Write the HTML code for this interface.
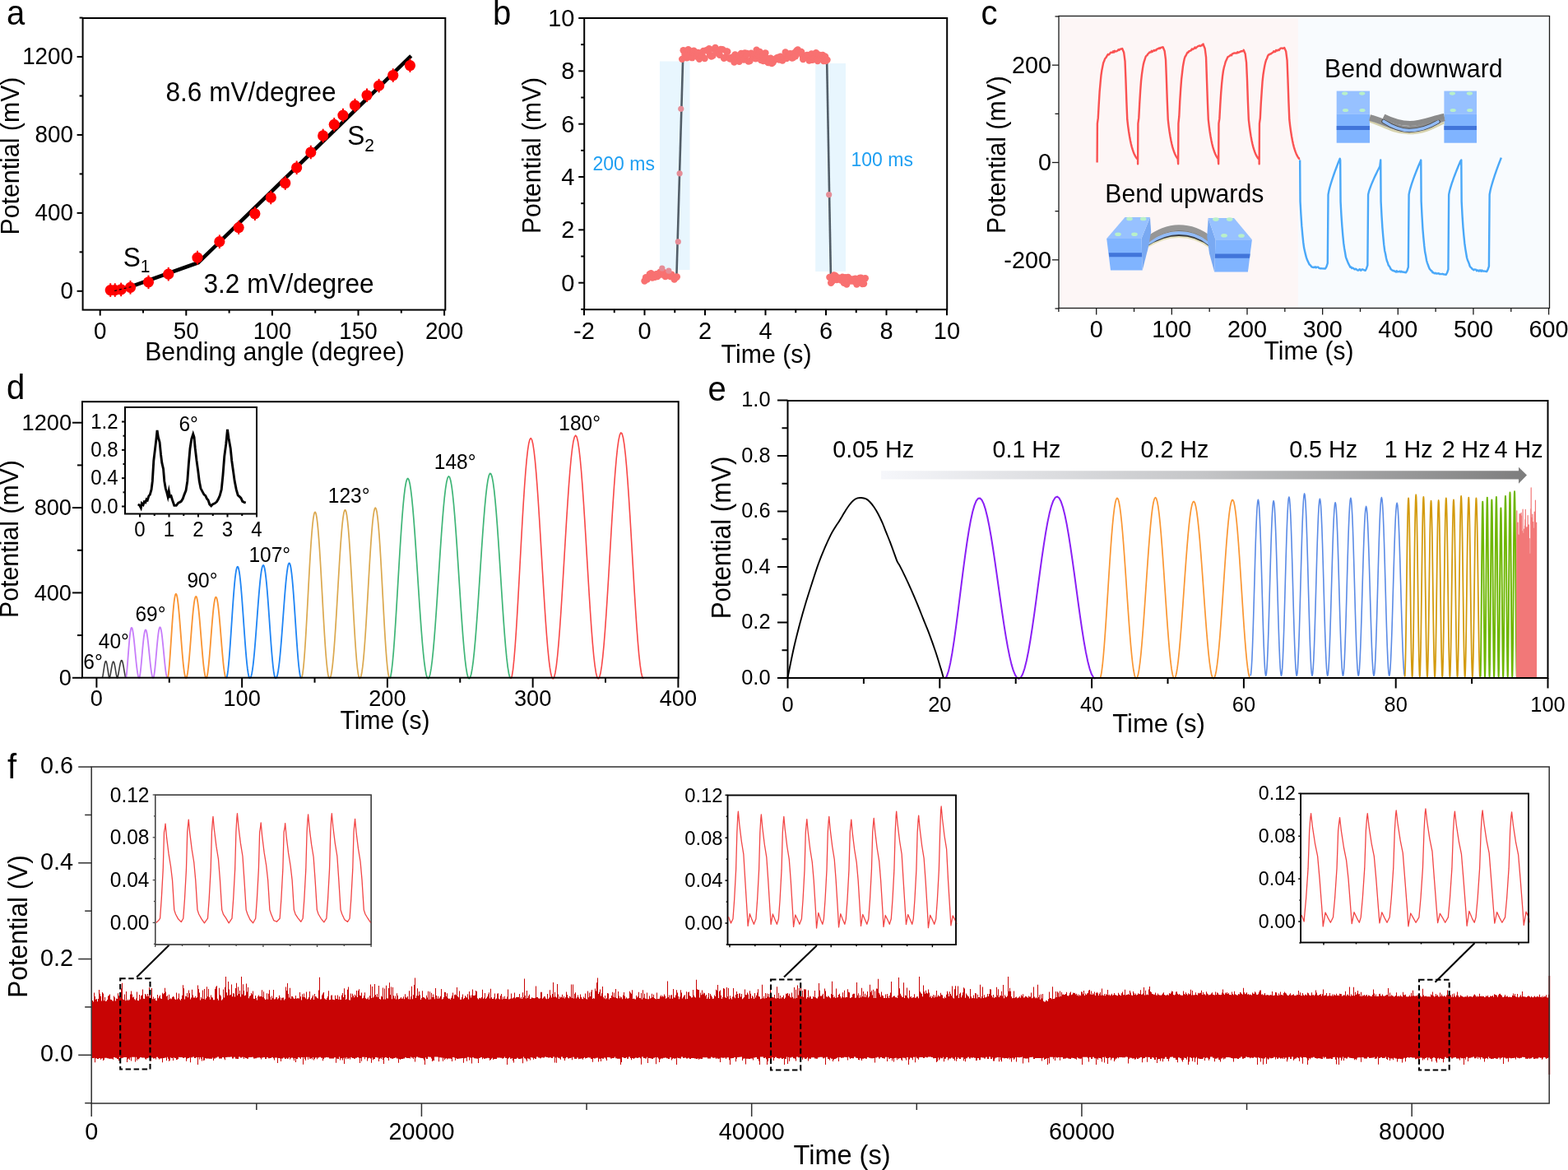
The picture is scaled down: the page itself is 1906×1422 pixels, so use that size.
<!DOCTYPE html>
<html><head><meta charset="utf-8"><title>Figure</title>
<style>html,body{margin:0;padding:0;background:#fff}svg{display:block}text{font-family:"Liberation Sans",sans-serif}</style>
</head><body>
<svg width="1906" height="1422" viewBox="0 0 1906 1422">
<rect width="1906" height="1422" fill="#fff"/>
<rect x="100.6" y="22" width="440.7" height="354.6" fill="none" stroke="#000" stroke-width="2" />
<line x1="121.7" y1="376.6" x2="121.7" y2="383.6" stroke="#000" stroke-width="2" />
<line x1="226.3" y1="376.6" x2="226.3" y2="383.6" stroke="#000" stroke-width="2" />
<line x1="330.9" y1="376.6" x2="330.9" y2="383.6" stroke="#000" stroke-width="2" />
<line x1="435.5" y1="376.6" x2="435.5" y2="383.6" stroke="#000" stroke-width="2" />
<line x1="540.1" y1="376.6" x2="540.1" y2="383.6" stroke="#000" stroke-width="2" />
<line x1="174" y1="376.6" x2="174" y2="380.6" stroke="#000" stroke-width="2" />
<line x1="278.6" y1="376.6" x2="278.6" y2="380.6" stroke="#000" stroke-width="2" />
<line x1="383.2" y1="376.6" x2="383.2" y2="380.6" stroke="#000" stroke-width="2" />
<line x1="487.8" y1="376.6" x2="487.8" y2="380.6" stroke="#000" stroke-width="2" />
<line x1="93.6" y1="353.8" x2="100.6" y2="353.8" stroke="#000" stroke-width="2" />
<line x1="93.6" y1="258.88" x2="100.6" y2="258.88" stroke="#000" stroke-width="2" />
<line x1="93.6" y1="163.96" x2="100.6" y2="163.96" stroke="#000" stroke-width="2" />
<line x1="93.6" y1="69.04" x2="100.6" y2="69.04" stroke="#000" stroke-width="2" />
<line x1="96.6" y1="306.34" x2="100.6" y2="306.34" stroke="#000" stroke-width="2" />
<line x1="96.6" y1="211.42" x2="100.6" y2="211.42" stroke="#000" stroke-width="2" />
<line x1="96.6" y1="116.5" x2="100.6" y2="116.5" stroke="#000" stroke-width="2" />
<line x1="96.6" y1="21.58" x2="100.6" y2="21.58" stroke="#000" stroke-width="2" />
<text transform="translate(121.7 411.5) scale(1 1.04)" font-size="27.8" text-anchor="middle" >0</text>
<text transform="translate(226.3 411.5) scale(1 1.04)" font-size="27.8" text-anchor="middle" >50</text>
<text transform="translate(330.9 411.5) scale(1 1.04)" font-size="27.8" text-anchor="middle" >100</text>
<text transform="translate(435.5 411.5) scale(1 1.04)" font-size="27.8" text-anchor="middle" >150</text>
<text transform="translate(540.1 411.5) scale(1 1.04)" font-size="27.8" text-anchor="middle" >200</text>
<text transform="translate(89 363.25) scale(1 1.04)" font-size="27.8" text-anchor="end" >0</text>
<text transform="translate(89 268.33) scale(1 1.04)" font-size="27.8" text-anchor="end" >400</text>
<text transform="translate(89 173.41) scale(1 1.04)" font-size="27.8" text-anchor="end" >800</text>
<text transform="translate(89 78.49) scale(1 1.04)" font-size="27.8" text-anchor="end" >1200</text>
<text transform="translate(334 437.5) scale(1 1.04)" font-size="30.2" text-anchor="middle" >Bending angle (degree)</text>
<text transform="translate(22.5 189.5) rotate(-90) scale(1 1.04)" font-size="30.3" text-anchor="middle" >Potential (mV)</text>
<text transform="translate(8 30.3) scale(1 1.04)" font-size="40" >a</text>
<path d="M152.02 350.94 L240.97 319.24 L499.73 67.92" fill="none" stroke="#000" stroke-width="4.6" stroke-linejoin="miter" stroke-miterlimit="4"/>
<circle cx="134.23" cy="352.56" r="6.6" fill="#ff0000"/>
<line x1="134.23" y1="344.26" x2="134.23" y2="360.86" stroke="#ff0000" stroke-width="2" />
<circle cx="139.73" cy="352.56" r="6.6" fill="#ff0000"/>
<line x1="139.73" y1="344.26" x2="139.73" y2="360.86" stroke="#ff0000" stroke-width="2" />
<circle cx="147.17" cy="351.91" r="6.6" fill="#ff0000"/>
<line x1="147.17" y1="343.61" x2="147.17" y2="360.21" stroke="#ff0000" stroke-width="2" />
<circle cx="158.49" cy="349.32" r="6.6" fill="#ff0000"/>
<line x1="158.49" y1="341.02" x2="158.49" y2="357.62" stroke="#ff0000" stroke-width="2" />
<circle cx="180.48" cy="342.85" r="6.6" fill="#ff0000"/>
<line x1="180.48" y1="334.55" x2="180.48" y2="351.15" stroke="#ff0000" stroke-width="2" />
<circle cx="204.74" cy="333.15" r="6.6" fill="#ff0000"/>
<line x1="204.74" y1="324.85" x2="204.74" y2="341.45" stroke="#ff0000" stroke-width="2" />
<circle cx="240" cy="313.1" r="6.6" fill="#ff0000"/>
<line x1="240" y1="304.8" x2="240" y2="321.4" stroke="#ff0000" stroke-width="2" />
<circle cx="266.84" cy="293.69" r="6.6" fill="#ff0000"/>
<line x1="266.84" y1="285.39" x2="266.84" y2="301.99" stroke="#ff0000" stroke-width="2" />
<circle cx="290.13" cy="276.55" r="6.6" fill="#ff0000"/>
<line x1="290.13" y1="268.25" x2="290.13" y2="284.85" stroke="#ff0000" stroke-width="2" />
<circle cx="309.86" cy="259.73" r="6.6" fill="#ff0000"/>
<line x1="309.86" y1="251.43" x2="309.86" y2="268.03" stroke="#ff0000" stroke-width="2" />
<circle cx="329.27" cy="240" r="6.6" fill="#ff0000"/>
<line x1="329.27" y1="231.7" x2="329.27" y2="248.3" stroke="#ff0000" stroke-width="2" />
<circle cx="346.73" cy="222.53" r="6.6" fill="#ff0000"/>
<line x1="346.73" y1="214.23" x2="346.73" y2="230.83" stroke="#ff0000" stroke-width="2" />
<circle cx="360.64" cy="203.77" r="6.6" fill="#ff0000"/>
<line x1="360.64" y1="195.47" x2="360.64" y2="212.07" stroke="#ff0000" stroke-width="2" />
<circle cx="377.79" cy="185.01" r="6.6" fill="#ff0000"/>
<line x1="377.79" y1="176.71" x2="377.79" y2="193.31" stroke="#ff0000" stroke-width="2" />
<circle cx="392.66" cy="164.96" r="6.6" fill="#ff0000"/>
<line x1="392.66" y1="156.66" x2="392.66" y2="173.26" stroke="#ff0000" stroke-width="2" />
<circle cx="406.25" cy="151.37" r="6.6" fill="#ff0000"/>
<line x1="406.25" y1="143.07" x2="406.25" y2="159.67" stroke="#ff0000" stroke-width="2" />
<circle cx="416.92" cy="140.05" r="6.6" fill="#ff0000"/>
<line x1="416.92" y1="131.75" x2="416.92" y2="148.35" stroke="#ff0000" stroke-width="2" />
<circle cx="431.48" cy="128.08" r="6.6" fill="#ff0000"/>
<line x1="431.48" y1="119.78" x2="431.48" y2="136.38" stroke="#ff0000" stroke-width="2" />
<circle cx="446.03" cy="115.79" r="6.6" fill="#ff0000"/>
<line x1="446.03" y1="107.49" x2="446.03" y2="124.09" stroke="#ff0000" stroke-width="2" />
<circle cx="460.59" cy="104.15" r="6.6" fill="#ff0000"/>
<line x1="460.59" y1="95.85" x2="460.59" y2="112.45" stroke="#ff0000" stroke-width="2" />
<circle cx="477.73" cy="91.54" r="6.6" fill="#ff0000"/>
<line x1="477.73" y1="83.24" x2="477.73" y2="99.84" stroke="#ff0000" stroke-width="2" />
<circle cx="498.43" cy="79.57" r="6.6" fill="#ff0000"/>
<line x1="498.43" y1="71.27" x2="498.43" y2="87.87" stroke="#ff0000" stroke-width="2" />
<path d="M139.08 353.53 L161.72 348.03" fill="none" stroke="#000" stroke-width="1.2" stroke-linejoin="round" stroke-dasharray="3 3"/>
<text transform="translate(201.5 123) scale(1 1.04)" font-size="31.6" >8.6 mV/degree</text>
<text transform="translate(247.5 356) scale(1 1.04)" font-size="31.6" >3.2 mV/degree</text>
<text transform="translate(149.8 323.5) scale(1 1.04)" font-size="31.6" >S<tspan font-size="21" dy="7.5">1</tspan></text>
<text transform="translate(422.3 176) scale(1 1.04)" font-size="31.6" >S<tspan font-size="21" dy="7.5">2</tspan></text>
<rect x="802" y="74.5" width="36.5" height="253.5" fill="#e8f6fe" stroke="none" stroke-width="1" />
<rect x="991.2" y="77" width="36.8" height="253" fill="#e8f6fe" stroke="none" stroke-width="1" />
<rect x="710.2" y="22" width="441" height="354.2" fill="none" stroke="#000" stroke-width="2" />
<line x1="710" y1="376.2" x2="710" y2="383.2" stroke="#000" stroke-width="2" />
<line x1="783.5" y1="376.2" x2="783.5" y2="383.2" stroke="#000" stroke-width="2" />
<line x1="857" y1="376.2" x2="857" y2="383.2" stroke="#000" stroke-width="2" />
<line x1="930.5" y1="376.2" x2="930.5" y2="383.2" stroke="#000" stroke-width="2" />
<line x1="1004" y1="376.2" x2="1004" y2="383.2" stroke="#000" stroke-width="2" />
<line x1="1077.5" y1="376.2" x2="1077.5" y2="383.2" stroke="#000" stroke-width="2" />
<line x1="1151" y1="376.2" x2="1151" y2="383.2" stroke="#000" stroke-width="2" />
<line x1="746.75" y1="376.2" x2="746.75" y2="380.2" stroke="#000" stroke-width="2" />
<line x1="820.25" y1="376.2" x2="820.25" y2="380.2" stroke="#000" stroke-width="2" />
<line x1="893.75" y1="376.2" x2="893.75" y2="380.2" stroke="#000" stroke-width="2" />
<line x1="967.25" y1="376.2" x2="967.25" y2="380.2" stroke="#000" stroke-width="2" />
<line x1="1040.75" y1="376.2" x2="1040.75" y2="380.2" stroke="#000" stroke-width="2" />
<line x1="1114.25" y1="376.2" x2="1114.25" y2="380.2" stroke="#000" stroke-width="2" />
<line x1="703.2" y1="343.7" x2="710.2" y2="343.7" stroke="#000" stroke-width="2" />
<line x1="703.2" y1="279.36" x2="710.2" y2="279.36" stroke="#000" stroke-width="2" />
<line x1="703.2" y1="215.02" x2="710.2" y2="215.02" stroke="#000" stroke-width="2" />
<line x1="703.2" y1="150.68" x2="710.2" y2="150.68" stroke="#000" stroke-width="2" />
<line x1="703.2" y1="86.34" x2="710.2" y2="86.34" stroke="#000" stroke-width="2" />
<line x1="703.2" y1="22" x2="710.2" y2="22" stroke="#000" stroke-width="2" />
<line x1="706.2" y1="375.87" x2="710.2" y2="375.87" stroke="#000" stroke-width="2" />
<line x1="706.2" y1="311.53" x2="710.2" y2="311.53" stroke="#000" stroke-width="2" />
<line x1="706.2" y1="247.19" x2="710.2" y2="247.19" stroke="#000" stroke-width="2" />
<line x1="706.2" y1="182.85" x2="710.2" y2="182.85" stroke="#000" stroke-width="2" />
<line x1="706.2" y1="118.51" x2="710.2" y2="118.51" stroke="#000" stroke-width="2" />
<line x1="706.2" y1="54.17" x2="710.2" y2="54.17" stroke="#000" stroke-width="2" />
<text transform="translate(710 412) scale(1 1.04)" font-size="29" text-anchor="middle" >-2</text>
<text transform="translate(783.5 412) scale(1 1.04)" font-size="29" text-anchor="middle" >0</text>
<text transform="translate(857 412) scale(1 1.04)" font-size="29" text-anchor="middle" >2</text>
<text transform="translate(930.5 412) scale(1 1.04)" font-size="29" text-anchor="middle" >4</text>
<text transform="translate(1004 412) scale(1 1.04)" font-size="29" text-anchor="middle" >6</text>
<text transform="translate(1077.5 412) scale(1 1.04)" font-size="29" text-anchor="middle" >8</text>
<text transform="translate(1151 412) scale(1 1.04)" font-size="29" text-anchor="middle" >10</text>
<text transform="translate(698.5 353.56) scale(1 1.04)" font-size="29" text-anchor="end" >0</text>
<text transform="translate(698.5 289.22) scale(1 1.04)" font-size="29" text-anchor="end" >2</text>
<text transform="translate(698.5 224.88) scale(1 1.04)" font-size="29" text-anchor="end" >4</text>
<text transform="translate(698.5 160.54) scale(1 1.04)" font-size="29" text-anchor="end" >6</text>
<text transform="translate(698.5 96.2) scale(1 1.04)" font-size="29" text-anchor="end" >8</text>
<text transform="translate(698.5 31.86) scale(1 1.04)" font-size="29" text-anchor="end" >10</text>
<text transform="translate(931.5 441) scale(1 1.04)" font-size="30.3" text-anchor="middle" >Time (s)</text>
<text transform="translate(657 189) rotate(-90) scale(1 1.04)" font-size="30" text-anchor="middle" >Potential (mV)</text>
<text transform="translate(599 30) scale(1 1.04)" font-size="40" >b</text>
<path d="M822.46 334.05 L830.17 70.25" fill="none" stroke="#525e68" stroke-width="2.6" stroke-linejoin="round" />
<path d="M1005.1 71.86 L1009.88 334.05" fill="none" stroke="#525e68" stroke-width="2.6" stroke-linejoin="round" />
<circle cx="783.5" cy="341.45" r="4.2" fill="#f87171"/>
<circle cx="785.07" cy="337.27" r="4.2" fill="#f87171"/>
<circle cx="786.65" cy="339.54" r="4.2" fill="#f87171"/>
<circle cx="788.22" cy="336.92" r="4.2" fill="#f87171"/>
<circle cx="789.79" cy="333.09" r="4.2" fill="#f87171"/>
<circle cx="791.36" cy="332.24" r="4.2" fill="#f87171"/>
<circle cx="792.94" cy="337.43" r="4.2" fill="#f87171"/>
<circle cx="794.51" cy="336.11" r="4.2" fill="#f87171"/>
<circle cx="796.08" cy="336.71" r="4.2" fill="#f87171"/>
<circle cx="797.66" cy="333.2" r="4.2" fill="#f87171"/>
<circle cx="799.23" cy="335.97" r="4.2" fill="#f87171"/>
<circle cx="800.8" cy="332.38" r="4.2" fill="#f87171"/>
<circle cx="802.37" cy="330.71" r="4.2" fill="#f87171"/>
<circle cx="803.95" cy="333.51" r="4.2" fill="#f87171"/>
<circle cx="805.52" cy="330.48" r="4.2" fill="#f87171"/>
<circle cx="807.09" cy="331.31" r="4.2" fill="#f87171"/>
<circle cx="808.67" cy="335.96" r="4.2" fill="#f87171"/>
<circle cx="810.24" cy="332.21" r="4.2" fill="#f87171"/>
<circle cx="811.81" cy="335.01" r="4.2" fill="#f87171"/>
<circle cx="813.39" cy="334.39" r="4.2" fill="#f87171"/>
<circle cx="814.96" cy="336.08" r="4.2" fill="#f87171"/>
<circle cx="816.53" cy="333.67" r="4.2" fill="#f87171"/>
<circle cx="818.1" cy="336.43" r="4.2" fill="#f87171"/>
<circle cx="819.68" cy="339.49" r="4.2" fill="#f87171"/>
<circle cx="821.25" cy="337.41" r="4.2" fill="#f87171"/>
<circle cx="822.82" cy="336.54" r="4.2" fill="#f87171"/>
<circle cx="829.15" cy="71.86" r="4.2" fill="#f87171"/>
<circle cx="830.65" cy="61.25" r="4.2" fill="#f87171"/>
<circle cx="832.51" cy="66.48" r="4.2" fill="#f87171"/>
<circle cx="834.93" cy="70.2" r="4.2" fill="#f87171"/>
<circle cx="836.61" cy="60.15" r="4.2" fill="#f87171"/>
<circle cx="837.78" cy="67.73" r="4.2" fill="#f87171"/>
<circle cx="839.74" cy="62.33" r="4.2" fill="#f87171"/>
<circle cx="841.27" cy="70.16" r="4.2" fill="#f87171"/>
<circle cx="842.2" cy="63.45" r="4.2" fill="#f87171"/>
<circle cx="843.4" cy="61.82" r="4.2" fill="#f87171"/>
<circle cx="845.85" cy="63.73" r="4.2" fill="#f87171"/>
<circle cx="847.32" cy="68.67" r="4.2" fill="#f87171"/>
<circle cx="848.65" cy="64.07" r="4.2" fill="#f87171"/>
<circle cx="850.07" cy="71.7" r="4.2" fill="#f87171"/>
<circle cx="851.96" cy="69.44" r="4.2" fill="#f87171"/>
<circle cx="853.67" cy="67.96" r="4.2" fill="#f87171"/>
<circle cx="854.99" cy="61.92" r="4.2" fill="#f87171"/>
<circle cx="856.64" cy="70.96" r="4.2" fill="#f87171"/>
<circle cx="858.51" cy="61.23" r="4.2" fill="#f87171"/>
<circle cx="860.72" cy="61.75" r="4.2" fill="#f87171"/>
<circle cx="861.93" cy="59.23" r="4.2" fill="#f87171"/>
<circle cx="863.1" cy="66.71" r="4.2" fill="#f87171"/>
<circle cx="864.71" cy="68.43" r="4.2" fill="#f87171"/>
<circle cx="866.59" cy="67.6" r="4.2" fill="#f87171"/>
<circle cx="867.84" cy="59.85" r="4.2" fill="#f87171"/>
<circle cx="869.46" cy="57.9" r="4.2" fill="#f87171"/>
<circle cx="871.54" cy="61.26" r="4.2" fill="#f87171"/>
<circle cx="872.53" cy="64.08" r="4.2" fill="#f87171"/>
<circle cx="874.73" cy="66.83" r="4.2" fill="#f87171"/>
<circle cx="876.17" cy="60.07" r="4.2" fill="#f87171"/>
<circle cx="878.29" cy="60.14" r="4.2" fill="#f87171"/>
<circle cx="879.97" cy="70.74" r="4.2" fill="#f87171"/>
<circle cx="881.51" cy="69.73" r="4.2" fill="#f87171"/>
<circle cx="883.12" cy="62.49" r="4.2" fill="#f87171"/>
<circle cx="884.28" cy="62.77" r="4.2" fill="#f87171"/>
<circle cx="886.33" cy="70.54" r="4.2" fill="#f87171"/>
<circle cx="887.46" cy="71.49" r="4.2" fill="#f87171"/>
<circle cx="889.42" cy="70.32" r="4.2" fill="#f87171"/>
<circle cx="890.68" cy="69.38" r="4.2" fill="#f87171"/>
<circle cx="892.47" cy="75.64" r="4.2" fill="#f87171"/>
<circle cx="893.53" cy="66.37" r="4.2" fill="#f87171"/>
<circle cx="895.41" cy="70.6" r="4.2" fill="#f87171"/>
<circle cx="898.1" cy="67.7" r="4.2" fill="#f87171"/>
<circle cx="898.63" cy="74.7" r="4.2" fill="#f87171"/>
<circle cx="900.93" cy="65.07" r="4.2" fill="#f87171"/>
<circle cx="902.48" cy="67.58" r="4.2" fill="#f87171"/>
<circle cx="904.21" cy="72.45" r="4.2" fill="#f87171"/>
<circle cx="905.46" cy="64.33" r="4.2" fill="#f87171"/>
<circle cx="907.26" cy="66.99" r="4.2" fill="#f87171"/>
<circle cx="908.1" cy="64.93" r="4.2" fill="#f87171"/>
<circle cx="909.73" cy="74.65" r="4.2" fill="#f87171"/>
<circle cx="911.53" cy="73.98" r="4.2" fill="#f87171"/>
<circle cx="913.08" cy="64.71" r="4.2" fill="#f87171"/>
<circle cx="914.62" cy="69.98" r="4.2" fill="#f87171"/>
<circle cx="916.28" cy="66.96" r="4.2" fill="#f87171"/>
<circle cx="918.52" cy="71.37" r="4.2" fill="#f87171"/>
<circle cx="919.61" cy="60.77" r="4.2" fill="#f87171"/>
<circle cx="922.35" cy="67.06" r="4.2" fill="#f87171"/>
<circle cx="923.57" cy="63.05" r="4.2" fill="#f87171"/>
<circle cx="924.98" cy="73.06" r="4.2" fill="#f87171"/>
<circle cx="926.84" cy="68.35" r="4.2" fill="#f87171"/>
<circle cx="927.81" cy="74.01" r="4.2" fill="#f87171"/>
<circle cx="930.4" cy="64.33" r="4.2" fill="#f87171"/>
<circle cx="931.89" cy="70.5" r="4.2" fill="#f87171"/>
<circle cx="933.34" cy="75.85" r="4.2" fill="#f87171"/>
<circle cx="934.6" cy="76.16" r="4.2" fill="#f87171"/>
<circle cx="936.75" cy="70.79" r="4.2" fill="#f87171"/>
<circle cx="938.23" cy="77.05" r="4.2" fill="#f87171"/>
<circle cx="939.72" cy="75.85" r="4.2" fill="#f87171"/>
<circle cx="941.71" cy="72.66" r="4.2" fill="#f87171"/>
<circle cx="942.92" cy="71.79" r="4.2" fill="#f87171"/>
<circle cx="944.14" cy="70.52" r="4.2" fill="#f87171"/>
<circle cx="946.04" cy="69.62" r="4.2" fill="#f87171"/>
<circle cx="947.13" cy="72.47" r="4.2" fill="#f87171"/>
<circle cx="948.74" cy="68.7" r="4.2" fill="#f87171"/>
<circle cx="951.15" cy="73.56" r="4.2" fill="#f87171"/>
<circle cx="952.85" cy="71.2" r="4.2" fill="#f87171"/>
<circle cx="954.74" cy="63.5" r="4.2" fill="#f87171"/>
<circle cx="956.18" cy="71.1" r="4.2" fill="#f87171"/>
<circle cx="957.35" cy="69.64" r="4.2" fill="#f87171"/>
<circle cx="958.3" cy="68.97" r="4.2" fill="#f87171"/>
<circle cx="960.51" cy="65.09" r="4.2" fill="#f87171"/>
<circle cx="962.77" cy="70.64" r="4.2" fill="#f87171"/>
<circle cx="964.18" cy="70.03" r="4.2" fill="#f87171"/>
<circle cx="965.36" cy="64.37" r="4.2" fill="#f87171"/>
<circle cx="966.93" cy="68.21" r="4.2" fill="#f87171"/>
<circle cx="968.2" cy="61.65" r="4.2" fill="#f87171"/>
<circle cx="969.76" cy="60.4" r="4.2" fill="#f87171"/>
<circle cx="971.23" cy="63.53" r="4.2" fill="#f87171"/>
<circle cx="974.05" cy="62.9" r="4.2" fill="#f87171"/>
<circle cx="975.29" cy="67.27" r="4.2" fill="#f87171"/>
<circle cx="976.18" cy="72.04" r="4.2" fill="#f87171"/>
<circle cx="978.2" cy="67.77" r="4.2" fill="#f87171"/>
<circle cx="979.28" cy="69.06" r="4.2" fill="#f87171"/>
<circle cx="981.14" cy="66.84" r="4.2" fill="#f87171"/>
<circle cx="983.52" cy="73.55" r="4.2" fill="#f87171"/>
<circle cx="985.02" cy="72.72" r="4.2" fill="#f87171"/>
<circle cx="986.39" cy="65.43" r="4.2" fill="#f87171"/>
<circle cx="987.7" cy="72.69" r="4.2" fill="#f87171"/>
<circle cx="989.88" cy="70.95" r="4.2" fill="#f87171"/>
<circle cx="991.94" cy="64.13" r="4.2" fill="#f87171"/>
<circle cx="992.8" cy="72.56" r="4.2" fill="#f87171"/>
<circle cx="993.88" cy="74.11" r="4.2" fill="#f87171"/>
<circle cx="995.48" cy="66.69" r="4.2" fill="#f87171"/>
<circle cx="997.13" cy="68.11" r="4.2" fill="#f87171"/>
<circle cx="1000.04" cy="66.9" r="4.2" fill="#f87171"/>
<circle cx="1001.04" cy="74.01" r="4.2" fill="#f87171"/>
<circle cx="1003.1" cy="68.76" r="4.2" fill="#f87171"/>
<circle cx="1003.73" cy="73.96" r="4.2" fill="#f87171"/>
<circle cx="1005.49" cy="72.83" r="4.2" fill="#f87171"/>
<circle cx="1008.41" cy="337.07" r="4.2" fill="#f87171"/>
<circle cx="1010.14" cy="343.84" r="4.2" fill="#f87171"/>
<circle cx="1011.88" cy="341.56" r="4.2" fill="#f87171"/>
<circle cx="1013.61" cy="334.55" r="4.2" fill="#f87171"/>
<circle cx="1015.35" cy="334.85" r="4.2" fill="#f87171"/>
<circle cx="1017.08" cy="340.02" r="4.2" fill="#f87171"/>
<circle cx="1018.82" cy="337.53" r="4.2" fill="#f87171"/>
<circle cx="1020.55" cy="338.72" r="4.2" fill="#f87171"/>
<circle cx="1022.29" cy="340.56" r="4.2" fill="#f87171"/>
<circle cx="1024.02" cy="336.66" r="4.2" fill="#f87171"/>
<circle cx="1025.76" cy="343.83" r="4.2" fill="#f87171"/>
<circle cx="1027.49" cy="337.21" r="4.2" fill="#f87171"/>
<circle cx="1029.23" cy="345.43" r="4.2" fill="#f87171"/>
<circle cx="1030.96" cy="337.06" r="4.2" fill="#f87171"/>
<circle cx="1032.69" cy="339.16" r="4.2" fill="#f87171"/>
<circle cx="1034.43" cy="341.65" r="4.2" fill="#f87171"/>
<circle cx="1036.16" cy="339.45" r="4.2" fill="#f87171"/>
<circle cx="1037.9" cy="341.76" r="4.2" fill="#f87171"/>
<circle cx="1039.63" cy="338.59" r="4.2" fill="#f87171"/>
<circle cx="1041.37" cy="345.58" r="4.2" fill="#f87171"/>
<circle cx="1043.1" cy="341.64" r="4.2" fill="#f87171"/>
<circle cx="1044.84" cy="338.03" r="4.2" fill="#f87171"/>
<circle cx="1046.57" cy="337.58" r="4.2" fill="#f87171"/>
<circle cx="1048.31" cy="344.99" r="4.2" fill="#f87171"/>
<circle cx="1050.04" cy="344.79" r="4.2" fill="#f87171"/>
<circle cx="1051.78" cy="338.2" r="4.2" fill="#f87171"/>
<circle cx="824.29" cy="293.84" r="3.6" fill="#e58d97"/>
<circle cx="826.13" cy="210.84" r="3.6" fill="#e58d97"/>
<circle cx="827.78" cy="132.34" r="3.6" fill="#e58d97"/>
<circle cx="1007.67" cy="236.57" r="3.6" fill="#e58d97"/>
<circle cx="804.82" cy="326.01" r="3.6" fill="#e58d97"/>
<circle cx="812.9" cy="329.22" r="3.6" fill="#e58d97"/>
<text transform="translate(720.5 207) scale(1 1.04)" font-size="23" fill="#1e9ff2" >200 ms</text>
<text transform="translate(1034.5 202) scale(1 1.04)" font-size="23" fill="#1e9ff2" >100 ms</text>
<rect x="1288" y="22.5" width="290" height="352" fill="#fdf6f6" stroke="none" stroke-width="1" />
<rect x="1578" y="22.5" width="305" height="352" fill="#f8fbfe" stroke="none" stroke-width="1" />
<rect x="1287" y="19.5" width="596.5" height="355" fill="none" stroke="#1a1a1a" stroke-width="1.3" />
<line x1="1332.7" y1="374.5" x2="1332.7" y2="382.5" stroke="#1a1a1a" stroke-width="1.3" />
<line x1="1424.35" y1="374.5" x2="1424.35" y2="382.5" stroke="#1a1a1a" stroke-width="1.3" />
<line x1="1516" y1="374.5" x2="1516" y2="382.5" stroke="#1a1a1a" stroke-width="1.3" />
<line x1="1607.65" y1="374.5" x2="1607.65" y2="382.5" stroke="#1a1a1a" stroke-width="1.3" />
<line x1="1699.3" y1="374.5" x2="1699.3" y2="382.5" stroke="#1a1a1a" stroke-width="1.3" />
<line x1="1790.95" y1="374.5" x2="1790.95" y2="382.5" stroke="#1a1a1a" stroke-width="1.3" />
<line x1="1882.6" y1="374.5" x2="1882.6" y2="382.5" stroke="#1a1a1a" stroke-width="1.3" />
<line x1="1286.88" y1="374.5" x2="1286.88" y2="379" stroke="#1a1a1a" stroke-width="1.3" />
<line x1="1378.53" y1="374.5" x2="1378.53" y2="379" stroke="#1a1a1a" stroke-width="1.3" />
<line x1="1470.17" y1="374.5" x2="1470.17" y2="379" stroke="#1a1a1a" stroke-width="1.3" />
<line x1="1561.83" y1="374.5" x2="1561.83" y2="379" stroke="#1a1a1a" stroke-width="1.3" />
<line x1="1653.47" y1="374.5" x2="1653.47" y2="379" stroke="#1a1a1a" stroke-width="1.3" />
<line x1="1745.12" y1="374.5" x2="1745.12" y2="379" stroke="#1a1a1a" stroke-width="1.3" />
<line x1="1836.78" y1="374.5" x2="1836.78" y2="379" stroke="#1a1a1a" stroke-width="1.3" />
<line x1="1279" y1="315.84" x2="1287" y2="315.84" stroke="#1a1a1a" stroke-width="1.3" />
<line x1="1279" y1="197.5" x2="1287" y2="197.5" stroke="#1a1a1a" stroke-width="1.3" />
<line x1="1279" y1="79.16" x2="1287" y2="79.16" stroke="#1a1a1a" stroke-width="1.3" />
<line x1="1282.5" y1="375.01" x2="1287" y2="375.01" stroke="#1a1a1a" stroke-width="1.3" />
<line x1="1282.5" y1="256.67" x2="1287" y2="256.67" stroke="#1a1a1a" stroke-width="1.3" />
<line x1="1282.5" y1="138.33" x2="1287" y2="138.33" stroke="#1a1a1a" stroke-width="1.3" />
<line x1="1282.5" y1="19.99" x2="1287" y2="19.99" stroke="#1a1a1a" stroke-width="1.3" />
<text transform="translate(1332.7 410) scale(1 1.04)" font-size="28.8" text-anchor="middle" >0</text>
<text transform="translate(1424.35 410) scale(1 1.04)" font-size="28.8" text-anchor="middle" >100</text>
<text transform="translate(1516 410) scale(1 1.04)" font-size="28.8" text-anchor="middle" >200</text>
<text transform="translate(1607.65 410) scale(1 1.04)" font-size="28.8" text-anchor="middle" >300</text>
<text transform="translate(1699.3 410) scale(1 1.04)" font-size="28.8" text-anchor="middle" >400</text>
<text transform="translate(1790.95 410) scale(1 1.04)" font-size="28.8" text-anchor="middle" >500</text>
<text transform="translate(1882.6 410) scale(1 1.04)" font-size="28.8" text-anchor="middle" >600</text>
<text transform="translate(1278 325.63) scale(1 1.04)" font-size="28.8" text-anchor="end" >-200</text>
<text transform="translate(1278 207.29) scale(1 1.04)" font-size="28.8" text-anchor="end" >0</text>
<text transform="translate(1278 88.95) scale(1 1.04)" font-size="28.8" text-anchor="end" >200</text>
<text transform="translate(1591 437.3) scale(1 1.04)" font-size="30" text-anchor="middle" >Time (s)</text>
<text transform="translate(1221.5 188) rotate(-90) scale(1 1.04)" font-size="30.3" text-anchor="middle" >Potential (mV)</text>
<text transform="translate(1192.5 30) scale(1 1.04)" font-size="40" >c</text>
<path d="M1333.62 197.5 L1333.89 150.16 L1334.81 143.38 L1335.72 126.45 L1336.64 111.27 L1337.56 101 L1338.47 91.49 L1339.39 85.2 L1340.31 80.8 L1341.22 76.29 L1342.14 74.32 L1343.06 71.5 L1343.97 70.52 L1344.89 69.21 L1345.81 67.61 L1346.72 66.08 L1347.64 66.64 L1348.56 65.88 L1349.47 64.65 L1350.39 63.61 L1351.3 63.84 L1352.22 63.76 L1353.14 62.35 L1354.05 63.63 L1354.97 61.83 L1355.89 62.48 L1356.8 62.39 L1357.72 62.09 L1358.64 61.41 L1359.55 60.17 L1360.47 60.96 L1361.39 59.91 L1362.3 59.47 L1363.22 59.61 L1364.14 58.96 L1364.14 59.04 L1366.15 63.78 L1367.53 74.43 L1368.44 96.91 L1369.36 123.54 L1370.28 145.43 L1371.19 153.28 L1372.11 160.01 L1373.03 165.77 L1373.94 170.72 L1374.86 174.96 L1375.78 178.6 L1376.69 181.71 L1377.61 184.39 L1378.53 186.68 L1379.44 188.64 L1380.36 190.33 L1381.27 191.77 L1382.19 193.01 L1383.11 194.07 L1383.11 199.28 L1383.38 150.16 L1384.3 143.38 L1385.22 125.82 L1386.13 111.02 L1387.05 98.71 L1387.96 90.34 L1388.88 83.86 L1389.8 78.36 L1390.71 74.83 L1391.63 72.27 L1392.55 69.24 L1393.46 67.76 L1394.38 67.29 L1395.3 65.68 L1396.21 64.94 L1397.13 63.62 L1398.05 63.29 L1398.96 63.55 L1399.88 61.85 L1400.8 62.94 L1401.71 62 L1402.63 61.01 L1403.55 61.71 L1404.46 60.75 L1405.38 61.19 L1406.29 59.72 L1407.21 59.2 L1408.13 59.19 L1409.04 58.31 L1409.96 58.97 L1410.88 57.95 L1411.79 57.78 L1412.71 57.47 L1413.63 57.35 L1413.63 57.27 L1415.64 62 L1417.02 72.65 L1417.93 96.91 L1418.85 123.54 L1419.77 145.43 L1420.68 153.28 L1421.6 160.01 L1422.52 165.77 L1423.43 170.72 L1424.35 174.96 L1425.27 178.6 L1426.18 181.71 L1427.1 184.39 L1428.02 186.68 L1428.93 188.64 L1429.85 190.33 L1430.77 191.77 L1431.68 193.01 L1432.14 199.28 L1432.42 150.16 L1433.33 141.23 L1434.25 122.91 L1435.16 108.81 L1436.08 96.71 L1437 88.75 L1437.91 80.78 L1438.83 75.75 L1439.75 71.29 L1440.66 68.69 L1441.58 67.45 L1442.5 65.59 L1443.41 63.78 L1444.33 63.88 L1445.25 62.25 L1446.16 62.07 L1447.08 61.55 L1448 61.12 L1448.91 59.38 L1449.83 60.07 L1450.75 59.45 L1451.66 58.79 L1452.58 57.56 L1453.49 58.59 L1454.41 57.57 L1455.33 57.03 L1456.24 56.08 L1457.16 55.84 L1458.08 55.41 L1458.99 56.1 L1459.91 55.51 L1460.83 55.26 L1461.74 53.98 L1462.66 53.5 L1462.66 54.31 L1464.68 59.04 L1466.05 69.69 L1466.97 96.91 L1467.88 123.54 L1468.8 145.43 L1469.72 153.28 L1470.63 160.01 L1471.55 165.77 L1472.47 170.72 L1473.38 174.96 L1474.3 178.6 L1475.22 181.71 L1476.13 184.39 L1477.05 186.68 L1477.97 188.64 L1478.88 190.33 L1479.8 191.77 L1480.71 193.01 L1481.17 199.28 L1481.45 150.16 L1482.36 144.15 L1483.28 127.21 L1484.2 113.05 L1485.11 101.93 L1486.03 92.92 L1486.95 86.24 L1487.86 81.94 L1488.78 78.73 L1489.7 75.23 L1490.61 73.23 L1491.53 71.27 L1492.45 69.34 L1493.36 68.81 L1494.28 68.31 L1495.2 67.45 L1496.11 66.77 L1497.03 67.36 L1497.94 65.4 L1498.86 65.19 L1499.78 64.63 L1500.69 64.39 L1501.61 64.74 L1502.53 64.37 L1503.44 64.55 L1504.36 63.26 L1505.28 63.94 L1506.19 63.59 L1507.11 63 L1508.03 62.75 L1508.94 62.1 L1509.86 62.28 L1510.78 62.04 L1511.69 61.44 L1511.69 60.82 L1513.71 65.55 L1515.08 76.2 L1516 96.91 L1516.92 123.54 L1517.83 145.43 L1518.75 153.28 L1519.67 160.01 L1520.58 165.77 L1521.5 170.72 L1522.42 174.96 L1523.33 178.6 L1524.25 181.71 L1525.16 184.39 L1526.08 186.68 L1527 188.64 L1527.91 190.33 L1528.83 191.77 L1529.75 193.01 L1530.66 194.07 L1530.66 199.28 L1530.94 150.16 L1531.86 143.47 L1532.77 125.54 L1533.69 111.69 L1534.6 98.77 L1535.52 90.45 L1536.44 84.63 L1537.35 79.45 L1538.27 75.54 L1539.19 72.68 L1540.1 70.97 L1541.02 68.04 L1541.94 66.51 L1542.85 66.43 L1543.77 65.57 L1544.69 65.59 L1545.6 64.97 L1546.52 64.02 L1547.44 63.69 L1548.35 62.25 L1549.27 63.03 L1550.19 62.89 L1551.1 60.87 L1552.02 61.26 L1552.93 61.58 L1553.85 60.52 L1554.77 61.09 L1555.68 59.86 L1556.6 58.71 L1557.52 58.58 L1558.43 58.53 L1559.35 58.96 L1560.27 58.44 L1561.18 58.45 L1561.18 57.86 L1563.2 62.59 L1564.57 73.24 L1565.49 96.91 L1566.41 123.54 L1567.32 145.43 L1568.24 153.28 L1569.16 160.01 L1570.07 165.77 L1570.99 170.72 L1571.91 174.96 L1572.82 178.6 L1573.74 181.71 L1574.66 184.39 L1575.57 186.68 L1576.49 188.64 L1577.41 190.33 L1578.32 191.77 L1579.24 193.01 L1580.15 192.77" fill="none" stroke="#fa5252" stroke-width="2.4" stroke-linejoin="round" />
<path d="M1580.15 194.54 L1580.52 244.84 L1581.44 261.17 L1582.35 274.93 L1583.27 285.06 L1584.19 294.23 L1585.1 301.05 L1586.02 305.26 L1586.94 309.12 L1587.85 312.66 L1588.77 315.36 L1589.69 317.41 L1590.6 319.19 L1591.52 321.41 L1592.44 321.92 L1593.35 323.03 L1594.27 324.26 L1595.19 324.77 L1596.1 324.74 L1597.02 325.09 L1597.94 324.58 L1598.85 324.31 L1599.77 325.38 L1600.68 324.64 L1601.6 324.65 L1602.52 324.79 L1603.43 325.9 L1604.35 326.2 L1605.27 326.23 L1606.18 326.32 L1607.1 326.33 L1611.04 326.49 L1612.42 324.12 L1613.79 319.98 L1614.52 236.55 L1615.44 231.66 L1616.36 228.04 L1617.27 224.78 L1618.19 221.74 L1619.11 218.84 L1620.02 216.06 L1620.94 213.37 L1621.86 210.76 L1622.77 208.21 L1623.69 205.72 L1624.61 203.27 L1625.52 200.87 L1626.44 198.51 L1627.35 196.19 L1628.27 193.9 L1628.73 192.77 L1629.19 194.54 L1629.55 244.84 L1630.47 261.93 L1631.39 275.16 L1632.3 286.13 L1633.22 295.39 L1634.14 301.91 L1635.05 307.06 L1635.97 312.62 L1636.89 315 L1637.8 317.25 L1638.72 319.61 L1639.64 321.36 L1640.55 323.18 L1641.47 324.78 L1642.39 324.54 L1643.3 326.01 L1644.22 325.71 L1645.13 325.83 L1646.05 327.18 L1646.97 327.44 L1647.88 326.68 L1648.8 327.24 L1649.72 328.35 L1650.63 328.53 L1651.55 328.57 L1652.47 327.3 L1653.38 327.52 L1654.3 328.74 L1655.22 327.56 L1656.13 327.31 L1659.62 328.86 L1660.99 326.49 L1662.37 322.35 L1663.1 236.55 L1664.01 232.72 L1664.93 229.88 L1665.85 227.33 L1666.76 224.94 L1667.68 222.67 L1668.6 220.49 L1669.51 218.38 L1670.43 216.33 L1671.35 214.34 L1672.26 212.38 L1673.18 210.47 L1674.1 208.59 L1675.01 206.74 L1675.93 204.92 L1676.85 203.12 L1677.3 202.23 L1678.22 194.54 L1678.59 244.84 L1679.5 262.36 L1680.42 277.01 L1681.34 287.84 L1682.25 297.44 L1683.17 304.67 L1684.09 308.54 L1685 313.52 L1685.92 317.24 L1686.84 319.28 L1687.75 322.37 L1688.67 323.33 L1689.59 324.79 L1690.5 326.97 L1691.42 327.77 L1692.33 328.38 L1693.25 329.02 L1694.17 328.83 L1695.08 329.76 L1696 329.74 L1696.92 330.47 L1697.83 329.26 L1698.75 330.38 L1699.67 330.3 L1700.58 330.16 L1701.5 329.66 L1702.42 330.57 L1703.33 329.73 L1704.25 330.5 L1705.17 330.47 L1709.11 331.22 L1710.48 328.86 L1711.86 324.72 L1712.59 236.55 L1713.51 232 L1714.42 228.62 L1715.34 225.58 L1716.26 222.74 L1717.17 220.04 L1718.09 217.44 L1719 214.94 L1719.92 212.5 L1720.84 210.12 L1721.75 207.8 L1722.67 205.52 L1723.59 203.28 L1724.5 201.08 L1725.42 198.92 L1726.34 196.78 L1726.8 195.72 L1727.25 194.54 L1727.62 244.84 L1728.54 263.15 L1729.45 278.59 L1730.37 289.37 L1731.29 298.96 L1732.2 306.52 L1733.12 310.85 L1734.04 316.51 L1734.95 319.58 L1735.87 321.99 L1736.78 324.55 L1737.7 326.75 L1738.62 327.83 L1739.53 328.89 L1740.45 329.38 L1741.37 331.29 L1742.28 331.05 L1743.2 332.04 L1744.12 332.35 L1745.03 331.75 L1745.95 332.44 L1746.87 332.52 L1747.78 332.3 L1748.7 332.14 L1749.62 333.06 L1750.53 332.83 L1751.45 333.08 L1752.37 333.11 L1753.28 332.82 L1754.2 333.28 L1757.68 333.89 L1759.06 331.52 L1760.43 327.38 L1761.16 236.55 L1762.08 232 L1763 228.62 L1763.91 225.58 L1764.83 222.74 L1765.75 220.04 L1766.66 217.44 L1767.58 214.94 L1768.5 212.5 L1769.41 210.12 L1770.33 207.8 L1771.25 205.52 L1772.16 203.28 L1773.08 201.08 L1773.99 198.92 L1774.91 196.78 L1775.37 195.72 L1776.29 194.54 L1776.65 244.84 L1777.57 262.33 L1778.49 276.35 L1779.4 286.55 L1780.32 295.72 L1781.24 302.33 L1782.15 307.7 L1783.07 313.26 L1783.98 316.18 L1784.9 318.23 L1785.82 320.58 L1786.73 323.54 L1787.65 324.93 L1788.57 325.44 L1789.48 326.95 L1790.4 327.32 L1791.32 328.16 L1792.23 327.52 L1793.15 327.66 L1794.07 327.72 L1794.98 329.25 L1795.9 328.43 L1796.82 328.66 L1797.73 329.68 L1798.65 328.45 L1799.57 328.37 L1800.48 329.75 L1801.4 328.49 L1802.31 329.5 L1803.23 329.37 L1807.17 330.04 L1808.55 327.67 L1809.92 323.53 L1810.65 236.55 L1811.57 231.53 L1812.49 227.81 L1813.4 224.46 L1814.32 221.34 L1815.24 218.36 L1816.15 215.51 L1817.07 212.74 L1817.99 210.06 L1818.9 207.44 L1819.82 204.88 L1820.74 202.37 L1821.65 199.91 L1822.57 197.49 L1823.49 195.1 L1824.4 192.75 L1824.86 191.58" fill="none" stroke="#4aa8f8" stroke-width="2.4" stroke-linejoin="round" />
<text transform="translate(1610 93.7) scale(1 1.04)" font-size="30.2" >Bend downward</text>
<text transform="translate(1343.3 245.7) scale(1 1.04)" font-size="30.2" >Bend upwards</text>
<path d="M124.2 823.88 L124.42 823.54 L124.64 822.84 L124.86 821.91 L125.08 820.79 L125.3 819.53 L125.52 818.16 L125.74 816.72 L125.96 815.23 L126.18 813.74 L126.4 812.26 L126.62 810.83 L126.84 809.46 L127.06 808.2 L127.28 807.06 L127.5 806.05 L127.72 805.21 L127.94 804.53 L128.16 804.04 L128.38 803.74 L128.6 803.64 L128.82 803.74 L129.04 804.04 L129.26 804.53 L129.48 805.21 L129.7 806.05 L129.92 807.06 L130.14 808.2 L130.36 809.46 L130.58 810.83 L130.8 812.26 L131.02 813.74 L131.24 815.23 L131.46 816.72 L131.68 818.16 L131.9 819.53 L132.12 820.79 L132.34 821.91 L132.56 822.84 L132.78 823.54 L133 823.88 L133 823.88 L133.24 823.57 L133.47 822.94 L133.71 822.07 L133.95 821.03 L134.19 819.84 L134.43 818.54 L134.66 817.16 L134.9 815.74 L135.14 814.29 L135.38 812.85 L135.61 811.45 L135.85 810.12 L136.09 808.86 L136.32 807.72 L136.56 806.71 L136.8 805.85 L137.04 805.16 L137.28 804.64 L137.51 804.31 L137.75 804.17 L137.99 804.22 L138.22 804.48 L138.46 804.92 L138.7 805.55 L138.94 806.35 L139.18 807.31 L139.41 808.41 L139.65 809.64 L139.89 810.96 L140.12 812.37 L140.36 813.82 L140.6 815.29 L140.84 816.76 L141.07 818.19 L141.31 819.55 L141.55 820.8 L141.79 821.91 L142.03 822.84 L142.26 823.53 L142.5 823.88 L142.5 823.88 L142.76 823.55 L143.03 822.86 L143.29 821.92 L143.55 820.79 L143.81 819.51 L144.07 818.1 L144.34 816.61 L144.6 815.07 L144.86 813.51 L145.12 811.96 L145.39 810.45 L145.65 809.01 L145.91 807.66 L146.18 806.43 L146.44 805.34 L146.7 804.42 L146.96 803.67 L147.22 803.11 L147.49 802.76 L147.75 802.62 L148.01 802.68 L148.28 802.96 L148.54 803.44 L148.8 804.12 L149.06 804.99 L149.32 806.02 L149.59 807.22 L149.85 808.54 L150.11 809.97 L150.38 811.48 L150.64 813.05 L150.9 814.64 L151.16 816.22 L151.43 817.76 L151.69 819.22 L151.95 820.57 L152.21 821.77 L152.47 822.77 L152.74 823.51 L153 823.88" fill="none" stroke="#3a3a3a" stroke-width="1.6" stroke-linejoin="round" />
<path d="M153 824.04 L153.41 822.69 L153.81 819.86 L154.22 816.05 L154.62 811.54 L155.03 806.56 L155.43 801.3 L155.84 795.93 L156.24 790.62 L156.65 785.51 L157.05 780.72 L157.45 776.35 L157.86 772.49 L158.26 769.22 L158.67 766.59 L159.07 764.64 L159.48 763.39 L159.88 762.85 L160.29 762.99 L160.69 763.81 L161.1 765.26 L161.5 767.31 L161.91 769.88 L162.31 772.91 L162.72 776.34 L163.12 780.09 L163.53 784.08 L163.94 788.22 L164.34 792.43 L164.75 796.64 L165.15 800.76 L165.55 804.72 L165.96 808.46 L166.36 811.9 L166.77 814.99 L167.17 817.69 L167.58 819.94 L167.98 821.72 L168.39 823.01 L168.79 823.79 L169.2 824.04 L169.2 824.03 L169.62 823.22 L170.05 821.28 L170.47 818.46 L170.9 814.93 L171.32 810.85 L171.75 806.37 L172.17 801.63 L172.6 796.77 L173.02 791.91 L173.45 787.19 L173.88 782.72 L174.3 778.61 L174.72 774.93 L175.15 771.78 L175.57 769.22 L176 767.29 L176.42 766.03 L176.85 765.44 L177.27 765.54 L177.7 766.31 L178.12 767.72 L178.55 769.72 L178.97 772.27 L179.4 775.3 L179.82 778.74 L180.25 782.51 L180.67 786.52 L181.1 790.69 L181.52 794.94 L181.95 799.15 L182.38 803.27 L182.8 807.19 L183.22 810.84 L183.65 814.16 L184.07 817.07 L184.5 819.52 L184.92 821.47 L185.35 822.89 L185.77 823.75 L186.2 824.03 L186.2 824.05 L186.64 823.41 L187.07 821.75 L187.51 819.23 L187.95 815.98 L188.39 812.12 L188.82 807.78 L189.26 803.09 L189.7 798.17 L190.14 793.16 L190.57 788.2 L191.01 783.39 L191.45 778.87 L191.89 774.73 L192.32 771.07 L192.76 767.98 L193.2 765.51 L193.64 763.72 L194.07 762.65 L194.51 762.3 L194.95 762.69 L195.39 763.78 L195.82 765.56 L196.26 767.97 L196.7 770.95 L197.14 774.43 L197.57 778.32 L198.01 782.54 L198.45 786.99 L198.89 791.56 L199.32 796.16 L199.76 800.68 L200.2 805.03 L200.64 809.11 L201.07 812.83 L201.51 816.11 L201.95 818.9 L202.39 821.12 L202.82 822.74 L203.26 823.72 L203.7 824.05" fill="none" stroke="#c77dfa" stroke-width="1.8" stroke-linejoin="round" />
<path d="M203.7 824.21 L204.26 822.64 L204.82 818.99 L205.39 813.78 L205.95 807.34 L206.51 799.96 L207.07 791.91 L207.64 783.47 L208.2 774.86 L208.76 766.34 L209.32 758.11 L209.89 750.38 L210.45 743.31 L211.01 737.07 L211.57 731.78 L212.14 727.55 L212.7 724.44 L213.26 722.49 L213.82 721.74 L214.39 722.17 L214.95 723.75 L215.51 726.42 L216.07 730.1 L216.64 734.7 L217.2 740.11 L217.76 746.19 L218.32 752.8 L218.89 759.81 L219.45 767.06 L220.01 774.41 L220.57 781.69 L221.14 788.76 L221.7 795.49 L222.26 801.74 L222.82 807.4 L223.39 812.37 L223.95 816.54 L224.51 819.86 L225.07 822.27 L225.64 823.72 L226.2 824.21 L226.2 824.2 L226.81 823.44 L227.42 821.31 L228.04 817.93 L228.65 813.41 L229.26 807.9 L229.88 801.54 L230.49 794.52 L231.1 787.02 L231.71 779.22 L232.32 771.33 L232.94 763.54 L233.55 756.05 L234.16 749.03 L234.77 742.66 L235.39 737.09 L236 732.45 L236.61 728.84 L237.22 726.35 L237.84 725.04 L238.45 724.93 L239.06 726.02 L239.67 728.27 L240.29 731.64 L240.9 736.02 L241.51 741.32 L242.12 747.41 L242.74 754.13 L243.35 761.33 L243.96 768.84 L244.57 776.47 L245.19 784.05 L245.8 791.39 L246.41 798.34 L247.02 804.72 L247.64 810.38 L248.25 815.2 L248.86 819.07 L249.47 821.9 L250.09 823.62 L250.7 824.2 L250.7 824.19 L251.31 823.38 L251.91 821.13 L252.52 817.6 L253.13 812.93 L253.74 807.27 L254.34 800.8 L254.95 793.68 L255.56 786.12 L256.17 778.3 L256.77 770.44 L257.38 762.72 L257.99 755.33 L258.6 748.46 L259.2 742.26 L259.81 736.88 L260.42 732.46 L261.03 729.07 L261.63 726.81 L262.24 725.71 L262.85 725.8 L263.46 727.07 L264.06 729.48 L264.67 732.96 L265.28 737.42 L265.89 742.77 L266.5 748.86 L267.1 755.56 L267.71 762.69 L268.32 770.11 L268.93 777.62 L269.53 785.06 L270.14 792.25 L270.75 799.04 L271.36 805.26 L271.96 810.78 L272.57 815.47 L273.18 819.22 L273.78 821.97 L274.39 823.63 L275 824.19" fill="none" stroke="#fa9432" stroke-width="1.8" stroke-linejoin="round" />
<path d="M275 824.34 L275.72 823.1 L276.44 819.78 L277.15 814.65 L277.87 807.93 L278.59 799.85 L279.31 790.67 L280.02 780.65 L280.74 770.07 L281.46 759.21 L282.18 748.33 L282.89 737.73 L283.61 727.65 L284.33 718.33 L285.05 710 L285.76 702.85 L286.48 697.04 L287.2 692.69 L287.92 689.89 L288.63 688.7 L289.35 689.13 L290.07 691.16 L290.78 694.73 L291.5 699.73 L292.22 706.06 L292.94 713.54 L293.65 722.01 L294.37 731.25 L295.09 741.06 L295.81 751.2 L296.52 761.44 L297.24 771.55 L297.96 781.31 L298.68 790.49 L299.39 798.88 L300.11 806.32 L300.83 812.63 L301.55 817.67 L302.26 821.35 L302.98 823.59 L303.7 824.34 L303.7 824.35 L304.48 823.81 L305.26 822.03 L306.05 818.9 L306.83 814.41 L307.61 808.63 L308.39 801.62 L309.18 793.53 L309.96 784.52 L310.74 774.77 L311.52 764.52 L312.31 753.99 L313.09 743.44 L313.87 733.13 L314.65 723.31 L315.44 714.23 L316.22 706.14 L317 699.25 L317.78 693.74 L318.57 689.77 L319.35 687.45 L320.13 686.87 L320.92 688.06 L321.7 690.98 L322.48 695.6 L323.26 701.79 L324.05 709.41 L324.83 718.27 L325.61 728.14 L326.39 738.75 L327.18 749.84 L327.96 761.11 L328.74 772.25 L329.52 782.97 L330.31 792.96 L331.09 801.94 L331.87 809.68 L332.65 815.95 L333.44 820.57 L334.22 823.39 L335 824.35 L335 824.36 L335.78 823.94 L336.56 822.45 L337.34 819.74 L338.12 815.75 L338.9 810.5 L339.68 804.02 L340.46 796.4 L341.24 787.79 L342.02 778.34 L342.8 768.26 L343.58 757.75 L344.36 747.08 L345.14 736.49 L345.92 726.24 L346.7 716.6 L347.48 707.83 L348.26 700.15 L349.04 693.8 L349.82 688.95 L350.6 685.76 L351.38 684.34 L352.16 684.74 L352.94 686.99 L353.72 691.04 L354.5 696.81 L355.28 704.16 L356.06 712.92 L356.84 722.84 L357.62 733.67 L358.4 745.12 L359.18 756.86 L359.96 768.57 L360.74 779.9 L361.52 790.54 L362.3 800.16 L363.08 808.48 L363.86 815.25 L364.64 820.25 L365.42 823.32 L366.2 824.36" fill="none" stroke="#1f85f5" stroke-width="1.8" stroke-linejoin="round" />
<path d="M366.2 824.61 L367.06 823.07 L367.91 818.73 L368.77 811.84 L369.63 802.64 L370.49 791.41 L371.34 778.47 L372.2 764.17 L373.06 748.89 L373.92 733.01 L374.77 716.94 L375.63 701.08 L376.49 685.82 L377.35 671.53 L378.2 658.55 L379.06 647.21 L379.92 637.75 L380.78 630.41 L381.63 625.35 L382.49 622.68 L383.35 622.45 L384.21 624.67 L385.06 629.26 L385.92 636.1 L386.78 645.03 L387.64 655.82 L388.5 668.22 L389.35 681.91 L390.21 696.58 L391.07 711.86 L391.93 727.41 L392.78 742.84 L393.64 757.8 L394.5 771.95 L395.36 784.94 L396.21 796.48 L397.07 806.3 L397.93 814.17 L398.78 819.93 L399.64 823.43 L400.5 824.61 L400.5 824.62 L401.42 823.76 L402.33 820.95 L403.25 816.09 L404.17 809.16 L405.09 800.28 L406 789.58 L406.92 777.27 L407.84 763.61 L408.76 748.91 L409.68 733.49 L410.59 717.73 L411.51 701.99 L412.43 686.67 L413.34 672.15 L414.26 658.8 L415.18 646.96 L416.1 636.95 L417.01 629.04 L417.93 623.44 L418.85 620.32 L419.77 619.78 L420.69 621.84 L421.6 626.49 L422.52 633.61 L423.44 643.04 L424.36 654.55 L425.27 667.84 L426.19 682.58 L427.11 698.39 L428.02 714.86 L428.94 731.54 L429.86 748.01 L430.78 763.81 L431.69 778.52 L432.61 791.75 L433.53 803.11 L434.45 812.31 L435.37 819.08 L436.28 823.22 L437.2 824.62 L437.2 824.63 L438.11 823.87 L439.02 821.28 L439.94 816.72 L440.85 810.16 L441.76 801.64 L442.68 791.28 L443.59 779.28 L444.5 765.86 L445.41 751.3 L446.32 735.93 L447.24 720.11 L448.15 704.2 L449.06 688.59 L449.97 673.68 L450.89 659.85 L451.8 647.45 L452.71 636.83 L453.62 628.26 L454.54 622 L455.45 618.24 L456.36 617.09 L457.27 618.61 L458.19 622.79 L459.1 629.55 L460.01 638.73 L460.93 650.11 L461.84 663.39 L462.75 678.25 L463.66 694.29 L464.57 711.08 L465.49 728.17 L466.4 745.11 L467.31 761.42 L468.22 776.65 L469.14 790.37 L470.05 802.19 L470.96 811.77 L471.88 818.84 L472.79 823.17 L473.7 824.63" fill="none" stroke="#dba84e" stroke-width="1.7" stroke-linejoin="round" />
<path d="M473.7 824.77 L474.87 822.09 L476.03 815.25 L477.2 804.98 L478.37 791.8 L479.54 776.24 L480.7 758.82 L481.87 740.06 L483.04 720.5 L484.21 700.66 L485.38 681.06 L486.54 662.19 L487.71 644.49 L488.88 628.38 L490.04 614.23 L491.21 602.35 L492.38 592.98 L493.55 586.3 L494.71 582.44 L495.88 581.46 L497.05 583.32 L498.22 587.97 L499.38 595.26 L500.55 604.99 L501.72 616.92 L502.89 630.76 L504.06 646.18 L505.22 662.83 L506.39 680.32 L507.56 698.27 L508.72 716.27 L509.89 733.94 L511.06 750.89 L512.23 766.77 L513.39 781.24 L514.56 794.01 L515.73 804.81 L516.9 813.42 L518.06 819.69 L519.23 823.5 L520.4 824.77 L520.4 824.78 L521.64 823.39 L522.89 819.16 L524.13 812.15 L525.38 802.49 L526.62 790.39 L527.87 776.13 L529.12 760.05 L530.36 742.53 L531.61 724 L532.85 704.91 L534.1 685.72 L535.34 666.9 L536.59 648.92 L537.83 632.22 L539.08 617.22 L540.32 604.29 L541.57 593.76 L542.81 585.89 L544.06 580.89 L545.3 578.88 L546.55 579.91 L547.79 583.98 L549.03 590.97 L550.28 600.73 L551.52 613.01 L552.77 627.5 L554.01 643.86 L555.26 661.68 L556.5 680.5 L557.75 699.87 L559 719.29 L560.24 738.28 L561.49 756.36 L562.73 773.08 L563.98 788.01 L565.22 800.79 L566.47 811.08 L567.71 818.62 L568.96 823.23 L570.2 824.78 L570.2 824.79 L571.47 823.5 L572.74 819.47 L574.01 812.7 L575.28 803.29 L576.55 791.43 L577.82 777.37 L579.09 761.42 L580.36 743.96 L581.63 725.4 L582.9 706.17 L584.17 686.76 L585.44 667.62 L586.71 649.24 L587.98 632.07 L589.25 616.54 L590.52 603.04 L591.79 591.93 L593.06 583.47 L594.33 577.91 L595.6 575.37 L596.87 575.95 L598.14 579.64 L599.41 586.34 L600.68 595.91 L601.95 608.11 L603.22 622.64 L604.49 639.14 L605.76 657.2 L607.03 676.35 L608.3 696.12 L609.57 716 L610.84 735.49 L612.11 754.09 L613.38 771.32 L614.65 786.74 L615.92 799.95 L617.19 810.6 L618.46 818.41 L619.73 823.19 L621 824.79" fill="none" stroke="#3fb577" stroke-width="1.7" stroke-linejoin="round" />
<path d="M621 824.96 L622.28 821.84 L623.56 813.8 L624.84 801.67 L626.12 786.05 L627.4 767.57 L628.68 746.81 L629.96 724.42 L631.24 701.03 L632.52 677.26 L633.8 653.72 L635.08 631.01 L636.36 609.66 L637.64 590.19 L638.92 573.03 L640.2 558.57 L641.48 547.1 L642.76 538.86 L644.04 534 L645.32 532.6 L646.6 534.64 L647.88 540.03 L649.16 548.62 L650.44 560.17 L651.72 574.4 L653 590.95 L654.28 609.44 L655.56 629.43 L656.84 650.47 L658.12 672.08 L659.4 693.78 L660.68 715.1 L661.96 735.57 L663.24 754.76 L664.52 772.26 L665.8 787.71 L667.08 800.78 L668.36 811.22 L669.64 818.81 L670.92 823.42 L672.2 824.96 L672.2 824.98 L673.58 823.16 L674.95 817.74 L676.33 808.86 L677.7 796.74 L679.08 781.67 L680.45 764.02 L681.83 744.24 L683.2 722.8 L684.58 700.23 L685.95 677.1 L687.33 653.97 L688.7 631.4 L690.08 609.97 L691.45 590.18 L692.83 572.54 L694.2 557.47 L695.58 545.34 L696.95 536.46 L698.33 531.04 L699.7 529.22 L701.08 531.04 L702.45 536.46 L703.83 545.34 L705.2 557.47 L706.58 572.54 L707.95 590.18 L709.33 609.97 L710.7 631.4 L712.08 653.97 L713.45 677.1 L714.83 700.23 L716.2 722.8 L717.58 744.24 L718.95 764.02 L720.33 781.67 L721.7 796.74 L723.08 808.86 L724.45 817.74 L725.83 823.16 L727.2 824.98 L727.2 824.99 L728.58 823.35 L729.95 818.33 L731.33 809.96 L732.7 798.38 L734.08 783.85 L735.45 766.69 L736.83 747.3 L738.2 726.14 L739.58 703.71 L740.95 680.55 L742.33 657.23 L743.7 634.32 L745.08 612.39 L746.45 591.98 L747.83 573.6 L749.2 557.7 L750.58 544.7 L751.95 534.92 L753.33 528.62 L754.7 525.95 L756.08 527 L757.45 531.75 L758.83 540.08 L760.2 551.8 L761.58 566.62 L762.95 584.18 L764.33 604.03 L765.7 625.69 L767.08 648.61 L768.45 672.21 L769.83 695.91 L771.2 719.11 L772.58 741.21 L773.95 761.66 L775.33 779.95 L776.7 795.59 L778.08 808.2 L779.45 817.44 L780.83 823.09 L782.2 824.99" fill="none" stroke="#f84848" stroke-width="1.6" stroke-linejoin="round" />
<rect x="100" y="488.2" width="724.7" height="335.5" fill="none" stroke="#000" stroke-width="2" />
<line x1="117.4" y1="823.7" x2="117.4" y2="835.7" stroke="#000" stroke-width="2" />
<line x1="294.15" y1="823.7" x2="294.15" y2="835.7" stroke="#000" stroke-width="2" />
<line x1="470.9" y1="823.7" x2="470.9" y2="835.7" stroke="#000" stroke-width="2" />
<line x1="647.65" y1="823.7" x2="647.65" y2="835.7" stroke="#000" stroke-width="2" />
<line x1="824.4" y1="823.7" x2="824.4" y2="835.7" stroke="#000" stroke-width="2" />
<line x1="205.78" y1="823.7" x2="205.78" y2="829.7" stroke="#000" stroke-width="2" />
<line x1="382.52" y1="823.7" x2="382.52" y2="829.7" stroke="#000" stroke-width="2" />
<line x1="559.27" y1="823.7" x2="559.27" y2="829.7" stroke="#000" stroke-width="2" />
<line x1="736.02" y1="823.7" x2="736.02" y2="829.7" stroke="#000" stroke-width="2" />
<line x1="88" y1="823.8" x2="100" y2="823.8" stroke="#000" stroke-width="2" />
<line x1="88" y1="720.44" x2="100" y2="720.44" stroke="#000" stroke-width="2" />
<line x1="88" y1="617.08" x2="100" y2="617.08" stroke="#000" stroke-width="2" />
<line x1="88" y1="513.72" x2="100" y2="513.72" stroke="#000" stroke-width="2" />
<line x1="94" y1="772.12" x2="100" y2="772.12" stroke="#000" stroke-width="2" />
<line x1="94" y1="668.76" x2="100" y2="668.76" stroke="#000" stroke-width="2" />
<line x1="94" y1="565.4" x2="100" y2="565.4" stroke="#000" stroke-width="2" />
<text transform="translate(117.4 858) scale(1 1.04)" font-size="27.2" text-anchor="middle" >0</text>
<text transform="translate(294.15 858) scale(1 1.04)" font-size="27.2" text-anchor="middle" >100</text>
<text transform="translate(470.9 858) scale(1 1.04)" font-size="27.2" text-anchor="middle" >200</text>
<text transform="translate(647.65 858) scale(1 1.04)" font-size="27.2" text-anchor="middle" >300</text>
<text transform="translate(824.4 858) scale(1 1.04)" font-size="27.2" text-anchor="middle" >400</text>
<text transform="translate(87 833.05) scale(1 1.04)" font-size="27.2" text-anchor="end" >0</text>
<text transform="translate(87 729.69) scale(1 1.04)" font-size="27.2" text-anchor="end" >400</text>
<text transform="translate(87 626.33) scale(1 1.04)" font-size="27.2" text-anchor="end" >800</text>
<text transform="translate(87 522.97) scale(1 1.04)" font-size="27.2" text-anchor="end" >1200</text>
<text transform="translate(468 886) scale(1 1.04)" font-size="30" text-anchor="middle" >Time (s)</text>
<text transform="translate(21.8 655) rotate(-90) scale(1 1.04)" font-size="30.3" text-anchor="middle" >Potential (mV)</text>
<text transform="translate(8 485) scale(1 1.04)" font-size="40" >d</text>
<text transform="translate(101.3 812.5) scale(1 1.04)" font-size="24.5" >6°</text>
<text transform="translate(119.8 787.5) scale(1 1.04)" font-size="24.5" >40°</text>
<text transform="translate(164.5 755) scale(1 1.04)" font-size="24.5" >69°</text>
<text transform="translate(227.5 713.7) scale(1 1.04)" font-size="24.5" >90°</text>
<text transform="translate(302.5 682.5) scale(1 1.04)" font-size="24.5" >107°</text>
<text transform="translate(398.8 611) scale(1 1.04)" font-size="24.5" >123°</text>
<text transform="translate(527.8 569.5) scale(1 1.04)" font-size="24.5" >148°</text>
<text transform="translate(679.3 522.5) scale(1 1.04)" font-size="24.5" >180°</text>
<text transform="translate(217.5 523.7) scale(1 1.04)" font-size="24.5" >6°</text>
<rect x="152" y="495" width="160" height="129.5" fill="none" stroke="#000" stroke-width="2" />
<line x1="170" y1="624.5" x2="170" y2="628.5" stroke="#000" stroke-width="2" />
<line x1="205.5" y1="624.5" x2="205.5" y2="628.5" stroke="#000" stroke-width="2" />
<line x1="241" y1="624.5" x2="241" y2="628.5" stroke="#000" stroke-width="2" />
<line x1="276.5" y1="624.5" x2="276.5" y2="628.5" stroke="#000" stroke-width="2" />
<line x1="312" y1="624.5" x2="312" y2="628.5" stroke="#000" stroke-width="2" />
<line x1="187.75" y1="624.5" x2="187.75" y2="627" stroke="#000" stroke-width="2" />
<line x1="223.25" y1="624.5" x2="223.25" y2="627" stroke="#000" stroke-width="2" />
<line x1="258.75" y1="624.5" x2="258.75" y2="627" stroke="#000" stroke-width="2" />
<line x1="294.25" y1="624.5" x2="294.25" y2="627" stroke="#000" stroke-width="2" />
<line x1="148" y1="615.5" x2="152" y2="615.5" stroke="#000" stroke-width="2" />
<line x1="148" y1="581.18" x2="152" y2="581.18" stroke="#000" stroke-width="2" />
<line x1="148" y1="546.86" x2="152" y2="546.86" stroke="#000" stroke-width="2" />
<line x1="148" y1="512.54" x2="152" y2="512.54" stroke="#000" stroke-width="2" />
<line x1="149.5" y1="598.34" x2="152" y2="598.34" stroke="#000" stroke-width="2" />
<line x1="149.5" y1="564.02" x2="152" y2="564.02" stroke="#000" stroke-width="2" />
<line x1="149.5" y1="529.7" x2="152" y2="529.7" stroke="#000" stroke-width="2" />
<text transform="translate(170 651.5) scale(1 1.04)" font-size="24" text-anchor="middle" >0</text>
<text transform="translate(205.5 651.5) scale(1 1.04)" font-size="24" text-anchor="middle" >1</text>
<text transform="translate(241 651.5) scale(1 1.04)" font-size="24" text-anchor="middle" >2</text>
<text transform="translate(276.5 651.5) scale(1 1.04)" font-size="24" text-anchor="middle" >3</text>
<text transform="translate(312 651.5) scale(1 1.04)" font-size="24" text-anchor="middle" >4</text>
<text transform="translate(143.5 623.66) scale(1 1.04)" font-size="24" text-anchor="end" >0.0</text>
<text transform="translate(143.5 589.34) scale(1 1.04)" font-size="24" text-anchor="end" >0.4</text>
<text transform="translate(143.5 555.02) scale(1 1.04)" font-size="24" text-anchor="end" >0.8</text>
<text transform="translate(143.5 520.7) scale(1 1.04)" font-size="24" text-anchor="end" >1.2</text>
<path d="M167.83 612.85 L169.83 614.35 L171.33 617.34 L172.33 611.85 L174.08 613.6 L175.32 609.85 L176.82 610.6 L178.07 606.85 L179.32 607.85 L180.82 602.86 L182.32 601.11 L184.07 594.87 L185.31 584.88 L186.81 559.9 L188.31 547.41 L189.81 534.93 L191.06 522.94 L192.31 531.18 L194.06 537.42 L195.55 552.41 L196.8 562.4 L198.55 569.89 L199.8 584.88 L201.3 593.62 L202.8 598.61 L204.05 603.61 L205.29 596.86 L206.54 603.61 L208.04 602.86 L209.79 608.6 L211.79 614.35 L214.29 614.35 L216.78 611.1 L218.53 610.35 L220.28 609.35 L222.28 606.1 L224.03 601.11 L226.02 596.11 L227.77 584.88 L229.27 564.9 L231.02 544.92 L232.77 533.68 L234.77 527.43 L236.01 531.18 L237.26 544.92 L239.01 559.9 L240.76 572.39 L242.26 584.88 L244.01 593.62 L246 597.36 L248 601.11 L249.75 602.36 L251.5 606.1 L253 607.85 L254.75 612.85 L256.74 614.85 L258.49 612.85 L260.99 611.85 L263.49 609.85 L265.23 606.85 L267.23 602.36 L269.23 594.87 L270.98 577.38 L272.73 554.91 L274.73 539.92 L276.47 521.94 L277.97 532.43 L280.22 544.92 L281.72 559.9 L283.47 572.39 L285.21 584.88 L287.21 594.87 L289.21 601.86 L291.21 603.61 L292.96 605.35 L294.71 609.35 L296.7 610.35 L298.7 611.1" fill="none" stroke="#000" stroke-width="2.9" stroke-linejoin="miter" stroke-miterlimit="6"/>
<defs><linearGradient id="ag" x1="0" x2="1" y1="0" y2="0"><stop offset="0" stop-color="#f6f7fb"/><stop offset="0.5" stop-color="#c4c5c7"/><stop offset="1" stop-color="#7d7d7d"/></linearGradient><clipPath id="ce"><rect x="950" y="480" width="940" height="346.5"/></clipPath></defs>
<path d="M1071 572.3 H1846 V567.7 L1856 577.5 L1846 587.7 V582.6 H1071 Z" fill="url(#ag)"/>
<g clip-path="url(#ce)">
<path d="M957.48 823.51C958.73 817.47 962.48 798.32 964.98 787.29C967.47 776.26 969.97 766.69 972.47 757.32C974.97 747.96 977.46 739.42 979.96 731.1C982.46 722.77 984.96 715.07 987.45 707.37C989.95 699.67 992.45 691.76 994.95 684.9C997.44 678.03 999.94 671.99 1002.44 666.16C1004.94 660.34 1007.85 654.09 1009.93 649.93C1012.01 645.77 1013.26 643.89 1014.93 641.19C1016.59 638.48 1018.46 635.99 1019.92 633.7C1021.38 631.41 1022.42 629.53 1023.67 627.45C1024.92 625.37 1025.96 623.5 1027.41 621.21C1028.87 618.92 1030.74 615.88 1032.41 613.72C1034.07 611.55 1035.74 609.6 1037.4 608.22C1039.07 606.85 1040.82 606.02 1042.4 605.47C1043.98 604.93 1045.23 604.85 1046.89 604.98C1048.56 605.1 1050.64 605.39 1052.39 606.22C1054.14 607.06 1055.72 608.31 1057.38 609.97C1059.05 611.64 1060.71 613.8 1062.38 616.21C1064.04 618.63 1065.71 621.33 1067.37 624.46C1069.04 627.58 1070.7 631.12 1072.37 634.95C1074.03 638.77 1075.7 643.27 1077.36 647.43C1079.03 651.6 1080.69 655.55 1082.36 659.92C1084.02 664.29 1085.98 669.91 1087.35 673.66C1088.73 677.4 1089.56 680.11 1090.6 682.4C1091.64 684.69 1092.06 684.48 1093.6 687.39C1095.14 690.31 1097.55 695.09 1099.84 699.88C1102.13 704.67 1104.84 710.49 1107.33 716.11C1109.83 721.73 1112.33 727.56 1114.83 733.6C1117.32 739.63 1119.82 746.08 1122.32 752.33C1124.82 758.57 1127.31 764.4 1129.81 771.06C1132.31 777.72 1135.01 785.42 1137.3 792.29C1139.59 799.16 1141.96 807.06 1143.55 812.27C1145.13 817.47 1146.25 821.63 1146.79 823.51" fill="none" stroke="#000" stroke-width="1.9"/>
<path d="M1148.5 824.87 L1150.75 822.19 L1153 815.53 L1155.25 805.69 L1157.5 793.21 L1159.75 778.62 L1162 762.42 L1164.25 745.1 L1166.5 727.18 L1168.75 709.14 L1171 691.45 L1173.25 674.53 L1175.5 658.79 L1177.75 644.6 L1180 632.26 L1182.25 622.04 L1184.5 614.13 L1186.75 608.69 L1189 605.8 L1191.25 605.48 L1193.5 607.71 L1195.75 612.4 L1198 619.41 L1200.25 628.55 L1202.5 639.59 L1204.75 652.26 L1207 666.28 L1209.25 681.31 L1211.5 697.03 L1213.75 713.08 L1216 729.13 L1218.25 744.83 L1220.5 759.85 L1222.75 773.89 L1225 786.65 L1227.25 797.88 L1229.5 807.37 L1231.75 814.94 L1234 820.43 L1236.25 823.76 L1238.5 824.87 L1238.5 824.88 L1240.83 823.44 L1243.15 819.21 L1245.48 812.34 L1247.81 803.01 L1250.14 791.48 L1252.46 778.03 L1254.79 763 L1257.12 746.78 L1259.45 729.77 L1261.78 712.38 L1264.1 695.05 L1266.43 678.22 L1268.76 662.28 L1271.09 647.63 L1273.41 634.63 L1275.74 623.6 L1278.07 614.8 L1280.39 608.45 L1282.72 604.69 L1285.05 603.63 L1287.38 605.27 L1289.7 609.59 L1292.03 616.46 L1294.36 625.72 L1296.69 637.14 L1299.01 650.44 L1301.34 665.29 L1303.67 681.34 L1306 698.18 L1308.32 715.4 L1310.65 732.6 L1312.98 749.34 L1315.31 765.23 L1317.63 779.87 L1319.96 792.92 L1322.29 804.05 L1324.62 813 L1326.94 819.55 L1329.27 823.54 L1331.6 824.88" fill="none" stroke="#8a1ff5" stroke-width="2.0" stroke-linejoin="round" />
<path d="M1336.8 824.87 L1337.91 822.74 L1339.02 817.1 L1340.13 808.46 L1341.24 797.24 L1342.35 783.84 L1343.46 768.68 L1344.57 752.22 L1345.68 734.91 L1346.79 717.21 L1347.9 699.57 L1349.01 682.44 L1350.12 666.24 L1351.23 651.34 L1352.34 638.1 L1353.45 626.82 L1354.56 617.73 L1355.67 611.04 L1356.78 606.88 L1357.89 605.31 L1359 606.36 L1360.11 609.96 L1361.22 616.01 L1362.33 624.36 L1363.44 634.78 L1364.55 647.03 L1365.66 660.81 L1366.77 675.79 L1367.88 691.64 L1368.99 707.98 L1370.1 724.44 L1371.21 740.66 L1372.32 756.28 L1373.43 770.95 L1374.54 784.35 L1375.65 796.2 L1376.76 806.25 L1377.87 814.28 L1378.98 820.13 L1380.09 823.68 L1381.2 824.87 L1381.2 824.88 L1382.36 823.61 L1383.52 819.78 L1384.67 813.44 L1385.83 804.71 L1386.99 793.8 L1388.14 780.96 L1389.3 766.49 L1390.46 750.75 L1391.62 734.12 L1392.78 716.99 L1393.93 699.8 L1395.09 682.95 L1396.25 666.87 L1397.4 651.96 L1398.56 638.58 L1399.72 627.07 L1400.88 617.72 L1402.04 610.76 L1403.19 606.36 L1404.35 604.65 L1405.51 605.66 L1406.66 609.38 L1407.82 615.71 L1408.98 624.5 L1410.14 635.54 L1411.3 648.56 L1412.45 663.23 L1413.61 679.18 L1414.77 696.03 L1415.92 713.35 L1417.08 730.71 L1418.24 747.68 L1419.4 763.83 L1420.56 778.75 L1421.71 792.08 L1422.87 803.48 L1424.03 812.66 L1425.18 819.39 L1426.34 823.5 L1427.5 824.88 L1427.5 824.86 L1428.69 823.38 L1429.88 819.09 L1431.06 812.18 L1432.25 802.86 L1433.44 791.37 L1434.62 778.04 L1435.81 763.2 L1437 747.23 L1438.19 730.54 L1439.38 713.54 L1440.56 696.65 L1441.75 680.3 L1442.94 664.87 L1444.12 650.76 L1445.31 638.29 L1446.5 627.77 L1447.69 619.46 L1448.88 613.55 L1450.06 610.17 L1451.25 609.41 L1452.44 611.27 L1453.62 615.71 L1454.81 622.61 L1456 631.81 L1457.19 643.06 L1458.38 656.1 L1459.56 670.61 L1460.75 686.24 L1461.94 702.6 L1463.12 719.31 L1464.31 735.95 L1465.5 752.13 L1466.69 767.46 L1467.88 781.57 L1469.06 794.14 L1470.25 804.84 L1471.44 813.45 L1472.62 819.74 L1473.81 823.57 L1475 824.86 L1475 824.87 L1476.12 823.91 L1477.25 820.82 L1478.38 815.5 L1479.5 807.97 L1480.62 798.34 L1481.75 786.79 L1482.88 773.54 L1484 758.88 L1485.12 743.14 L1486.25 726.69 L1487.38 709.91 L1488.5 693.2 L1489.62 676.98 L1490.75 661.66 L1491.88 647.62 L1493 635.23 L1494.12 624.81 L1495.25 616.63 L1496.38 610.93 L1497.5 607.86 L1498.62 607.52 L1499.75 609.94 L1500.88 615.08 L1502 622.82 L1503.12 632.97 L1504.25 645.29 L1505.38 659.46 L1506.5 675.13 L1507.62 691.9 L1508.75 709.33 L1509.88 726.96 L1511 744.33 L1512.12 760.98 L1513.25 776.46 L1514.38 790.36 L1515.5 802.3 L1516.62 811.96 L1517.75 819.06 L1518.88 823.4 L1520 824.87" fill="none" stroke="#fa9632" stroke-width="1.7" stroke-linejoin="round" />
<path d="M1520 821.3 L1520.62 818.96 L1521.25 812.05 L1521.88 800.87 L1522.5 785.9 L1523.12 767.81 L1523.75 747.37 L1524.38 725.5 L1525 703.13 L1525.62 681.25 L1526.25 660.82 L1526.88 642.72 L1527.5 627.76 L1528.12 616.57 L1528.75 609.66 L1529.38 607.33 L1530 609.66 L1530.62 616.57 L1531.25 627.76 L1531.88 642.72 L1532.5 660.82 L1533.12 681.25 L1533.75 703.13 L1534.38 725.5 L1535 747.37 L1535.62 767.81 L1536.25 785.9 L1536.88 800.87 L1537.5 812.05 L1538.12 818.96 L1538.75 821.3 L1538.75 821.3 L1539.38 818.98 L1540 812.11 L1540.62 801 L1541.25 786.12 L1541.88 768.14 L1542.5 747.84 L1543.12 726.1 L1543.75 703.87 L1544.38 682.14 L1545 661.83 L1545.62 643.85 L1546.25 628.98 L1546.88 617.87 L1547.5 611 L1548.12 608.67 L1548.75 611 L1549.38 617.87 L1550 628.98 L1550.62 643.85 L1551.25 661.83 L1551.88 682.14 L1552.5 703.87 L1553.12 726.1 L1553.75 747.84 L1554.38 768.14 L1555 786.12 L1555.62 801 L1556.25 812.11 L1556.88 818.98 L1557.5 821.3 L1557.5 821.3 L1558.12 818.93 L1558.75 811.9 L1559.38 800.54 L1560 785.34 L1560.62 766.96 L1561.25 746.21 L1561.88 723.98 L1562.5 701.27 L1563.12 679.04 L1563.75 658.29 L1564.38 639.91 L1565 624.71 L1565.62 613.35 L1566.25 606.32 L1566.88 603.95 L1567.5 606.32 L1568.12 613.35 L1568.75 624.71 L1569.38 639.91 L1570 658.29 L1570.62 679.04 L1571.25 701.27 L1571.88 723.98 L1572.5 746.21 L1573.12 766.96 L1573.75 785.34 L1574.38 800.54 L1575 811.9 L1575.62 818.93 L1576.25 821.3 L1576.25 821.3 L1576.88 818.88 L1577.5 811.73 L1578.12 800.16 L1578.75 784.67 L1579.38 765.95 L1580 744.81 L1580.62 722.17 L1581.25 699.03 L1581.88 676.39 L1582.5 655.25 L1583.12 636.53 L1583.75 621.04 L1584.38 609.47 L1585 602.32 L1585.62 599.9 L1586.25 602.32 L1586.88 609.47 L1587.5 621.04 L1588.12 636.53 L1588.75 655.25 L1589.38 676.39 L1590 699.03 L1590.62 722.17 L1591.25 744.81 L1591.88 765.95 L1592.5 784.67 L1593.12 800.16 L1593.75 811.73 L1594.38 818.88 L1595 821.3 L1595 821.3 L1595.62 818.95 L1596.25 812.01 L1596.88 800.77 L1597.5 785.73 L1598.12 767.55 L1598.75 747.02 L1599.38 725.04 L1600 702.57 L1600.62 680.59 L1601.25 660.06 L1601.88 641.88 L1602.5 626.84 L1603.12 615.61 L1603.75 608.66 L1604.38 606.31 L1605 608.66 L1605.62 615.61 L1606.25 626.84 L1606.88 641.88 L1607.5 660.06 L1608.12 680.59 L1608.75 702.57 L1609.38 725.04 L1610 747.02 L1610.62 767.55 L1611.25 785.73 L1611.88 800.77 L1612.5 812.01 L1613.12 818.95 L1613.75 821.3 L1613.75 821.3 L1614.38 819 L1615 812.2 L1615.62 801.19 L1616.25 786.46 L1616.88 768.65 L1617.5 748.54 L1618.12 727.01 L1618.75 704.99 L1619.38 683.46 L1620 663.35 L1620.62 645.54 L1621.25 630.81 L1621.88 619.8 L1622.5 613 L1623.12 610.7 L1623.75 613 L1624.38 619.8 L1625 630.81 L1625.62 645.54 L1626.25 663.35 L1626.88 683.46 L1627.5 704.99 L1628.12 727.01 L1628.75 748.54 L1629.38 768.65 L1630 786.46 L1630.62 801.19 L1631.25 812.2 L1631.88 819 L1632.5 821.3 L1632.5 821.3 L1633.12 818.94 L1633.75 811.96 L1634.38 800.67 L1635 785.57 L1635.62 767.3 L1636.25 746.67 L1636.88 724.59 L1637.5 702.01 L1638.12 679.93 L1638.75 659.3 L1639.38 641.03 L1640 625.93 L1640.62 614.64 L1641.25 607.66 L1641.88 605.3 L1642.5 607.66 L1643.12 614.64 L1643.75 625.93 L1644.38 641.03 L1645 659.3 L1645.62 679.93 L1646.25 702.01 L1646.88 724.59 L1647.5 746.67 L1648.12 767.3 L1648.75 785.57 L1649.38 800.67 L1650 811.96 L1650.62 818.94 L1651.25 821.3 L1651.25 821.3 L1651.88 819.05 L1652.5 812.4 L1653.12 801.64 L1653.75 787.24 L1654.38 769.83 L1655 750.17 L1655.62 729.12 L1656.25 707.6 L1656.88 686.55 L1657.5 666.89 L1658.12 649.48 L1658.75 635.08 L1659.38 624.32 L1660 617.67 L1660.62 615.42 L1661.25 617.67 L1661.88 624.32 L1662.5 635.08 L1663.12 649.48 L1663.75 666.89 L1664.38 686.55 L1665 707.6 L1665.62 729.12 L1666.25 750.17 L1666.88 769.83 L1667.5 787.24 L1668.12 801.64 L1668.75 812.4 L1669.38 819.05 L1670 821.3 L1670 821.3 L1670.62 818.93 L1671.25 811.93 L1671.88 800.61 L1672.5 785.45 L1673.12 767.13 L1673.75 746.44 L1674.38 724.29 L1675 701.64 L1675.62 679.48 L1676.25 658.79 L1676.88 640.47 L1677.5 625.32 L1678.12 613.99 L1678.75 606.99 L1679.38 604.62 L1680 606.99 L1680.62 613.99 L1681.25 625.32 L1681.88 640.47 L1682.5 658.79 L1683.12 679.48 L1683.75 701.64 L1684.38 724.29 L1685 746.44 L1685.62 767.13 L1686.25 785.45 L1686.88 800.61 L1687.5 811.93 L1688.12 818.93 L1688.75 821.3 L1688.75 821.3 L1689.38 819.01 L1690 812.23 L1690.62 801.25 L1691.25 786.57 L1691.88 768.82 L1692.5 748.77 L1693.12 727.31 L1693.75 705.37 L1694.38 683.9 L1695 663.86 L1695.62 646.1 L1696.25 631.42 L1696.88 620.45 L1697.5 613.67 L1698.12 611.38 L1698.75 613.67 L1699.38 620.45 L1700 631.42 L1700.62 646.1 L1701.25 663.86 L1701.88 683.9 L1702.5 705.37 L1703.12 727.31 L1703.75 748.77 L1704.38 768.82 L1705 786.57 L1705.62 801.25 L1706.25 812.23 L1706.88 819.01 L1707.5 821.3" fill="none" stroke="#5b8be6" stroke-width="1.6" stroke-linejoin="round" />
<path d="M1707.5 822.65 L1707.81 820.28 L1708.11 813.25 L1708.41 801.89 L1708.72 786.69 L1709.03 768.31 L1709.33 747.56 L1709.63 725.33 L1709.94 702.62 L1710.25 680.39 L1710.55 659.64 L1710.86 641.26 L1711.16 626.06 L1711.47 614.7 L1711.77 607.67 L1712.08 605.3 L1712.38 607.67 L1712.68 614.7 L1712.99 626.06 L1713.3 641.26 L1713.6 659.64 L1713.9 680.39 L1714.21 702.62 L1714.52 725.33 L1714.82 747.56 L1715.12 768.31 L1715.43 786.69 L1715.74 801.89 L1716.04 813.25 L1716.35 820.28 L1716.65 822.65 L1716.65 822.65 L1716.96 820.23 L1717.26 813.08 L1717.57 801.51 L1717.87 786.02 L1718.18 767.3 L1718.48 746.16 L1718.79 723.52 L1719.09 700.38 L1719.39 677.74 L1719.7 656.6 L1720.01 637.88 L1720.31 622.39 L1720.62 610.82 L1720.92 603.67 L1721.22 601.25 L1721.53 603.67 L1721.84 610.82 L1722.14 622.39 L1722.44 637.88 L1722.75 656.6 L1723.06 677.74 L1723.36 700.38 L1723.66 723.52 L1723.97 746.16 L1724.28 767.3 L1724.58 786.02 L1724.88 801.51 L1725.19 813.08 L1725.49 820.23 L1725.8 822.65 L1725.8 822.65 L1726.11 820.26 L1726.41 813.2 L1726.71 801.77 L1727.02 786.47 L1727.33 767.98 L1727.63 747.09 L1727.93 724.73 L1728.24 701.87 L1728.55 679.51 L1728.85 658.62 L1729.15 640.13 L1729.46 624.83 L1729.77 613.4 L1730.07 606.34 L1730.38 603.95 L1730.68 606.34 L1730.98 613.4 L1731.29 624.83 L1731.6 640.13 L1731.9 658.62 L1732.2 679.51 L1732.51 701.87 L1732.82 724.73 L1733.12 747.09 L1733.42 767.98 L1733.73 786.47 L1734.04 801.77 L1734.34 813.2 L1734.64 820.26 L1734.95 822.65 L1734.95 822.65 L1735.26 820.31 L1735.56 813.4 L1735.87 802.22 L1736.17 787.25 L1736.47 769.16 L1736.78 748.72 L1737.09 726.85 L1737.39 704.48 L1737.69 682.6 L1738 662.17 L1738.31 644.07 L1738.61 629.11 L1738.91 617.92 L1739.22 611.01 L1739.53 608.67 L1739.83 611.01 L1740.13 617.92 L1740.44 629.11 L1740.74 644.07 L1741.05 662.17 L1741.36 682.6 L1741.66 704.48 L1741.96 726.85 L1742.27 748.72 L1742.57 769.16 L1742.88 787.25 L1743.18 802.22 L1743.49 813.4 L1743.79 820.31 L1744.1 822.65 L1744.1 822.65 L1744.4 820.3 L1744.71 813.37 L1745.01 802.15 L1745.32 787.14 L1745.62 768.99 L1745.93 748.49 L1746.23 726.54 L1746.54 704.11 L1746.85 682.16 L1747.15 661.66 L1747.45 643.51 L1747.76 628.5 L1748.07 617.28 L1748.37 610.35 L1748.67 608 L1748.98 610.35 L1749.28 617.28 L1749.59 628.5 L1749.89 643.51 L1750.2 661.66 L1750.5 682.16 L1750.81 704.11 L1751.12 726.54 L1751.42 748.49 L1751.72 768.99 L1752.03 787.14 L1752.34 802.15 L1752.64 813.37 L1752.94 820.3 L1753.25 822.65 L1753.25 822.65 L1753.56 820.28 L1753.86 813.25 L1754.16 801.89 L1754.47 786.69 L1754.78 768.31 L1755.08 747.56 L1755.38 725.33 L1755.69 702.62 L1756 680.39 L1756.3 659.64 L1756.61 641.26 L1756.91 626.06 L1757.22 614.7 L1757.52 607.67 L1757.83 605.3 L1758.13 607.67 L1758.43 614.7 L1758.74 626.06 L1759.05 641.26 L1759.35 659.64 L1759.65 680.39 L1759.96 702.62 L1760.27 725.33 L1760.57 747.56 L1760.88 768.31 L1761.18 786.69 L1761.49 801.89 L1761.79 813.25 L1762.1 820.28 L1762.4 822.65 L1762.4 822.65 L1762.71 820.3 L1763.01 813.34 L1763.32 802.09 L1763.62 787.03 L1763.93 768.82 L1764.23 748.26 L1764.54 726.24 L1764.84 703.73 L1765.14 681.72 L1765.45 661.16 L1765.76 642.95 L1766.06 627.89 L1766.37 616.63 L1766.67 609.68 L1766.97 607.33 L1767.28 609.68 L1767.59 616.63 L1767.89 627.89 L1768.19 642.95 L1768.5 661.16 L1768.81 681.72 L1769.11 703.73 L1769.41 726.24 L1769.72 748.26 L1770.03 768.82 L1770.33 787.03 L1770.63 802.09 L1770.94 813.34 L1771.24 820.3 L1771.55 822.65 L1771.55 822.65 L1771.86 820.25 L1772.16 813.15 L1772.46 801.67 L1772.77 786.3 L1773.08 767.72 L1773.38 746.74 L1773.68 724.28 L1773.99 701.31 L1774.3 678.85 L1774.6 657.87 L1774.9 639.29 L1775.21 623.92 L1775.52 612.44 L1775.82 605.34 L1776.12 602.94 L1776.43 605.34 L1776.73 612.44 L1777.04 623.92 L1777.35 639.29 L1777.65 657.87 L1777.95 678.85 L1778.26 701.31 L1778.57 724.28 L1778.87 746.74 L1779.17 767.72 L1779.48 786.3 L1779.79 801.67 L1780.09 813.15 L1780.39 820.25 L1780.7 822.65 L1780.7 822.65 L1781.01 820.27 L1781.31 813.23 L1781.62 801.83 L1781.92 786.58 L1782.22 768.14 L1782.53 747.32 L1782.84 725.03 L1783.14 702.24 L1783.44 679.95 L1783.75 659.13 L1784.06 640.69 L1784.36 625.44 L1784.66 614.05 L1784.97 607.01 L1785.28 604.62 L1785.58 607.01 L1785.88 614.05 L1786.19 625.44 L1786.49 640.69 L1786.8 659.13 L1787.11 679.95 L1787.41 702.24 L1787.71 725.03 L1788.02 747.32 L1788.32 768.14 L1788.63 786.58 L1788.93 801.83 L1789.24 813.23 L1789.54 820.27 L1789.85 822.65 L1789.85 822.65 L1790.15 820.28 L1790.46 813.25 L1790.76 801.89 L1791.07 786.69 L1791.38 768.31 L1791.68 747.56 L1791.98 725.33 L1792.29 702.62 L1792.6 680.39 L1792.9 659.64 L1793.2 641.26 L1793.51 626.06 L1793.82 614.7 L1794.12 607.67 L1794.42 605.3 L1794.73 607.67 L1795.03 614.7 L1795.34 626.06 L1795.64 641.26 L1795.95 659.64 L1796.25 680.39 L1796.56 702.62 L1796.87 725.33 L1797.17 747.56 L1797.47 768.31 L1797.78 786.69 L1798.09 801.89 L1798.39 813.25 L1798.69 820.28 L1799 822.65" fill="none" stroke="#d39a0c" stroke-width="1.75" stroke-linejoin="round" />
<path d="M1799.5 822.65 L1799.68 820.32 L1799.87 813.44 L1800.05 802.31 L1800.24 787.42 L1800.42 769.41 L1800.61 749.07 L1800.79 727.3 L1800.98 705.04 L1801.16 683.26 L1801.35 662.93 L1801.53 644.92 L1801.71 630.02 L1801.9 618.89 L1802.08 612.01 L1802.27 609.69 L1802.45 612.01 L1802.64 618.89 L1802.82 630.02 L1803.01 644.92 L1803.19 662.93 L1803.38 683.26 L1803.56 705.04 L1803.75 727.3 L1803.93 749.07 L1804.11 769.41 L1804.3 787.42 L1804.48 802.31 L1804.67 813.44 L1804.85 820.32 L1805.04 822.65 L1805.04 822.65 L1805.22 820.27 L1805.41 813.23 L1805.59 801.83 L1805.78 786.58 L1805.96 768.14 L1806.14 747.32 L1806.33 725.03 L1806.51 702.24 L1806.7 679.95 L1806.88 659.13 L1807.07 640.69 L1807.25 625.44 L1807.44 614.05 L1807.62 607.01 L1807.81 604.62 L1807.99 607.01 L1808.18 614.05 L1808.36 625.44 L1808.54 640.69 L1808.73 659.13 L1808.91 679.95 L1809.1 702.24 L1809.28 725.03 L1809.47 747.32 L1809.65 768.14 L1809.84 786.58 L1810.02 801.83 L1810.21 813.23 L1810.39 820.27 L1810.58 822.65 L1810.58 822.65 L1810.76 820.3 L1810.94 813.34 L1811.13 802.09 L1811.31 787.03 L1811.5 768.82 L1811.68 748.26 L1811.87 726.24 L1812.05 703.73 L1812.24 681.72 L1812.42 661.16 L1812.61 642.95 L1812.79 627.89 L1812.97 616.63 L1813.16 609.68 L1813.34 607.33 L1813.53 609.68 L1813.71 616.63 L1813.9 627.89 L1814.08 642.95 L1814.27 661.16 L1814.45 681.72 L1814.64 703.73 L1814.82 726.24 L1815 748.26 L1815.19 768.82 L1815.37 787.03 L1815.56 802.09 L1815.74 813.34 L1815.93 820.3 L1816.11 822.65 L1816.11 822.65 L1816.3 820.26 L1816.48 813.2 L1816.67 801.77 L1816.85 786.47 L1817.04 767.97 L1817.22 747.09 L1817.4 724.73 L1817.59 701.87 L1817.77 679.51 L1817.96 658.62 L1818.14 640.13 L1818.33 624.83 L1818.51 613.4 L1818.7 606.34 L1818.88 603.95 L1819.07 606.34 L1819.25 613.4 L1819.43 624.83 L1819.62 640.13 L1819.8 658.63 L1819.99 679.51 L1820.17 701.87 L1820.36 724.73 L1820.54 747.09 L1820.73 767.98 L1820.91 786.47 L1821.1 801.77 L1821.28 813.2 L1821.47 820.26 L1821.65 822.65 L1821.65 822.65 L1821.83 820.41 L1822.02 813.78 L1822.2 803.06 L1822.39 788.7 L1822.57 771.35 L1822.76 751.76 L1822.94 730.77 L1823.13 709.33 L1823.31 688.34 L1823.5 668.75 L1823.68 651.4 L1823.87 637.04 L1824.05 626.32 L1824.23 619.69 L1824.42 617.45 L1824.6 619.69 L1824.79 626.32 L1824.97 637.04 L1825.16 651.4 L1825.34 668.75 L1825.53 688.34 L1825.71 709.33 L1825.9 730.77 L1826.08 751.76 L1826.26 771.35 L1826.45 788.7 L1826.63 803.06 L1826.82 813.78 L1827 820.41 L1827.19 822.65 L1827.19 822.65 L1827.37 820.25 L1827.56 813.15 L1827.74 801.67 L1827.93 786.3 L1828.11 767.72 L1828.3 746.74 L1828.48 724.28 L1828.66 701.31 L1828.85 678.85 L1829.03 657.87 L1829.22 639.29 L1829.4 623.92 L1829.59 612.44 L1829.77 605.34 L1829.96 602.94 L1830.14 605.34 L1830.33 612.44 L1830.51 623.92 L1830.69 639.29 L1830.88 657.87 L1831.06 678.85 L1831.25 701.31 L1831.43 724.28 L1831.62 746.74 L1831.8 767.72 L1831.99 786.3 L1832.17 801.67 L1832.36 813.15 L1832.54 820.25 L1832.72 822.65 L1832.72 822.65 L1832.91 820.2 L1833.09 812.96 L1833.28 801.25 L1833.46 785.58 L1833.65 766.63 L1833.83 745.23 L1834.02 722.31 L1834.2 698.89 L1834.39 675.97 L1834.57 654.58 L1834.76 635.62 L1834.94 619.95 L1835.12 608.24 L1835.31 601 L1835.49 598.55 L1835.68 601 L1835.86 608.24 L1836.05 619.95 L1836.23 635.62 L1836.42 654.57 L1836.6 675.97 L1836.79 698.89 L1836.97 722.31 L1837.15 745.23 L1837.34 766.62 L1837.52 785.58 L1837.71 801.25 L1837.89 812.96 L1838.08 820.2 L1838.26 822.65 L1838.26 822.65 L1838.45 820.19 L1838.63 812.9 L1838.82 801.12 L1839 785.35 L1839.19 766.29 L1839.37 744.76 L1839.55 721.71 L1839.74 698.14 L1839.92 675.09 L1840.11 653.56 L1840.29 634.5 L1840.48 618.73 L1840.66 606.95 L1840.85 599.66 L1841.03 597.2 L1841.22 599.66 L1841.4 606.95 L1841.59 618.73 L1841.77 634.5 L1841.95 653.56 L1842.14 675.09 L1842.32 698.14 L1842.51 721.71 L1842.69 744.76 L1842.88 766.29 L1843.06 785.35 L1843.25 801.12 L1843.43 812.9 L1843.62 820.19 L1843.8 822.65" fill="none" stroke="#6db600" stroke-width="1.9" stroke-linejoin="round" />
<path d="M1843.62 824 L1843.82 620.73 L1844.02 824 L1844.22 636.41 L1844.42 824 L1844.63 655.68 L1844.83 824 L1845.03 635.1 L1845.23 824 L1845.43 651.66 L1845.63 824 L1845.84 650.15 L1846.04 824 L1846.24 655.47 L1846.44 824 L1846.64 663.62 L1846.85 824 L1847.05 624.49 L1847.25 824 L1847.45 639.36 L1847.65 824 L1847.86 631.67 L1848.06 824 L1848.26 624.81 L1848.46 824 L1848.66 666.21 L1848.86 824 L1849.07 623.27 L1849.27 824 L1849.47 626.94 L1849.67 824 L1849.87 649.8 L1850.08 824 L1850.28 645.83 L1850.48 824 L1850.68 674.88 L1850.88 824 L1851.09 619.16 L1851.29 824 L1851.49 648.02 L1851.69 824 L1851.89 674.14 L1852.1 824 L1852.3 677.57 L1852.5 824 L1852.7 643.2 L1852.9 824 L1853.1 650.75 L1853.31 824 L1853.51 638.98 L1853.71 824 L1853.91 631.54 L1854.11 824 L1854.32 619.24 L1854.52 824 L1854.72 676.86 L1854.92 824 L1855.12 641.77 L1855.33 824 L1855.53 645.25 L1855.73 824 L1855.93 640.53 L1856.13 824 L1856.33 647.42 L1856.54 824 L1856.74 646.51 L1856.94 824 L1857.14 626.55 L1857.34 824 L1857.55 653.26 L1857.75 824 L1857.95 647.94 L1858.15 824 L1858.35 637.94 L1858.56 824 L1858.76 676.51 L1858.96 824 L1859.16 654.55 L1859.36 824 L1859.56 675.7 L1859.77 824 L1859.97 673.41 L1860.17 824 L1860.37 682.11 L1860.57 824 L1860.78 618.58 L1860.98 824 L1861.18 592.81 L1861.38 824 L1861.58 645.69 L1861.79 824 L1861.99 629.41 L1862.19 824 L1862.39 651.04 L1862.59 824 L1862.79 625.09 L1863 824 L1863.2 656.92 L1863.4 824 L1863.6 634.5 L1863.8 824 L1864.01 646.8 L1864.21 824 L1864.41 642.25 L1864.61 824 L1864.81 664.91 L1865.02 824 L1865.22 622.13 L1865.42 824 L1865.62 632.9 L1865.82 824 L1866.02 672.91 L1866.23 824 L1866.43 608.06 L1866.63 824 L1866.83 679.1 L1867.03 824 L1867.24 662.83 L1867.44 824 L1867.64 634.75" fill="none" stroke="#f27878" stroke-width="1.2" stroke-linejoin="round" />
</g>
<rect x="957.5" y="487" width="924" height="337" fill="none" stroke="#000" stroke-width="2" />
<line x1="957.5" y1="824" x2="957.5" y2="836.5" stroke="#000" stroke-width="2" />
<line x1="1142.3" y1="824" x2="1142.3" y2="836.5" stroke="#000" stroke-width="2" />
<line x1="1327.1" y1="824" x2="1327.1" y2="836.5" stroke="#000" stroke-width="2" />
<line x1="1511.9" y1="824" x2="1511.9" y2="836.5" stroke="#000" stroke-width="2" />
<line x1="1696.7" y1="824" x2="1696.7" y2="836.5" stroke="#000" stroke-width="2" />
<line x1="1881.5" y1="824" x2="1881.5" y2="836.5" stroke="#000" stroke-width="2" />
<line x1="1049.9" y1="824" x2="1049.9" y2="831" stroke="#000" stroke-width="2" />
<line x1="1234.7" y1="824" x2="1234.7" y2="831" stroke="#000" stroke-width="2" />
<line x1="1419.5" y1="824" x2="1419.5" y2="831" stroke="#000" stroke-width="2" />
<line x1="1604.3" y1="824" x2="1604.3" y2="831" stroke="#000" stroke-width="2" />
<line x1="1789.1" y1="824" x2="1789.1" y2="831" stroke="#000" stroke-width="2" />
<line x1="945" y1="824" x2="957.5" y2="824" stroke="#000" stroke-width="2" />
<line x1="945" y1="756.5" x2="957.5" y2="756.5" stroke="#000" stroke-width="2" />
<line x1="945" y1="689" x2="957.5" y2="689" stroke="#000" stroke-width="2" />
<line x1="945" y1="621.5" x2="957.5" y2="621.5" stroke="#000" stroke-width="2" />
<line x1="945" y1="554" x2="957.5" y2="554" stroke="#000" stroke-width="2" />
<line x1="945" y1="486.5" x2="957.5" y2="486.5" stroke="#000" stroke-width="2" />
<line x1="950.5" y1="790.25" x2="957.5" y2="790.25" stroke="#000" stroke-width="2" />
<line x1="950.5" y1="722.75" x2="957.5" y2="722.75" stroke="#000" stroke-width="2" />
<line x1="950.5" y1="655.25" x2="957.5" y2="655.25" stroke="#000" stroke-width="2" />
<line x1="950.5" y1="587.75" x2="957.5" y2="587.75" stroke="#000" stroke-width="2" />
<line x1="950.5" y1="520.25" x2="957.5" y2="520.25" stroke="#000" stroke-width="2" />
<text transform="translate(957.5 865) scale(1 1.04)" font-size="25.4" text-anchor="middle" >0</text>
<text transform="translate(1142.3 865) scale(1 1.04)" font-size="25.4" text-anchor="middle" >20</text>
<text transform="translate(1327.1 865) scale(1 1.04)" font-size="25.4" text-anchor="middle" >40</text>
<text transform="translate(1511.9 865) scale(1 1.04)" font-size="25.4" text-anchor="middle" >60</text>
<text transform="translate(1696.7 865) scale(1 1.04)" font-size="25.4" text-anchor="middle" >80</text>
<text transform="translate(1881.5 865) scale(1 1.04)" font-size="25.4" text-anchor="middle" >100</text>
<text transform="translate(936.5 831.8) scale(1 1.04)" font-size="25.4" text-anchor="end" >0.0</text>
<text transform="translate(936.5 764.3) scale(1 1.04)" font-size="25.4" text-anchor="end" >0.2</text>
<text transform="translate(936.5 696.8) scale(1 1.04)" font-size="25.4" text-anchor="end" >0.4</text>
<text transform="translate(936.5 629.3) scale(1 1.04)" font-size="25.4" text-anchor="end" >0.6</text>
<text transform="translate(936.5 561.8) scale(1 1.04)" font-size="25.4" text-anchor="end" >0.8</text>
<text transform="translate(936.5 494.3) scale(1 1.04)" font-size="25.4" text-anchor="end" >1.0</text>
<text transform="translate(1408.5 890) scale(1 1.04)" font-size="31" text-anchor="middle" >Time (s)</text>
<text transform="translate(888 653.5) rotate(-90) scale(1 1.04)" font-size="31.2" text-anchor="middle" >Potential (mV)</text>
<text transform="translate(860.5 487) scale(1 1.04)" font-size="40" >e</text>
<text transform="translate(1012.2 555.7) scale(1 1.04)" font-size="28.7" >0.05 Hz</text>
<text transform="translate(1206.5 555.7) scale(1 1.04)" font-size="28.7" >0.1 Hz</text>
<text transform="translate(1386.5 555.7) scale(1 1.04)" font-size="28.7" >0.2 Hz</text>
<text transform="translate(1567.2 555.7) scale(1 1.04)" font-size="28.7" >0.5 Hz</text>
<text transform="translate(1682.7 555.7) scale(1 1.04)" font-size="28.7" >1 Hz</text>
<text transform="translate(1752.7 555.7) scale(1 1.04)" font-size="28.7" >2 Hz</text>
<text transform="translate(1816.5 555.7) scale(1 1.04)" font-size="28.7" >4 Hz</text>
<path d="M112 1283 L112 1216.0H113 L113 1217.4H114 L114 1206.6H115 L115 1211.0H116 L116 1214.7H117 L117 1214.0H118 L118 1217.3H119 L119 1214.0H120 L120 1203.0H121 L121 1207.7H122 L122 1210.7H123 L123 1216.6H124 L124 1205.9H125 L125 1207.4H126 L126 1216.2H127 L127 1212.1H128 L128 1217.0H129 L129 1216.4H130 L130 1215.1H131 L131 1210.5H132 L132 1209.8H133 L133 1208.4H134 L134 1214.8H135 L135 1215.0H136 L136 1216.3H137 L137 1216.4H138 L138 1210.5H139 L139 1212.2H140 L140 1216.5H141 L141 1213.4H142 L142 1214.1H143 L143 1207.2H144 L144 1210.3H145 L145 1212.0H146 L146 1212.5H147 L147 1201.5H148 L148 1194.7H149 L149 1214.4H150 L150 1215.1H151 L151 1208.4H152 L152 1216.2H153 L153 1205.0H154 L154 1216.1H155 L155 1214.5H156 L156 1216.1H157 L157 1214.7H158 L158 1208.5H159 L159 1204.5H160 L160 1208.5H161 L161 1212.3H162 L162 1211.6H163 L163 1214.2H164 L164 1215.5H165 L165 1213.5H166 L166 1205.6H167 L167 1216.1H168 L168 1216.3H169 L169 1208.9H170 L170 1214.6H171 L171 1210.3H172 L172 1209.6H173 L173 1202.6H174 L174 1213.8H175 L175 1214.1H176 L176 1208.0H177 L177 1209.0H178 L178 1211.0H179 L179 1207.9H180 L180 1211.1H181 L181 1200.2H182 L182 1214.3H183 L183 1209.5H184 L184 1201.0H185 L185 1214.3H186 L186 1211.5H187 L187 1214.0H188 L188 1213.2H189 L189 1215.9H190 L190 1216.2H191 L191 1209.0H192 L192 1213.2H193 L193 1211.3H194 L194 1209.4H195 L195 1213.5H196 L196 1214.0H197 L197 1206.8H198 L198 1208.2H199 L199 1207.1H200 L200 1200.7H201 L201 1205.6H202 L202 1210.9H203 L203 1210.1H204 L204 1215.2H205 L205 1208.7H206 L206 1214.2H207 L207 1213.3H208 L208 1214.3H209 L209 1211.9H210 L210 1210.7H211 L211 1211.8H212 L212 1214.3H213 L213 1215.0H214 L214 1206.6H215 L215 1214.4H216 L216 1213.2H217 L217 1207.6H218 L218 1214.4H219 L219 1215.8H220 L220 1214.0H221 L221 1209.8H222 L222 1197.3H223 L223 1201.2H224 L224 1214.6H225 L225 1210.6H226 L226 1211.1H227 L227 1207.1H228 L228 1212.2H229 L229 1203.6H230 L230 1207.3H231 L231 1214.4H232 L232 1212.4H233 L233 1202.8H234 L234 1209.5H235 L235 1212.6H236 L236 1212.6H237 L237 1210.7H238 L238 1213.0H239 L239 1212.0H240 L240 1197.6H241 L241 1202.1H242 L242 1206.5H243 L243 1215.4H244 L244 1211.9H245 L245 1213.7H246 L246 1203.4H247 L247 1214.1H248 L248 1202.1H249 L249 1214.7H250 L250 1213.2H251 L251 1199.2H252 L252 1211.3H253 L253 1202.0H254 L254 1212.0H255 L255 1214.7H256 L256 1209.5H257 L257 1212.2H258 L258 1212.4H259 L259 1215.3H260 L260 1215.2H261 L261 1202.1H262 L262 1199.6H263 L263 1198.3H264 L264 1213.7H265 L265 1215.8H266 L266 1200.7H267 L267 1209.0H268 L268 1210.5H269 L269 1215.7H270 L270 1214.6H271 L271 1202.6H272 L272 1212.5H273 L273 1199.8H274 L274 1187.0H275 L275 1206.2H276 L276 1209.8H277 L277 1192.9H278 L278 1202.6H279 L279 1209.4H280 L280 1208.7H281 L281 1196.4H282 L282 1211.3H283 L283 1207.3H284 L284 1207.6H285 L285 1211.6H286 L286 1201.0H287 L287 1194.7H288 L288 1209.8H289 L289 1199.5H290 L290 1208.0H291 L291 1203.9H292 L292 1211.6H293 L293 1187.0H294 L294 1208.4H295 L295 1196.3H296 L296 1204.0H297 L297 1210.3H298 L298 1209.5H299 L299 1195.6H300 L300 1205.4H301 L301 1200.1H302 L302 1213.2H303 L303 1211.0H304 L304 1209.9H305 L305 1207.0H306 L306 1208.4H307 L307 1204.6H308 L308 1213.8H309 L309 1214.0H310 L310 1210.1H311 L311 1212.9H312 L312 1215.5H313 L313 1211.3H314 L314 1209.6H315 L315 1211.3H316 L316 1210.9H317 L317 1210.9H318 L318 1203.3H319 L319 1211.8H320 L320 1205.2H321 L321 1213.5H322 L322 1215.0H323 L323 1214.5H324 L324 1207.3H325 L325 1214.4H326 L326 1207.8H327 L327 1203.3H328 L328 1211.6H329 L329 1215.0H330 L330 1210.5H331 L331 1213.2H332 L332 1202.9H333 L333 1214.4H334 L334 1214.3H335 L335 1212.2H336 L336 1212.1H337 L337 1214.6H338 L338 1213.2H339 L339 1209.8H340 L340 1212.3H341 L341 1215.4H342 L342 1212.8H343 L343 1212.8H344 L344 1212.5H345 L345 1215.6H346 L346 1214.0H347 L347 1199.5H348 L348 1204.1H349 L349 1194.9H350 L350 1208.0H351 L351 1212.6H352 L352 1200.7H353 L353 1213.8H354 L354 1210.8H355 L355 1210.9H356 L356 1212.5H357 L357 1214.1H358 L358 1213.5H359 L359 1210.1H360 L360 1213.8H361 L361 1213.3H362 L362 1213.3H363 L363 1213.5H364 L364 1206.1H365 L365 1211.3H366 L366 1215.5H367 L367 1208.3H368 L368 1211.8H369 L369 1207.4H370 L370 1211.9H371 L371 1213.6H372 L372 1205.6H373 L373 1214.6H374 L374 1213.8H375 L375 1212.0H376 L376 1204.9H377 L377 1214.9H378 L378 1213.3H379 L379 1211.4H380 L380 1209.4H381 L381 1215.0H382 L382 1207.9H383 L383 1211.1H384 L384 1211.6H385 L385 1212.9H386 L386 1213.5H387 L387 1203.4H388 L388 1187.7H389 L389 1214.5H390 L390 1214.2H391 L391 1209.5H392 L392 1207.6H393 L393 1206.0H394 L394 1213.5H395 L395 1214.2H396 L396 1215.1H397 L397 1212.9H398 L398 1211.0H399 L399 1204.2H400 L400 1215.3H401 L401 1215.0H402 L402 1209.7H403 L403 1209.4H404 L404 1214.8H405 L405 1214.9H406 L406 1215.3H407 L407 1209.8H408 L408 1213.7H409 L409 1214.0H410 L410 1209.5H411 L411 1214.8H412 L412 1211.3H413 L413 1214.9H414 L414 1215.1H415 L415 1209.5H416 L416 1207.0H417 L417 1212.1H418 L418 1201.2H419 L419 1208.9H420 L420 1215.0H421 L421 1213.7H422 L422 1202.8H423 L423 1199.5H424 L424 1215.2H425 L425 1215.4H426 L426 1207.6H427 L427 1212.2H428 L428 1207.7H429 L429 1209.9H430 L430 1212.2H431 L431 1208.8H432 L432 1210.4H433 L433 1204.1H434 L434 1212.0H435 L435 1204.1H436 L436 1202.2H437 L437 1209.7H438 L438 1210.2H439 L439 1206.4H440 L440 1213.5H441 L441 1212.7H442 L442 1210.1H443 L443 1206.3H444 L444 1213.3H445 L445 1214.3H446 L446 1213.7H447 L447 1212.3H448 L448 1214.8H449 L449 1210.2H450 L450 1196.5H451 L451 1213.1H452 L452 1199.1H453 L453 1212.5H454 L454 1211.3H455 L455 1195.9H456 L456 1208.9H457 L457 1211.6H458 L458 1208.0H459 L459 1212.0H460 L460 1198.1H461 L461 1214.0H462 L462 1214.8H463 L463 1210.6H464 L464 1211.5H465 L465 1200.6H466 L466 1214.6H467 L467 1201.4H468 L468 1214.6H469 L469 1197.8H470 L470 1213.3H471 L471 1213.5H472 L472 1201.0H473 L473 1194.2H474 L474 1209.1H475 L475 1199.6H476 L476 1214.2H477 L477 1199.9H478 L478 1210.3H479 L479 1213.4H480 L480 1210.6H481 L481 1214.6H482 L482 1207.3H483 L483 1210.0H484 L484 1214.6H485 L485 1213.9H486 L486 1213.4H487 L487 1212.0H488 L488 1213.8H489 L489 1213.4H490 L490 1211.2H491 L491 1214.3H492 L492 1208.2H493 L493 1212.2H494 L494 1212.5H495 L495 1210.9H496 L496 1214.3H497 L497 1204.2H498 L498 1214.5H499 L499 1211.2H500 L500 1198.7H501 L501 1214.3H502 L502 1209.2H503 L503 1197.1H504 L504 1188.5H505 L505 1213.0H506 L506 1210.3H507 L507 1201.3H508 L508 1210.3H509 L509 1205.1H510 L510 1209.3H511 L511 1214.9H512 L512 1213.0H513 L513 1204.3H514 L514 1212.0H515 L515 1212.3H516 L516 1213.3H517 L517 1214.2H518 L518 1209.7H519 L519 1212.6H520 L520 1204.8H521 L521 1214.8H522 L522 1205.2H523 L523 1214.5H524 L524 1206.8H525 L525 1212.1H526 L526 1208.6H527 L527 1212.1H528 L528 1214.2H529 L529 1201.1H530 L530 1210.1H531 L531 1213.8H532 L532 1210.7H533 L533 1213.8H534 L534 1212.5H535 L535 1210.7H536 L536 1202.1H537 L537 1214.4H538 L538 1213.9H539 L539 1212.1H540 L540 1205.8H541 L541 1205.9H542 L542 1210.9H543 L543 1207.2H544 L544 1212.8H545 L545 1213.9H546 L546 1213.4H547 L547 1214.8H548 L548 1212.8H549 L549 1210.3H550 L550 1206.5H551 L551 1213.7H552 L552 1209.3H553 L553 1208.5H554 L554 1209.5H555 L555 1199.9H556 L556 1210.9H557 L557 1212.2H558 L558 1204.4H559 L559 1214.8H560 L560 1214.8H561 L561 1211.8H562 L562 1208.4H563 L563 1214.2H564 L564 1212.9H565 L565 1210.2H566 L566 1211.5H567 L567 1212.6H568 L568 1208.3H569 L569 1214.6H570 L570 1205.1H571 L571 1209.8H572 L572 1212.4H573 L573 1209.6H574 L574 1202.4H575 L575 1210.1H576 L576 1209.9H577 L577 1209.4H578 L578 1203.9H579 L579 1205.1H580 L580 1213.3H581 L581 1214.6H582 L582 1213.3H583 L583 1212.8H584 L584 1213.5H585 L585 1212.1H586 L586 1202.7H587 L587 1213.8H588 L588 1212.6H589 L589 1207.0H590 L590 1214.1H591 L591 1212.8H592 L592 1211.3H593 L593 1208.4H594 L594 1206.2H595 L595 1213.4H596 L596 1201.7H597 L597 1212.2H598 L598 1214.1H599 L599 1213.9H600 L600 1212.2H601 L601 1207.6H602 L602 1214.4H603 L603 1213.6H604 L604 1207.8H605 L605 1207.3H606 L606 1213.7H607 L607 1214.4H608 L608 1210.2H609 L609 1208.0H610 L610 1214.4H611 L611 1211.5H612 L612 1214.0H613 L613 1210.8H614 L614 1214.1H615 L615 1214.0H616 L616 1211.4H617 L617 1202.4H618 L618 1214.5H619 L619 1214.2H620 L620 1213.7H621 L621 1207.6H622 L622 1213.4H623 L623 1213.3H624 L624 1212.3H625 L625 1206.6H626 L626 1213.2H627 L627 1211.9H628 L628 1211.9H629 L629 1211.7H630 L630 1212.1H631 L631 1207.9H632 L632 1213.6H633 L633 1211.7H634 L634 1214.0H635 L635 1206.3H636 L636 1212.3H637 L637 1189.5H638 L638 1210.1H639 L639 1213.6H640 L640 1204.1H641 L641 1213.1H642 L642 1210.4H643 L643 1208.7H644 L644 1214.1H645 L645 1213.7H646 L646 1212.3H647 L647 1212.7H648 L648 1213.0H649 L649 1213.2H650 L650 1212.7H651 L651 1198.4H652 L652 1212.0H653 L653 1212.0H654 L654 1213.3H655 L655 1213.7H656 L656 1213.3H657 L657 1205.7H658 L658 1205.7H659 L659 1213.7H660 L660 1212.5H661 L661 1211.0H662 L662 1211.2H663 L663 1213.6H664 L664 1214.2H665 L665 1208.0H666 L666 1213.9H667 L667 1212.4H668 L668 1203.3H669 L669 1209.8H670 L670 1212.4H671 L671 1208.0H672 L672 1194.1H673 L673 1211.8H674 L674 1205.7H675 L675 1211.5H676 L676 1212.5H677 L677 1195.9H678 L678 1208.5H679 L679 1213.9H680 L680 1211.3H681 L681 1212.5H682 L682 1211.7H683 L683 1208.7H684 L684 1212.8H685 L685 1210.7H686 L686 1213.4H687 L687 1212.1H688 L688 1205.5H689 L689 1209.0H690 L690 1212.6H691 L691 1213.2H692 L692 1210.7H693 L693 1211.8H694 L694 1196.4H695 L695 1213.1H696 L696 1196.6H697 L697 1213.4H698 L698 1207.8H699 L699 1206.2H700 L700 1213.6H701 L701 1212.1H702 L702 1209.4H703 L703 1212.3H704 L704 1214.0H705 L705 1208.4H706 L706 1211.7H707 L707 1213.7H708 L708 1214.3H709 L709 1211.4H710 L710 1213.1H711 L711 1207.5H712 L712 1213.8H713 L713 1214.4H714 L714 1204.6H715 L715 1212.2H716 L716 1206.5H717 L717 1211.0H718 L718 1205.6H719 L719 1202.9H720 L720 1214.1H721 L721 1213.1H722 L722 1213.7H723 L723 1201.4H724 L724 1204.4H725 L725 1194.3H726 L726 1188.4H727 L727 1207.9H728 L728 1205.8H729 L729 1202.6H730 L730 1210.5H731 L731 1207.3H732 L732 1199.1H733 L733 1211.8H734 L734 1213.5H735 L735 1209.9H736 L736 1214.3H737 L737 1212.9H738 L738 1206.9H739 L739 1207.6H740 L740 1214.4H741 L741 1212.9H742 L742 1213.0H743 L743 1209.9H744 L744 1205.7H745 L745 1211.7H746 L746 1206.6H747 L747 1212.2H748 L748 1202.1H749 L749 1212.9H750 L750 1213.6H751 L751 1205.1H752 L752 1210.6H753 L753 1213.2H754 L754 1211.2H755 L755 1212.3H756 L756 1214.3H757 L757 1209.4H758 L758 1205.9H759 L759 1210.5H760 L760 1213.8H761 L761 1212.2H762 L762 1213.5H763 L763 1213.7H764 L764 1213.0H765 L765 1204.8H766 L766 1206.6H767 L767 1207.7H768 L768 1203.2H769 L769 1214.0H770 L770 1213.4H771 L771 1214.3H772 L772 1214.5H773 L773 1210.1H774 L774 1212.2H775 L775 1210.9H776 L776 1205.7H777 L777 1213.0H778 L778 1213.3H779 L779 1207.1H780 L780 1214.4H781 L781 1203.3H782 L782 1212.7H783 L783 1207.8H784 L784 1213.4H785 L785 1214.1H786 L786 1206.4H787 L787 1214.3H788 L788 1214.3H789 L789 1210.4H790 L790 1213.5H791 L791 1212.7H792 L792 1207.8H793 L793 1212.1H794 L794 1208.8H795 L795 1213.1H796 L796 1213.9H797 L797 1214.2H798 L798 1206.6H799 L799 1213.9H800 L800 1214.1H801 L801 1213.8H802 L802 1211.3H803 L803 1209.4H804 L804 1211.5H805 L805 1210.3H806 L806 1211.5H807 L807 1208.5H808 L808 1210.4H809 L809 1213.7H810 L810 1212.7H811 L811 1192.5H812 L812 1211.9H813 L813 1209.5H814 L814 1213.7H815 L815 1209.5H816 L816 1209.2H817 L817 1213.7H818 L818 1202.0H819 L819 1212.3H820 L820 1212.6H821 L821 1209.5H822 L822 1203.3H823 L823 1206.5H824 L824 1210.9H825 L825 1214.3H826 L826 1211.6H827 L827 1203.2H828 L828 1206.5H829 L829 1213.5H830 L830 1211.7H831 L831 1210.0H832 L832 1209.3H833 L833 1214.3H834 L834 1205.2H835 L835 1214.0H836 L836 1205.9H837 L837 1205.6H838 L838 1210.3H839 L839 1211.0H840 L840 1212.6H841 L841 1212.3H842 L842 1203.1H843 L843 1209.7H844 L844 1211.7H845 L845 1212.5H846 L846 1190.7H847 L847 1202.2H848 L848 1203.0H849 L849 1202.9H850 L850 1212.5H851 L851 1206.5H852 L852 1209.3H853 L853 1203.6H854 L854 1208.5H855 L855 1206.5H856 L856 1207.3H857 L857 1210.6H858 L858 1209.1H859 L859 1214.1H860 L860 1212.3H861 L861 1207.1H862 L862 1214.1H863 L863 1207.9H864 L864 1210.1H865 L865 1211.8H866 L866 1214.1H867 L867 1213.6H868 L868 1209.5H869 L869 1210.9H870 L870 1202.7H871 L871 1203.8H872 L872 1197.1H873 L873 1212.9H874 L874 1204.7H875 L875 1203.6H876 L876 1209.8H877 L877 1213.9H878 L878 1212.1H879 L879 1201.1H880 L880 1201.8H881 L881 1212.0H882 L882 1213.1H883 L883 1199.9H884 L884 1211.3H885 L885 1201.1H886 L886 1214.2H887 L887 1210.3H888 L888 1212.9H889 L889 1214.4H890 L890 1211.4H891 L891 1201.0H892 L892 1211.6H893 L893 1213.3H894 L894 1209.0H895 L895 1205.0H896 L896 1207.9H897 L897 1213.1H898 L898 1207.6H899 L899 1207.6H900 L900 1211.6H901 L901 1208.0H902 L902 1214.2H903 L903 1213.3H904 L904 1212.1H905 L905 1202.5H906 L906 1209.0H907 L907 1209.3H908 L908 1206.5H909 L909 1208.5H910 L910 1214.0H911 L911 1204.3H912 L912 1207.8H913 L913 1213.2H914 L914 1210.2H915 L915 1211.6H916 L916 1214.1H917 L917 1207.0H918 L918 1212.4H919 L919 1209.8H920 L920 1206.5H921 L921 1202.2H922 L922 1210.9H923 L923 1211.6H924 L924 1214.2H925 L925 1213.7H926 L926 1196.8H927 L927 1213.3H928 L928 1210.8H929 L929 1213.4H930 L930 1207.1H931 L931 1213.1H932 L932 1207.6H933 L933 1211.6H934 L934 1208.0H935 L935 1212.2H936 L936 1199.1H937 L937 1211.0H938 L938 1211.8H939 L939 1211.8H940 L940 1212.5H941 L941 1209.1H942 L942 1213.3H943 L943 1213.4H944 L944 1199.2H945 L945 1213.1H946 L946 1206.7H947 L947 1213.7H948 L948 1210.1H949 L949 1213.6H950 L950 1212.1H951 L951 1212.3H952 L952 1209.8H953 L953 1214.1H954 L954 1212.6H955 L955 1207.7H956 L956 1207.7H957 L957 1207.1H958 L958 1210.2H959 L959 1207.8H960 L960 1211.5H961 L961 1212.4H962 L962 1206.6H963 L963 1211.8H964 L964 1213.4H965 L965 1200.1H966 L966 1213.4H967 L967 1202.8H968 L968 1213.0H969 L969 1197.6H970 L970 1209.6H971 L971 1201.1H972 L972 1209.9H973 L973 1195.7H974 L974 1210.9H975 L975 1204.1H976 L976 1211.7H977 L977 1202.2H978 L978 1202.4H979 L979 1202.6H980 L980 1213.8H981 L981 1212.0H982 L982 1203.6H983 L983 1212.6H984 L984 1210.5H985 L985 1211.5H986 L986 1213.9H987 L987 1213.8H988 L988 1210.9H989 L989 1211.8H990 L990 1204.1H991 L991 1212.2H992 L992 1213.2H993 L993 1213.4H994 L994 1211.6H995 L995 1195.1H996 L996 1203.7H997 L997 1210.5H998 L998 1210.6H999 L999 1209.6H1000 L1000 1207.8H1001 L1001 1213.7H1002 L1002 1201.4H1003 L1003 1204.5H1004 L1004 1211.1H1005 L1005 1212.0H1006 L1006 1210.5H1007 L1007 1210.7H1008 L1008 1212.2H1009 L1009 1213.3H1010 L1010 1208.1H1011 L1011 1192.7H1012 L1012 1209.1H1013 L1013 1212.3H1014 L1014 1211.3H1015 L1015 1212.9H1016 L1016 1201.4H1017 L1017 1212.5H1018 L1018 1211.9H1019 L1019 1209.1H1020 L1020 1207.8H1021 L1021 1211.1H1022 L1022 1213.2H1023 L1023 1211.4H1024 L1024 1206.2H1025 L1025 1212.3H1026 L1026 1203.8H1027 L1027 1212.4H1028 L1028 1211.7H1029 L1029 1212.0H1030 L1030 1202.3H1031 L1031 1205.8H1032 L1032 1206.2H1033 L1033 1212.9H1034 L1034 1212.6H1035 L1035 1211.9H1036 L1036 1208.6H1037 L1037 1207.8H1038 L1038 1207.8H1039 L1039 1212.7H1040 L1040 1212.6H1041 L1041 1194.0H1042 L1042 1209.8H1043 L1043 1207.3H1044 L1044 1212.7H1045 L1045 1209.4H1046 L1046 1212.2H1047 L1047 1200.8H1048 L1048 1211.1H1049 L1049 1204.9H1050 L1050 1211.7H1051 L1051 1207.7H1052 L1052 1212.0H1053 L1053 1209.5H1054 L1054 1205.0H1055 L1055 1212.5H1056 L1056 1211.2H1057 L1057 1196.7H1058 L1058 1205.8H1059 L1059 1204.0H1060 L1060 1209.5H1061 L1061 1202.8H1062 L1062 1213.0H1063 L1063 1204.6H1064 L1064 1213.1H1065 L1065 1201.5H1066 L1066 1201.7H1067 L1067 1189.7H1068 L1068 1206.8H1069 L1069 1208.8H1070 L1070 1211.4H1071 L1071 1205.6H1072 L1072 1209.7H1073 L1073 1210.4H1074 L1074 1213.0H1075 L1075 1213.0H1076 L1076 1208.5H1077 L1077 1212.9H1078 L1078 1208.1H1079 L1079 1211.0H1080 L1080 1213.0H1081 L1081 1209.9H1082 L1082 1206.5H1083 L1083 1192.9H1084 L1084 1212.3H1085 L1085 1211.3H1086 L1086 1210.6H1087 L1087 1210.6H1088 L1088 1212.3H1089 L1089 1211.7H1090 L1090 1213.1H1091 L1091 1209.7H1092 L1092 1188.1H1093 L1093 1201.2H1094 L1094 1207.8H1095 L1095 1210.1H1096 L1096 1211.7H1097 L1097 1211.7H1098 L1098 1194.2H1099 L1099 1213.0H1100 L1100 1209.5H1101 L1101 1210.0H1102 L1102 1200.6H1103 L1103 1212.5H1104 L1104 1213.4H1105 L1105 1203.7H1106 L1106 1211.7H1107 L1107 1211.1H1108 L1108 1212.9H1109 L1109 1212.3H1110 L1110 1212.3H1111 L1111 1208.3H1112 L1112 1212.8H1113 L1113 1212.5H1114 L1114 1211.2H1115 L1115 1211.2H1116 L1116 1213.3H1117 L1117 1187.0H1118 L1118 1205.2H1119 L1119 1206.7H1120 L1120 1208.1H1121 L1121 1211.2H1122 L1122 1197.5H1123 L1123 1205.3H1124 L1124 1207.8H1125 L1125 1203.8H1126 L1126 1206.7H1127 L1127 1207.6H1128 L1128 1202.6H1129 L1129 1206.4H1130 L1130 1211.7H1131 L1131 1210.3H1132 L1132 1213.1H1133 L1133 1211.1H1134 L1134 1208.9H1135 L1135 1212.4H1136 L1136 1209.6H1137 L1137 1211.7H1138 L1138 1204.1H1139 L1139 1211.5H1140 L1140 1209.4H1141 L1141 1210.7H1142 L1142 1210.8H1143 L1143 1206.8H1144 L1144 1208.9H1145 L1145 1209.5H1146 L1146 1213.0H1147 L1147 1213.4H1148 L1148 1211.4H1149 L1149 1212.9H1150 L1150 1208.7H1151 L1151 1204.8H1152 L1152 1207.5H1153 L1153 1210.9H1154 L1154 1205.3H1155 L1155 1207.9H1156 L1156 1210.2H1157 L1157 1198.6H1158 L1158 1212.6H1159 L1159 1213.4H1160 L1160 1202.2H1161 L1161 1198.2H1162 L1162 1210.3H1163 L1163 1209.6H1164 L1164 1198.4H1165 L1165 1213.0H1166 L1166 1207.8H1167 L1167 1206.4H1168 L1168 1212.3H1169 L1169 1209.8H1170 L1170 1206.2H1171 L1171 1200.2H1172 L1172 1201.5H1173 L1173 1212.8H1174 L1174 1207.6H1175 L1175 1209.2H1176 L1176 1210.4H1177 L1177 1211.3H1178 L1178 1213.4H1179 L1179 1202.1H1180 L1180 1211.3H1181 L1181 1213.3H1182 L1182 1213.0H1183 L1183 1209.5H1184 L1184 1213.3H1185 L1185 1207.0H1186 L1186 1207.4H1187 L1187 1213.5H1188 L1188 1208.8H1189 L1189 1211.9H1190 L1190 1212.0H1191 L1191 1196.7H1192 L1192 1213.2H1193 L1193 1211.1H1194 L1194 1199.6H1195 L1195 1213.1H1196 L1196 1209.3H1197 L1197 1212.2H1198 L1198 1212.3H1199 L1199 1211.6H1200 L1200 1207.9H1201 L1201 1211.1H1202 L1202 1207.9H1203 L1203 1202.2H1204 L1204 1202.5H1205 L1205 1210.0H1206 L1206 1212.2H1207 L1207 1209.0H1208 L1208 1213.1H1209 L1209 1211.6H1210 L1210 1211.9H1211 L1211 1199.7H1212 L1212 1209.8H1213 L1213 1202.2H1214 L1214 1212.0H1215 L1215 1210.1H1216 L1216 1210.1H1217 L1217 1204.7H1218 L1218 1210.4H1219 L1219 1196.9H1220 L1220 1213.3H1221 L1221 1209.3H1222 L1222 1211.0H1223 L1223 1211.9H1224 L1224 1210.5H1225 L1225 1187.0H1226 L1226 1204.8H1227 L1227 1200.8H1228 L1228 1204.7H1229 L1229 1211.3H1230 L1230 1213.2H1231 L1231 1213.1H1232 L1232 1204.5H1233 L1233 1212.9H1234 L1234 1212.0H1235 L1235 1211.4H1236 L1236 1213.2H1237 L1237 1212.5H1238 L1238 1212.4H1239 L1239 1211.0H1240 L1240 1212.8H1241 L1241 1209.3H1242 L1242 1210.7H1243 L1243 1208.2H1244 L1244 1212.5H1245 L1245 1212.3H1246 L1246 1210.7H1247 L1247 1211.2H1248 L1248 1211.7H1249 L1249 1212.8H1250 L1250 1210.4H1251 L1251 1211.4H1252 L1252 1211.4H1253 L1253 1206.4H1254 L1254 1213.3H1255 L1255 1212.5H1256 L1256 1199.4H1257 L1257 1211.6H1258 L1258 1213.2H1259 L1259 1212.3H1260 L1260 1213.2H1261 L1261 1196.7H1262 L1262 1211.9H1263 L1263 1209.3H1264 L1264 1214.8H1265 L1265 1208.6H1266 L1266 1213.5H1267 L1267 1208.1H1268 L1268 1216.7H1269 L1269 1217.4H1270 L1270 1217.5H1271 L1271 1215.8H1272 L1272 1216.1H1273 L1273 1217.1H1274 L1274 1214.3H1275 L1275 1205.6H1276 L1276 1212.9H1277 L1277 1213.1H1278 L1278 1214.2H1279 L1279 1199.2H1280 L1280 1214.1H1281 L1281 1213.9H1282 L1282 1212.4H1283 L1283 1204.9H1284 L1284 1212.0H1285 L1285 1205.2H1286 L1286 1206.5H1287 L1287 1211.5H1288 L1288 1204.4H1289 L1289 1211.0H1290 L1290 1206.1H1291 L1291 1208.7H1292 L1292 1208.6H1293 L1293 1209.1H1294 L1294 1208.8H1295 L1295 1208.1H1296 L1296 1205.7H1297 L1297 1210.1H1298 L1298 1210.4H1299 L1299 1209.6H1300 L1300 1206.7H1301 L1301 1205.6H1302 L1302 1209.2H1303 L1303 1208.5H1304 L1304 1206.5H1305 L1305 1206.9H1306 L1306 1206.8H1307 L1307 1208.6H1308 L1308 1207.8H1309 L1309 1210.1H1310 L1310 1208.6H1311 L1311 1210.4H1312 L1312 1208.9H1313 L1313 1210.2H1314 L1314 1205.2H1315 L1315 1205.9H1316 L1316 1208.2H1317 L1317 1204.0H1318 L1318 1210.1H1319 L1319 1207.5H1320 L1320 1209.1H1321 L1321 1207.4H1322 L1322 1206.8H1323 L1323 1203.8H1324 L1324 1203.1H1325 L1325 1208.5H1326 L1326 1204.4H1327 L1327 1209.0H1328 L1328 1207.2H1329 L1329 1208.5H1330 L1330 1205.5H1331 L1331 1209.9H1332 L1332 1206.9H1333 L1333 1205.8H1334 L1334 1207.2H1335 L1335 1209.9H1336 L1336 1207.8H1337 L1337 1206.1H1338 L1338 1209.8H1339 L1339 1201.4H1340 L1340 1209.4H1341 L1341 1209.9H1342 L1342 1207.9H1343 L1343 1210.2H1344 L1344 1208.1H1345 L1345 1208.9H1346 L1346 1203.1H1347 L1347 1209.4H1348 L1348 1208.7H1349 L1349 1210.2H1350 L1350 1208.9H1351 L1351 1207.8H1352 L1352 1209.8H1353 L1353 1209.2H1354 L1354 1207.1H1355 L1355 1208.9H1356 L1356 1209.5H1357 L1357 1209.8H1358 L1358 1210.2H1359 L1359 1206.7H1360 L1360 1208.8H1361 L1361 1209.4H1362 L1362 1210.0H1363 L1363 1207.2H1364 L1364 1205.4H1365 L1365 1209.2H1366 L1366 1208.9H1367 L1367 1202.8H1368 L1368 1209.4H1369 L1369 1209.0H1370 L1370 1208.9H1371 L1371 1208.0H1372 L1372 1209.0H1373 L1373 1204.0H1374 L1374 1206.6H1375 L1375 1209.4H1376 L1376 1209.9H1377 L1377 1204.9H1378 L1378 1206.9H1379 L1379 1209.1H1380 L1380 1207.6H1381 L1381 1209.6H1382 L1382 1209.1H1383 L1383 1207.2H1384 L1384 1208.2H1385 L1385 1207.9H1386 L1386 1203.3H1387 L1387 1208.8H1388 L1388 1208.6H1389 L1389 1207.4H1390 L1390 1200.1H1391 L1391 1209.5H1392 L1392 1203.7H1393 L1393 1209.2H1394 L1394 1208.4H1395 L1395 1209.2H1396 L1396 1202.5H1397 L1397 1198.9H1398 L1398 1205.1H1399 L1399 1206.1H1400 L1400 1208.0H1401 L1401 1208.2H1402 L1402 1208.7H1403 L1403 1208.7H1404 L1404 1206.6H1405 L1405 1209.4H1406 L1406 1209.6H1407 L1407 1207.6H1408 L1408 1209.1H1409 L1409 1209.4H1410 L1410 1209.4H1411 L1411 1209.7H1412 L1412 1208.8H1413 L1413 1207.5H1414 L1414 1206.2H1415 L1415 1209.1H1416 L1416 1209.8H1417 L1417 1209.4H1418 L1418 1209.6H1419 L1419 1208.8H1420 L1420 1209.8H1421 L1421 1206.9H1422 L1422 1208.0H1423 L1423 1206.6H1424 L1424 1204.5H1425 L1425 1205.1H1426 L1426 1209.1H1427 L1427 1209.6H1428 L1428 1208.8H1429 L1429 1205.5H1430 L1430 1205.3H1431 L1431 1207.8H1432 L1432 1208.9H1433 L1433 1207.9H1434 L1434 1209.2H1435 L1435 1209.6H1436 L1436 1209.8H1437 L1437 1209.7H1438 L1438 1204.5H1439 L1439 1208.0H1440 L1440 1208.7H1441 L1441 1206.2H1442 L1442 1207.9H1443 L1443 1209.5H1444 L1444 1207.2H1445 L1445 1208.5H1446 L1446 1207.7H1447 L1447 1202.8H1448 L1448 1209.6H1449 L1449 1203.9H1450 L1450 1209.3H1451 L1451 1209.5H1452 L1452 1208.9H1453 L1453 1206.3H1454 L1454 1208.9H1455 L1455 1209.6H1456 L1456 1206.8H1457 L1457 1207.6H1458 L1458 1206.8H1459 L1459 1206.8H1460 L1460 1203.7H1461 L1461 1208.9H1462 L1462 1205.9H1463 L1463 1208.4H1464 L1464 1208.3H1465 L1465 1209.6H1466 L1466 1205.2H1467 L1467 1207.6H1468 L1468 1208.6H1469 L1469 1209.5H1470 L1470 1209.0H1471 L1471 1208.7H1472 L1472 1207.5H1473 L1473 1206.2H1474 L1474 1208.7H1475 L1475 1208.9H1476 L1476 1209.5H1477 L1477 1205.5H1478 L1478 1209.1H1479 L1479 1206.2H1480 L1480 1207.1H1481 L1481 1208.7H1482 L1482 1209.1H1483 L1483 1209.3H1484 L1484 1209.1H1485 L1485 1206.5H1486 L1486 1202.5H1487 L1487 1207.4H1488 L1488 1209.0H1489 L1489 1206.5H1490 L1490 1207.6H1491 L1491 1205.9H1492 L1492 1208.0H1493 L1493 1207.0H1494 L1494 1209.1H1495 L1495 1209.1H1496 L1496 1209.3H1497 L1497 1205.4H1498 L1498 1208.1H1499 L1499 1209.2H1500 L1500 1204.8H1501 L1501 1208.2H1502 L1502 1209.1H1503 L1503 1209.4H1504 L1504 1209.4H1505 L1505 1207.9H1506 L1506 1208.6H1507 L1507 1205.9H1508 L1508 1206.6H1509 L1509 1208.0H1510 L1510 1208.7H1511 L1511 1200.7H1512 L1512 1206.3H1513 L1513 1208.3H1514 L1514 1207.4H1515 L1515 1206.3H1516 L1516 1208.7H1517 L1517 1208.1H1518 L1518 1209.2H1519 L1519 1208.5H1520 L1520 1209.1H1521 L1521 1209.4H1522 L1522 1206.5H1523 L1523 1207.8H1524 L1524 1207.8H1525 L1525 1205.3H1526 L1526 1206.5H1527 L1527 1208.7H1528 L1528 1209.1H1529 L1529 1208.3H1530 L1530 1205.7H1531 L1531 1203.7H1532 L1532 1203.4H1533 L1533 1208.8H1534 L1534 1208.2H1535 L1535 1209.6H1536 L1536 1208.7H1537 L1537 1207.0H1538 L1538 1209.5H1539 L1539 1209.6H1540 L1540 1209.1H1541 L1541 1209.5H1542 L1542 1209.6H1543 L1543 1209.7H1544 L1544 1209.0H1545 L1545 1209.6H1546 L1546 1205.1H1547 L1547 1209.9H1548 L1548 1209.9H1549 L1549 1209.4H1550 L1550 1206.1H1551 L1551 1206.3H1552 L1552 1209.4H1553 L1553 1209.9H1554 L1554 1207.5H1555 L1555 1209.5H1556 L1556 1205.4H1557 L1557 1209.1H1558 L1558 1208.9H1559 L1559 1209.7H1560 L1560 1207.0H1561 L1561 1205.5H1562 L1562 1206.8H1563 L1563 1207.4H1564 L1564 1209.2H1565 L1565 1210.0H1566 L1566 1210.1H1567 L1567 1208.7H1568 L1568 1207.2H1569 L1569 1209.8H1570 L1570 1209.3H1571 L1571 1209.2H1572 L1572 1208.2H1573 L1573 1210.1H1574 L1574 1210.1H1575 L1575 1209.9H1576 L1576 1208.8H1577 L1577 1209.2H1578 L1578 1204.0H1579 L1579 1208.9H1580 L1580 1206.2H1581 L1581 1209.9H1582 L1582 1210.3H1583 L1583 1206.9H1584 L1584 1209.2H1585 L1585 1210.2H1586 L1586 1208.8H1587 L1587 1208.8H1588 L1588 1209.8H1589 L1589 1206.5H1590 L1590 1207.2H1591 L1591 1209.3H1592 L1592 1209.9H1593 L1593 1209.8H1594 L1594 1206.2H1595 L1595 1209.5H1596 L1596 1208.9H1597 L1597 1210.2H1598 L1598 1208.8H1599 L1599 1203.6H1600 L1600 1206.4H1601 L1601 1209.6H1602 L1602 1210.0H1603 L1603 1209.0H1604 L1604 1209.1H1605 L1605 1208.0H1606 L1606 1210.4H1607 L1607 1208.3H1608 L1608 1202.6H1609 L1609 1210.3H1610 L1610 1209.6H1611 L1611 1209.4H1612 L1612 1207.0H1613 L1613 1210.4H1614 L1614 1210.6H1615 L1615 1209.9H1616 L1616 1207.0H1617 L1617 1210.2H1618 L1618 1210.4H1619 L1619 1208.5H1620 L1620 1210.6H1621 L1621 1208.6H1622 L1622 1209.6H1623 L1623 1209.7H1624 L1624 1207.8H1625 L1625 1209.9H1626 L1626 1209.6H1627 L1627 1210.2H1628 L1628 1207.8H1629 L1629 1208.0H1630 L1630 1208.3H1631 L1631 1210.7H1632 L1632 1209.8H1633 L1633 1209.6H1634 L1634 1209.6H1635 L1635 1204.8H1636 L1636 1210.5H1637 L1637 1209.1H1638 L1638 1208.4H1639 L1639 1210.0H1640 L1640 1199.6H1641 L1641 1210.8H1642 L1642 1208.6H1643 L1643 1210.2H1644 L1644 1210.0H1645 L1645 1199.7H1646 L1646 1210.3H1647 L1647 1205.7H1648 L1648 1209.1H1649 L1649 1207.4H1650 L1650 1203.9H1651 L1651 1208.3H1652 L1652 1207.7H1653 L1653 1210.7H1654 L1654 1205.8H1655 L1655 1210.9H1656 L1656 1209.6H1657 L1657 1210.2H1658 L1658 1209.0H1659 L1659 1210.5H1660 L1660 1209.4H1661 L1661 1209.1H1662 L1662 1211.0H1663 L1663 1209.6H1664 L1664 1209.9H1665 L1665 1210.4H1666 L1666 1210.9H1667 L1667 1211.0H1668 L1668 1209.0H1669 L1669 1202.5H1670 L1670 1207.6H1671 L1671 1210.7H1672 L1672 1208.5H1673 L1673 1210.9H1674 L1674 1210.7H1675 L1675 1211.1H1676 L1676 1208.2H1677 L1677 1207.8H1678 L1678 1210.3H1679 L1679 1210.6H1680 L1680 1208.4H1681 L1681 1210.3H1682 L1682 1211.0H1683 L1683 1210.0H1684 L1684 1210.0H1685 L1685 1209.1H1686 L1686 1209.2H1687 L1687 1201.0H1688 L1688 1211.0H1689 L1689 1206.5H1690 L1690 1210.8H1691 L1691 1209.3H1692 L1692 1210.3H1693 L1693 1210.4H1694 L1694 1211.4H1695 L1695 1210.9H1696 L1696 1210.1H1697 L1697 1206.3H1698 L1698 1210.7H1699 L1699 1210.9H1700 L1700 1210.3H1701 L1701 1211.2H1702 L1702 1209.6H1703 L1703 1210.8H1704 L1704 1211.4H1705 L1705 1205.7H1706 L1706 1209.2H1707 L1707 1209.4H1708 L1708 1208.7H1709 L1709 1211.3H1710 L1710 1211.3H1711 L1711 1211.5H1712 L1712 1211.1H1713 L1713 1209.4H1714 L1714 1211.3H1715 L1715 1206.7H1716 L1716 1210.6H1717 L1717 1203.8H1718 L1718 1210.2H1719 L1719 1210.4H1720 L1720 1210.8H1721 L1721 1209.9H1722 L1722 1210.8H1723 L1723 1208.9H1724 L1724 1211.1H1725 L1725 1211.5H1726 L1726 1210.3H1727 L1727 1211.4H1728 L1728 1211.3H1729 L1729 1201.8H1730 L1730 1209.4H1731 L1731 1211.1H1732 L1732 1210.8H1733 L1733 1210.6H1734 L1734 1211.2H1735 L1735 1211.2H1736 L1736 1211.3H1737 L1737 1211.3H1738 L1738 1211.4H1739 L1739 1208.6H1740 L1740 1209.5H1741 L1741 1205.5H1742 L1742 1210.2H1743 L1743 1211.4H1744 L1744 1210.7H1745 L1745 1208.1H1746 L1746 1210.3H1747 L1747 1209.2H1748 L1748 1211.3H1749 L1749 1211.5H1750 L1750 1206.6H1751 L1751 1210.8H1752 L1752 1208.5H1753 L1753 1210.5H1754 L1754 1211.2H1755 L1755 1210.0H1756 L1756 1210.9H1757 L1757 1211.6H1758 L1758 1209.5H1759 L1759 1203.4H1760 L1760 1209.0H1761 L1761 1210.2H1762 L1762 1209.5H1763 L1763 1209.5H1764 L1764 1211.8H1765 L1765 1208.3H1766 L1766 1211.8H1767 L1767 1207.5H1768 L1768 1210.4H1769 L1769 1211.7H1770 L1770 1209.8H1771 L1771 1205.5H1772 L1772 1210.0H1773 L1773 1211.7H1774 L1774 1211.4H1775 L1775 1209.6H1776 L1776 1210.5H1777 L1777 1210.9H1778 L1778 1211.5H1779 L1779 1211.7H1780 L1780 1211.4H1781 L1781 1211.3H1782 L1782 1211.4H1783 L1783 1209.7H1784 L1784 1211.6H1785 L1785 1211.5H1786 L1786 1210.9H1787 L1787 1211.1H1788 L1788 1211.1H1789 L1789 1211.9H1790 L1790 1211.1H1791 L1791 1209.6H1792 L1792 1208.6H1793 L1793 1209.8H1794 L1794 1211.4H1795 L1795 1210.5H1796 L1796 1211.4H1797 L1797 1211.1H1798 L1798 1207.7H1799 L1799 1211.0H1800 L1800 1210.5H1801 L1801 1211.2H1802 L1802 1210.6H1803 L1803 1210.9H1804 L1804 1212.0H1805 L1805 1211.7H1806 L1806 1210.3H1807 L1807 1211.0H1808 L1808 1209.8H1809 L1809 1211.8H1810 L1810 1212.0H1811 L1811 1210.5H1812 L1812 1210.8H1813 L1813 1210.8H1814 L1814 1209.9H1815 L1815 1211.7H1816 L1816 1208.3H1817 L1817 1209.1H1818 L1818 1208.9H1819 L1819 1210.0H1820 L1820 1211.7H1821 L1821 1209.5H1822 L1822 1208.0H1823 L1823 1207.8H1824 L1824 1209.1H1825 L1825 1210.1H1826 L1826 1211.8H1827 L1827 1212.0H1828 L1828 1211.1H1829 L1829 1209.0H1830 L1830 1211.2H1831 L1831 1211.2H1832 L1832 1210.5H1833 L1833 1212.0H1834 L1834 1211.4H1835 L1835 1211.7H1836 L1836 1211.8H1837 L1837 1211.9H1838 L1838 1210.0H1839 L1839 1207.4H1840 L1840 1210.3H1841 L1841 1208.1H1842 L1842 1211.3H1843 L1843 1211.7H1844 L1844 1208.1H1845 L1845 1211.9H1846 L1846 1212.2H1847 L1847 1211.1H1848 L1848 1209.2H1849 L1849 1211.5H1850 L1850 1204.9H1851 L1851 1211.0H1852 L1852 1211.6H1853 L1853 1211.2H1854 L1854 1211.8H1855 L1855 1212.1H1856 L1856 1211.2H1857 L1857 1210.6H1858 L1858 1210.6H1859 L1859 1211.2H1860 L1860 1212.3H1861 L1861 1210.8H1862 L1862 1212.0H1863 L1863 1212.3H1864 L1864 1211.6H1865 L1865 1210.4H1866 L1866 1211.8H1867 L1867 1211.7H1868 L1868 1210.8H1869 L1869 1211.5H1870 L1870 1211.4H1871 L1871 1208.8H1872 L1872 1211.9H1873 L1873 1211.2H1874 L1874 1212.2H1875 L1875 1210.5H1876 L1876 1211.9H1877 L1877 1210.8H1878 L1878 1211.3H1879 L1879 1209.3H1880 L1880 1212.3H1881 L1881 1212.4H1882 L1882 1208.8H1883 L1883 1211.6H1884 L1884 1285.1H1883 L1883 1285.1H1882 L1882 1286.1H1881 L1881 1286.1H1880 L1880 1287.1H1879 L1879 1285.4H1878 L1878 1285.0H1877 L1877 1285.0H1876 L1876 1286.6H1875 L1875 1287.7H1874 L1874 1285.8H1873 L1873 1285.8H1872 L1872 1285.3H1871 L1871 1285.3H1870 L1870 1286.5H1869 L1869 1286.5H1868 L1868 1286.5H1867 L1867 1286.5H1866 L1866 1287.0H1865 L1865 1287.0H1864 L1864 1285.3H1863 L1863 1285.3H1862 L1862 1286.3H1861 L1861 1286.3H1860 L1860 1287.1H1859 L1859 1285.7H1858 L1858 1286.7H1857 L1857 1286.7H1856 L1856 1286.7H1855 L1855 1286.7H1854 L1854 1285.0H1853 L1853 1285.0H1852 L1852 1284.7H1851 L1851 1284.7H1850 L1850 1285.7H1849 L1849 1285.7H1848 L1848 1286.2H1847 L1847 1286.2H1846 L1846 1285.7H1845 L1845 1285.7H1844 L1844 1284.7H1843 L1843 1287.6H1842 L1842 1285.7H1841 L1841 1285.7H1840 L1840 1286.0H1839 L1839 1286.0H1838 L1838 1286.2H1837 L1837 1286.2H1836 L1836 1285.8H1835 L1835 1285.8H1834 L1834 1290.5H1833 L1833 1286.3H1832 L1832 1286.4H1831 L1831 1286.4H1830 L1830 1285.4H1829 L1829 1285.4H1828 L1828 1293.1H1827 L1827 1284.9H1826 L1826 1285.8H1825 L1825 1285.8H1824 L1824 1287.6H1823 L1823 1285.6H1822 L1822 1285.5H1821 L1821 1286.7H1820 L1820 1286.8H1819 L1819 1286.8H1818 L1818 1285.9H1817 L1817 1285.9H1816 L1816 1286.7H1815 L1815 1286.7H1814 L1814 1286.9H1813 L1813 1286.9H1812 L1812 1286.2H1811 L1811 1286.2H1810 L1810 1284.6H1809 L1809 1287.2H1808 L1808 1286.1H1807 L1807 1286.1H1806 L1806 1286.8H1805 L1805 1290.6H1804 L1804 1286.6H1803 L1803 1286.6H1802 L1802 1285.1H1801 L1801 1285.1H1800 L1800 1287.4H1799 L1799 1285.5H1798 L1798 1284.7H1797 L1797 1286.8H1796 L1796 1284.6H1795 L1795 1285.8H1794 L1794 1286.2H1793 L1793 1286.2H1792 L1792 1284.5H1791 L1791 1284.5H1790 L1790 1285.2H1789 L1789 1285.2H1788 L1788 1285.7H1787 L1787 1285.7H1786 L1786 1286.0H1785 L1785 1290.1H1784 L1784 1284.8H1783 L1783 1284.8H1782 L1782 1287.7H1781 L1781 1286.1H1780 L1780 1294.0H1779 L1779 1286.3H1778 L1778 1286.3H1777 L1777 1286.3H1776 L1776 1285.5H1775 L1775 1288.4H1774 L1774 1286.6H1773 L1773 1286.6H1772 L1772 1286.6H1771 L1771 1286.6H1770 L1770 1285.1H1769 L1769 1285.1H1768 L1768 1285.6H1767 L1767 1285.6H1766 L1766 1286.6H1765 L1765 1286.6H1764 L1764 1285.1H1763 L1763 1285.1H1762 L1762 1289.8H1761 L1761 1286.3H1760 L1760 1286.0H1759 L1759 1286.0H1758 L1758 1284.8H1757 L1757 1284.8H1756 L1756 1286.9H1755 L1755 1291.2H1754 L1754 1287.0H1753 L1753 1287.0H1752 L1752 1286.2H1751 L1751 1286.2H1750 L1750 1287.6H1749 L1749 1285.8H1748 L1748 1286.6H1747 L1747 1291.6H1746 L1746 1289.6H1745 L1745 1286.0H1744 L1744 1285.2H1743 L1743 1285.2H1742 L1742 1286.1H1741 L1741 1290.2H1740 L1740 1286.7H1739 L1739 1286.7H1738 L1738 1285.5H1737 L1737 1285.5H1736 L1736 1288.5H1735 L1735 1285.1H1734 L1734 1286.1H1733 L1733 1286.1H1732 L1732 1287.6H1731 L1731 1286.6H1730 L1730 1288.5H1729 L1729 1285.7H1728 L1728 1285.4H1727 L1727 1285.4H1726 L1726 1286.3H1725 L1725 1288.0H1724 L1724 1286.4H1723 L1723 1286.4H1722 L1722 1287.2H1721 L1721 1287.2H1720 L1720 1285.4H1719 L1719 1285.4H1718 L1718 1285.5H1717 L1717 1285.5H1716 L1716 1284.9H1715 L1715 1284.9H1714 L1714 1285.6H1713 L1713 1285.6H1712 L1712 1285.1H1711 L1711 1285.1H1710 L1710 1286.1H1709 L1709 1290.3H1708 L1708 1285.7H1707 L1707 1285.7H1706 L1706 1286.9H1705 L1705 1291.5H1704 L1704 1286.9H1703 L1703 1286.9H1702 L1702 1286.8H1701 L1701 1286.8H1700 L1700 1287.0H1699 L1699 1290.5H1698 L1698 1286.5H1697 L1697 1286.5H1696 L1696 1285.8H1695 L1695 1285.8H1694 L1694 1288.3H1693 L1693 1286.6H1692 L1692 1286.4H1691 L1691 1286.4H1690 L1690 1289.1H1689 L1689 1286.1H1688 L1688 1285.0H1687 L1687 1288.0H1686 L1686 1286.9H1685 L1685 1284.6H1684 L1684 1285.8H1683 L1683 1285.8H1682 L1682 1285.9H1681 L1681 1285.9H1680 L1680 1285.0H1679 L1679 1285.0H1678 L1678 1285.9H1677 L1677 1285.9H1676 L1676 1293.7H1675 L1675 1284.6H1674 L1674 1286.4H1673 L1673 1286.4H1672 L1672 1287.1H1671 L1671 1284.8H1670 L1670 1285.4H1669 L1669 1285.4H1668 L1668 1285.7H1667 L1667 1285.7H1666 L1666 1285.9H1665 L1665 1285.9H1664 L1664 1284.7H1663 L1663 1284.7H1662 L1662 1286.6H1661 L1661 1286.6H1660 L1660 1286.5H1659 L1659 1286.5H1658 L1658 1285.2H1657 L1657 1285.2H1656 L1656 1285.1H1655 L1655 1290.8H1654 L1654 1285.3H1653 L1653 1285.3H1652 L1652 1285.3H1651 L1651 1285.3H1650 L1650 1286.4H1649 L1649 1288.3H1648 L1648 1286.9H1647 L1647 1288.3H1646 L1646 1286.2H1645 L1645 1286.2H1644 L1644 1285.9H1643 L1643 1285.9H1642 L1642 1285.8H1641 L1641 1285.8H1640 L1640 1284.7H1639 L1639 1284.7H1638 L1638 1286.5H1637 L1637 1286.5H1636 L1636 1285.8H1635 L1635 1285.8H1634 L1634 1289.0H1633 L1633 1284.6H1632 L1632 1286.8H1631 L1631 1289.0H1630 L1630 1285.5H1629 L1629 1285.5H1628 L1628 1294.0H1627 L1627 1286.4H1626 L1626 1285.1H1625 L1625 1293.4H1624 L1624 1287.7H1623 L1623 1284.7H1622 L1622 1285.1H1621 L1621 1285.1H1620 L1620 1286.9H1619 L1619 1286.9H1618 L1618 1286.6H1617 L1617 1286.6H1616 L1616 1286.7H1615 L1615 1286.7H1614 L1614 1286.8H1613 L1613 1286.8H1612 L1612 1284.7H1611 L1611 1284.7H1610 L1610 1286.3H1609 L1609 1284.6H1608 L1608 1287.0H1607 L1607 1287.0H1606 L1606 1286.4H1605 L1605 1286.4H1604 L1604 1286.0H1603 L1603 1286.2H1602 L1602 1286.4H1601 L1601 1286.4H1600 L1600 1286.0H1599 L1599 1286.0H1598 L1598 1284.8H1597 L1597 1284.8H1596 L1596 1285.4H1595 L1595 1285.4H1594 L1594 1285.7H1593 L1593 1287.3H1592 L1592 1286.0H1591 L1591 1288.5H1590 L1590 1294.0H1589 L1589 1286.2H1588 L1588 1285.1H1587 L1587 1285.1H1586 L1586 1284.9H1585 L1585 1284.9H1584 L1584 1292.7H1583 L1583 1285.9H1582 L1582 1284.8H1581 L1581 1284.8H1580 L1580 1289.8H1579 L1579 1286.0H1578 L1578 1285.3H1577 L1577 1285.3H1576 L1576 1286.4H1575 L1575 1286.4H1574 L1574 1287.3H1573 L1573 1288.7H1572 L1572 1284.6H1571 L1571 1284.6H1570 L1570 1287.0H1569 L1569 1287.0H1568 L1568 1284.7H1567 L1567 1284.7H1566 L1566 1287.4H1565 L1565 1290.2H1564 L1564 1285.6H1563 L1563 1285.6H1562 L1562 1287.0H1561 L1561 1285.2H1560 L1560 1287.0H1559 L1559 1285.8H1558 L1558 1286.4H1557 L1557 1286.4H1556 L1556 1285.6H1555 L1555 1285.6H1554 L1554 1286.8H1553 L1553 1286.8H1552 L1552 1285.0H1551 L1551 1287.4H1550 L1550 1284.7H1549 L1549 1284.7H1548 L1548 1285.9H1547 L1547 1285.9H1546 L1546 1286.3H1545 L1545 1286.3H1544 L1544 1285.5H1543 L1543 1286.8H1542 L1542 1287.7H1541 L1541 1286.6H1540 L1540 1293.0H1539 L1539 1285.0H1538 L1538 1286.4H1537 L1537 1286.4H1536 L1536 1293.8H1535 L1535 1286.5H1534 L1534 1286.1H1533 L1533 1290.5H1532 L1532 1285.7H1531 L1531 1285.7H1530 L1530 1284.9H1529 L1529 1294.0H1528 L1528 1285.6H1527 L1527 1285.6H1526 L1526 1284.8H1525 L1525 1284.8H1524 L1524 1285.8H1523 L1523 1285.8H1522 L1522 1285.4H1521 L1521 1285.4H1520 L1520 1286.2H1519 L1519 1285.0H1518 L1518 1285.0H1517 L1517 1285.0H1516 L1516 1284.5H1515 L1515 1284.5H1514 L1514 1286.0H1513 L1513 1286.0H1512 L1512 1286.7H1511 L1511 1286.7H1510 L1510 1284.6H1509 L1509 1284.6H1508 L1508 1285.8H1507 L1507 1285.8H1506 L1506 1286.9H1505 L1505 1286.9H1504 L1504 1286.3H1503 L1503 1286.3H1502 L1502 1286.3H1501 L1501 1286.3H1500 L1500 1290.6H1499 L1499 1286.4H1498 L1498 1285.9H1497 L1497 1285.9H1496 L1496 1285.3H1495 L1495 1285.3H1494 L1494 1285.1H1493 L1493 1285.1H1492 L1492 1285.0H1491 L1491 1285.0H1490 L1490 1286.5H1489 L1489 1286.5H1488 L1488 1287.5H1487 L1487 1285.5H1486 L1486 1286.5H1485 L1485 1286.5H1484 L1484 1290.6H1483 L1483 1288.3H1482 L1482 1287.8H1481 L1481 1285.6H1480 L1480 1286.6H1479 L1479 1286.6H1478 L1478 1286.7H1477 L1477 1290.3H1476 L1476 1285.7H1475 L1475 1285.7H1474 L1474 1284.6H1473 L1473 1284.6H1472 L1472 1284.6H1471 L1471 1287.0H1470 L1470 1288.8H1469 L1469 1286.5H1468 L1468 1285.4H1467 L1467 1285.4H1466 L1466 1285.9H1465 L1465 1289.1H1464 L1464 1285.1H1463 L1463 1286.6H1462 L1462 1286.9H1461 L1461 1286.9H1460 L1460 1287.0H1459 L1459 1287.0H1458 L1458 1286.6H1457 L1457 1286.6H1456 L1456 1294.0H1455 L1455 1284.7H1454 L1454 1286.2H1453 L1453 1290.8H1452 L1452 1285.6H1451 L1451 1285.6H1450 L1450 1289.8H1449 L1449 1286.0H1448 L1448 1285.3H1447 L1447 1285.3H1446 L1446 1290.5H1445 L1445 1294.0H1444 L1444 1284.6H1443 L1443 1287.8H1442 L1442 1286.0H1441 L1441 1286.0H1440 L1440 1285.5H1439 L1439 1287.9H1438 L1438 1290.5H1437 L1437 1288.4H1436 L1436 1286.2H1435 L1435 1286.2H1434 L1434 1285.2H1433 L1433 1285.2H1432 L1432 1291.2H1431 L1431 1287.9H1430 L1430 1287.9H1429 L1429 1285.7H1428 L1428 1285.8H1427 L1427 1285.8H1426 L1426 1284.5H1425 L1425 1284.5H1424 L1424 1284.7H1423 L1423 1284.7H1422 L1422 1286.4H1421 L1421 1289.8H1420 L1420 1287.0H1419 L1419 1287.0H1418 L1418 1284.8H1417 L1417 1284.8H1416 L1416 1286.8H1415 L1415 1286.8H1414 L1414 1290.2H1413 L1413 1286.3H1412 L1412 1286.6H1411 L1411 1289.5H1410 L1410 1286.9H1409 L1409 1286.9H1408 L1408 1287.6H1407 L1407 1291.9H1406 L1406 1285.1H1405 L1405 1287.9H1404 L1404 1288.1H1403 L1403 1285.8H1402 L1402 1285.3H1401 L1401 1285.3H1400 L1400 1286.9H1399 L1399 1286.9H1398 L1398 1285.0H1397 L1397 1285.0H1396 L1396 1284.8H1395 L1395 1290.7H1394 L1394 1284.8H1393 L1393 1284.8H1392 L1392 1286.1H1391 L1391 1286.1H1390 L1390 1286.4H1389 L1389 1291.3H1388 L1388 1284.9H1387 L1387 1284.9H1386 L1386 1285.7H1385 L1385 1285.7H1384 L1384 1286.9H1383 L1383 1286.9H1382 L1382 1285.6H1381 L1381 1287.2H1380 L1380 1287.7H1379 L1379 1286.3H1378 L1378 1286.5H1377 L1377 1286.5H1376 L1376 1285.8H1375 L1375 1285.8H1374 L1374 1285.5H1373 L1373 1286.9H1372 L1372 1292.6H1371 L1371 1284.7H1370 L1370 1284.6H1369 L1369 1284.6H1368 L1368 1285.2H1367 L1367 1285.2H1366 L1366 1285.3H1365 L1365 1285.3H1364 L1364 1284.9H1363 L1363 1284.9H1362 L1362 1285.0H1361 L1361 1285.0H1360 L1360 1286.3H1359 L1359 1285.0H1358 L1358 1286.4H1357 L1357 1286.4H1356 L1356 1288.1H1355 L1355 1290.1H1354 L1354 1285.8H1353 L1353 1285.8H1352 L1352 1286.6H1351 L1351 1288.5H1350 L1350 1285.2H1349 L1349 1285.2H1348 L1348 1285.9H1347 L1347 1292.9H1346 L1346 1286.0H1345 L1345 1286.0H1344 L1344 1284.6H1343 L1343 1291.6H1342 L1342 1285.0H1341 L1341 1285.0H1340 L1340 1290.5H1339 L1339 1286.8H1338 L1338 1286.0H1337 L1337 1286.0H1336 L1336 1285.8H1335 L1335 1288.0H1334 L1334 1286.4H1333 L1333 1294.0H1332 L1332 1286.3H1331 L1331 1286.3H1330 L1330 1284.8H1329 L1329 1284.8H1328 L1328 1287.0H1327 L1327 1287.0H1326 L1326 1285.1H1325 L1325 1285.1H1324 L1324 1290.6H1323 L1323 1286.2H1322 L1322 1284.7H1321 L1321 1284.7H1320 L1320 1284.7H1319 L1319 1284.7H1318 L1318 1284.7H1317 L1317 1284.7H1316 L1316 1294.0H1315 L1315 1286.6H1314 L1314 1286.7H1313 L1313 1286.7H1312 L1312 1286.2H1311 L1311 1286.2H1310 L1310 1285.0H1309 L1309 1287.8H1308 L1308 1286.7H1307 L1307 1286.7H1306 L1306 1286.0H1305 L1305 1286.0H1304 L1304 1285.8H1303 L1303 1285.8H1302 L1302 1286.9H1301 L1301 1286.9H1300 L1300 1286.4H1299 L1299 1286.4H1298 L1298 1285.7H1297 L1297 1285.7H1296 L1296 1286.4H1295 L1295 1286.4H1294 L1294 1286.8H1293 L1293 1286.8H1292 L1292 1285.0H1291 L1291 1285.0H1290 L1290 1285.0H1289 L1289 1288.7H1288 L1288 1285.1H1287 L1287 1285.1H1286 L1286 1285.4H1285 L1285 1285.4H1284 L1284 1284.7H1283 L1283 1289.0H1282 L1282 1285.1H1281 L1281 1287.3H1280 L1280 1284.7H1279 L1279 1284.7H1278 L1278 1284.7H1277 L1277 1284.7H1276 L1276 1292.5H1275 L1275 1285.9H1274 L1274 1294.0H1273 L1273 1285.9H1272 L1272 1286.9H1271 L1271 1286.9H1270 L1270 1288.1H1269 L1269 1285.6H1268 L1268 1286.0H1267 L1267 1289.6H1266 L1266 1286.1H1265 L1265 1286.1H1264 L1264 1286.1H1263 L1263 1286.1H1262 L1262 1285.9H1261 L1261 1285.9H1260 L1260 1285.9H1259 L1259 1285.9H1258 L1258 1287.0H1257 L1257 1287.0H1256 L1256 1284.7H1255 L1255 1284.7H1254 L1254 1284.9H1253 L1253 1284.9H1252 L1252 1285.3H1251 L1251 1291.2H1250 L1250 1286.4H1249 L1249 1286.4H1248 L1248 1286.5H1247 L1247 1286.5H1246 L1246 1286.3H1245 L1245 1286.3H1244 L1244 1292.5H1243 L1243 1284.6H1242 L1242 1284.9H1241 L1241 1284.9H1240 L1240 1285.3H1239 L1239 1285.3H1238 L1238 1285.1H1237 L1237 1285.1H1236 L1236 1290.6H1235 L1235 1284.9H1234 L1234 1286.5H1233 L1233 1287.7H1232 L1232 1285.8H1231 L1231 1285.8H1230 L1230 1290.5H1229 L1229 1286.0H1228 L1228 1287.5H1227 L1227 1285.4H1226 L1226 1286.6H1225 L1225 1286.6H1224 L1224 1285.9H1223 L1223 1285.9H1222 L1222 1286.2H1221 L1221 1286.2H1220 L1220 1285.8H1219 L1219 1285.8H1218 L1218 1290.3H1217 L1217 1288.3H1216 L1216 1285.0H1215 L1215 1290.3H1214 L1214 1285.0H1213 L1213 1285.0H1212 L1212 1285.5H1211 L1211 1285.5H1210 L1210 1286.6H1209 L1209 1289.6H1208 L1208 1289.6H1207 L1207 1285.3H1206 L1206 1286.9H1205 L1205 1286.9H1204 L1204 1284.5H1203 L1203 1284.5H1202 L1202 1286.9H1201 L1201 1286.9H1200 L1200 1284.8H1199 L1199 1284.8H1198 L1198 1286.5H1197 L1197 1286.5H1196 L1196 1285.4H1195 L1195 1285.4H1194 L1194 1285.2H1193 L1193 1285.2H1192 L1192 1288.3H1191 L1191 1288.3H1190 L1190 1286.1H1189 L1189 1286.1H1188 L1188 1288.8H1187 L1187 1288.9H1186 L1186 1285.7H1185 L1185 1285.7H1184 L1184 1285.3H1183 L1183 1285.3H1182 L1182 1286.1H1181 L1181 1284.9H1180 L1180 1286.6H1179 L1179 1286.6H1178 L1178 1284.8H1177 L1177 1284.8H1176 L1176 1286.2H1175 L1175 1286.2H1174 L1174 1290.3H1173 L1173 1286.9H1172 L1172 1289.2H1171 L1171 1285.2H1170 L1170 1285.3H1169 L1169 1285.3H1168 L1168 1287.0H1167 L1167 1287.0H1166 L1166 1286.1H1165 L1165 1285.1H1164 L1164 1286.9H1163 L1163 1289.8H1162 L1162 1284.8H1161 L1161 1289.1H1160 L1160 1286.8H1159 L1159 1286.8H1158 L1158 1285.6H1157 L1157 1285.6H1156 L1156 1286.5H1155 L1155 1286.5H1154 L1154 1286.5H1153 L1153 1288.5H1152 L1152 1284.9H1151 L1151 1284.9H1150 L1150 1286.8H1149 L1149 1286.8H1148 L1148 1290.2H1147 L1147 1284.7H1146 L1146 1286.2H1145 L1145 1286.2H1144 L1144 1285.4H1143 L1143 1287.2H1142 L1142 1288.5H1141 L1141 1285.4H1140 L1140 1289.7H1139 L1139 1291.1H1138 L1138 1285.9H1137 L1137 1285.9H1136 L1136 1286.2H1135 L1135 1286.2H1134 L1134 1285.0H1133 L1133 1285.0H1132 L1132 1284.6H1131 L1131 1284.6H1130 L1130 1284.5H1129 L1129 1284.5H1128 L1128 1285.2H1127 L1127 1285.2H1126 L1126 1284.8H1125 L1125 1284.8H1124 L1124 1285.9H1123 L1123 1285.9H1122 L1122 1284.9H1121 L1121 1284.9H1120 L1120 1284.9H1119 L1119 1284.9H1118 L1118 1285.2H1117 L1117 1287.7H1116 L1116 1286.3H1115 L1115 1286.3H1114 L1114 1284.6H1113 L1113 1291.2H1112 L1112 1284.8H1111 L1111 1284.8H1110 L1110 1288.2H1109 L1109 1286.0H1108 L1108 1285.5H1107 L1107 1285.5H1106 L1106 1287.6H1105 L1105 1294.0H1104 L1104 1285.1H1103 L1103 1285.1H1102 L1102 1288.6H1101 L1101 1286.3H1100 L1100 1285.7H1099 L1099 1285.7H1098 L1098 1285.4H1097 L1097 1289.2H1096 L1096 1287.7H1095 L1095 1286.1H1094 L1094 1286.0H1093 L1093 1287.3H1092 L1092 1286.2H1091 L1091 1288.2H1090 L1090 1285.7H1089 L1089 1285.7H1088 L1088 1285.9H1087 L1087 1290.6H1086 L1086 1286.4H1085 L1085 1289.3H1084 L1084 1285.9H1083 L1083 1285.9H1082 L1082 1286.7H1081 L1081 1286.7H1080 L1080 1285.1H1079 L1079 1290.0H1078 L1078 1284.7H1077 L1077 1284.7H1076 L1076 1286.6H1075 L1075 1286.6H1074 L1074 1286.1H1073 L1073 1286.1H1072 L1072 1285.1H1071 L1071 1285.1H1070 L1070 1286.5H1069 L1069 1286.5H1068 L1068 1284.7H1067 L1067 1284.7H1066 L1066 1285.6H1065 L1065 1285.6H1064 L1064 1291.4H1063 L1063 1285.9H1062 L1062 1286.2H1061 L1061 1286.2H1060 L1060 1286.3H1059 L1059 1286.3H1058 L1058 1285.7H1057 L1057 1285.7H1056 L1056 1285.1H1055 L1055 1285.1H1054 L1054 1286.7H1053 L1053 1286.7H1052 L1052 1286.3H1051 L1051 1286.3H1050 L1050 1286.8H1049 L1049 1286.8H1048 L1048 1288.9H1047 L1047 1286.8H1046 L1046 1286.0H1045 L1045 1288.3H1044 L1044 1288.1H1043 L1043 1286.1H1042 L1042 1285.8H1041 L1041 1285.8H1040 L1040 1284.6H1039 L1039 1284.6H1038 L1038 1286.2H1037 L1037 1286.2H1036 L1036 1285.9H1035 L1035 1285.9H1034 L1034 1287.1H1033 L1033 1285.4H1032 L1032 1284.6H1031 L1031 1288.6H1030 L1030 1285.1H1029 L1029 1285.1H1028 L1028 1284.8H1027 L1027 1284.8H1026 L1026 1285.5H1025 L1025 1285.5H1024 L1024 1285.8H1023 L1023 1285.8H1022 L1022 1285.1H1021 L1021 1285.1H1020 L1020 1289.9H1019 L1019 1285.1H1018 L1018 1286.2H1017 L1017 1286.2H1016 L1016 1286.9H1015 L1015 1286.9H1014 L1014 1288.1H1013 L1013 1290.0H1012 L1012 1286.7H1011 L1011 1286.7H1010 L1010 1285.8H1009 L1009 1288.6H1008 L1008 1287.0H1007 L1007 1287.0H1006 L1006 1284.8H1005 L1005 1284.8H1004 L1004 1294.0H1003 L1003 1285.6H1002 L1002 1286.3H1001 L1001 1286.3H1000 L1000 1284.8H999 L999 1284.8H998 L998 1284.7H997 L997 1284.7H996 L996 1285.2H995 L995 1285.2H994 L994 1286.7H993 L993 1286.7H992 L992 1286.5H991 L991 1286.5H990 L990 1285.3H989 L989 1285.3H988 L988 1285.3H987 L987 1285.3H986 L986 1286.8H985 L985 1286.8H984 L984 1286.5H983 L983 1289.5H982 L982 1284.9H981 L981 1286.4H980 L980 1287.0H979 L979 1287.0H978 L978 1285.4H977 L977 1285.4H976 L976 1287.8H975 L975 1285.6H974 L974 1289.5H973 L973 1284.8H972 L972 1285.3H971 L971 1285.3H970 L970 1284.5H969 L969 1284.5H968 L968 1289.4H967 L967 1286.7H966 L966 1286.2H965 L965 1286.2H964 L964 1284.7H963 L963 1284.7H962 L962 1285.6H961 L961 1285.6H960 L960 1289.8H959 L959 1285.1H958 L958 1293.1H957 L957 1284.6H956 L956 1286.9H955 L955 1286.9H954 L954 1294.0H953 L953 1285.9H952 L952 1286.9H951 L951 1286.9H950 L950 1285.8H949 L949 1285.8H948 L948 1286.6H947 L947 1286.6H946 L946 1286.0H945 L945 1286.0H944 L944 1284.8H943 L943 1284.8H942 L942 1286.0H941 L941 1289.0H940 L940 1285.3H939 L939 1285.3H938 L938 1286.9H937 L937 1286.9H936 L936 1286.0H935 L935 1286.0H934 L934 1289.7H933 L933 1294.0H932 L932 1287.3H931 L931 1285.2H930 L930 1285.9H929 L929 1285.9H928 L928 1284.6H927 L927 1284.6H926 L926 1284.6H925 L925 1284.6H924 L924 1294.0H923 L923 1289.4H922 L922 1286.9H921 L921 1286.9H920 L920 1285.0H919 L919 1285.0H918 L918 1285.5H917 L917 1285.5H916 L916 1288.4H915 L915 1286.6H914 L914 1286.4H913 L913 1286.4H912 L912 1286.9H911 L911 1286.9H910 L910 1286.7H909 L909 1286.7H908 L908 1286.8H907 L907 1293.6H906 L906 1286.6H905 L905 1286.6H904 L904 1286.8H903 L903 1289.1H902 L902 1284.6H901 L901 1284.6H900 L900 1284.7H899 L899 1284.7H898 L898 1285.0H897 L897 1285.0H896 L896 1286.8H895 L895 1290.3H894 L894 1285.1H893 L893 1285.1H892 L892 1285.9H891 L891 1285.9H890 L890 1286.2H889 L889 1286.2H888 L888 1294.0H887 L887 1288.3H886 L886 1285.2H885 L885 1285.2H884 L884 1285.4H883 L883 1287.1H882 L882 1285.6H881 L881 1285.6H880 L880 1285.7H879 L879 1285.7H878 L878 1285.5H877 L877 1285.5H876 L876 1290.9H875 L875 1286.5H874 L874 1286.8H873 L873 1286.8H872 L872 1285.7H871 L871 1287.0H870 L870 1285.6H869 L869 1285.6H868 L868 1285.8H867 L867 1285.8H866 L866 1284.8H865 L865 1284.8H864 L864 1286.5H863 L863 1286.5H862 L862 1286.6H861 L861 1286.6H860 L860 1285.2H859 L859 1285.2H858 L858 1285.3H857 L857 1285.3H856 L856 1285.2H855 L855 1285.2H854 L854 1286.9H853 L853 1286.9H852 L852 1286.8H851 L851 1286.8H850 L850 1287.8H849 L849 1286.3H848 L848 1286.9H847 L847 1286.9H846 L846 1286.4H845 L845 1286.4H844 L844 1286.0H843 L843 1286.0H842 L842 1286.1H841 L841 1286.1H840 L840 1286.9H839 L839 1286.9H838 L838 1285.8H837 L837 1285.8H836 L836 1286.4H835 L835 1286.4H834 L834 1285.5H833 L833 1285.5H832 L832 1286.1H831 L831 1286.1H830 L830 1284.6H829 L829 1284.6H828 L828 1286.6H827 L827 1286.6H826 L826 1286.1H825 L825 1286.1H824 L824 1285.4H823 L823 1294.0H822 L822 1286.0H821 L821 1287.0H820 L820 1286.3H819 L819 1286.3H818 L818 1286.7H817 L817 1288.6H816 L816 1285.2H815 L815 1285.2H814 L814 1286.9H813 L813 1286.9H812 L812 1286.3H811 L811 1286.3H810 L810 1285.6H809 L809 1285.6H808 L808 1285.8H807 L807 1285.8H806 L806 1286.4H805 L805 1286.4H804 L804 1286.4H803 L803 1287.4H802 L802 1291.1H801 L801 1286.5H800 L800 1285.3H799 L799 1285.3H798 L798 1293.2H797 L797 1285.0H796 L796 1285.8H795 L795 1285.8H794 L794 1286.9H793 L793 1286.9H792 L792 1286.2H791 L791 1286.2H790 L790 1286.0H789 L789 1286.0H788 L788 1292.1H787 L787 1284.7H786 L786 1286.5H785 L785 1286.5H784 L784 1286.1H783 L783 1286.1H782 L782 1284.5H781 L781 1284.5H780 L780 1293.8H779 L779 1286.2H778 L778 1285.3H777 L777 1285.3H776 L776 1286.0H775 L775 1286.0H774 L774 1285.4H773 L773 1285.4H772 L772 1286.1H771 L771 1287.1H770 L770 1286.1H769 L769 1286.1H768 L768 1288.2H767 L767 1286.1H766 L766 1284.5H765 L765 1284.5H764 L764 1286.8H763 L763 1286.8H762 L762 1284.9H761 L761 1286.0H760 L760 1286.1H759 L759 1286.1H758 L758 1284.9H757 L757 1284.9H756 L756 1291.0H755 L755 1294.0H754 L754 1286.8H753 L753 1286.8H752 L752 1286.7H751 L751 1286.7H750 L750 1286.2H749 L749 1286.2H748 L748 1284.6H747 L747 1285.7H746 L746 1285.9H745 L745 1285.9H744 L744 1286.6H743 L743 1286.6H742 L742 1285.3H741 L741 1285.3H740 L740 1285.1H739 L739 1285.1H738 L738 1288.9H737 L737 1286.7H736 L736 1285.4H735 L735 1285.4H734 L734 1286.8H733 L733 1286.8H732 L732 1286.0H731 L731 1290.1H730 L730 1286.7H729 L729 1286.7H728 L728 1290.6H727 L727 1285.5H726 L726 1285.8H725 L725 1285.8H724 L724 1286.6H723 L723 1286.6H722 L722 1286.0H721 L721 1290.7H720 L720 1286.9H719 L719 1286.9H718 L718 1285.6H717 L717 1285.6H716 L716 1285.2H715 L715 1285.2H714 L714 1286.0H713 L713 1286.0H712 L712 1286.4H711 L711 1285.0H710 L710 1286.0H709 L709 1287.8H708 L708 1286.4H707 L707 1286.4H706 L706 1286.7H705 L705 1286.7H704 L704 1287.2H703 L703 1285.5H702 L702 1285.6H701 L701 1287.1H700 L700 1286.7H699 L699 1286.7H698 L698 1284.7H697 L697 1284.7H696 L696 1288.3H695 L695 1285.6H694 L694 1286.0H693 L693 1286.0H692 L692 1286.5H691 L691 1286.5H690 L690 1285.1H689 L689 1285.1H688 L688 1286.2H687 L687 1288.9H686 L686 1286.3H685 L685 1286.3H684 L684 1284.5H683 L683 1284.5H682 L682 1287.7H681 L681 1286.6H680 L680 1285.7H679 L679 1285.7H678 L678 1284.8H677 L677 1291.7H676 L676 1285.6H675 L675 1291.5H674 L674 1284.6H673 L673 1284.6H672 L672 1286.0H671 L671 1286.0H670 L670 1285.2H669 L669 1285.2H668 L668 1285.5H667 L667 1285.5H666 L666 1285.0H665 L665 1285.0H664 L664 1284.6H663 L663 1284.6H662 L662 1285.6H661 L661 1285.6H660 L660 1285.2H659 L659 1285.2H658 L658 1286.2H657 L657 1286.2H656 L656 1285.5H655 L655 1285.5H654 L654 1284.6H653 L653 1284.6H652 L652 1287.0H651 L651 1287.0H650 L650 1286.0H649 L649 1287.8H648 L648 1285.6H647 L647 1285.6H646 L646 1285.0H645 L645 1288.6H644 L644 1286.7H643 L643 1286.7H642 L642 1286.3H641 L641 1290.0H640 L640 1287.7H639 L639 1286.5H638 L638 1286.2H637 L637 1284.5H636 L636 1292.2H635 L635 1286.3H634 L634 1286.8H633 L633 1286.8H632 L632 1286.9H631 L631 1286.9H630 L630 1285.7H629 L629 1285.7H628 L628 1287.0H627 L627 1287.0H626 L626 1286.9H625 L625 1291.4H624 L624 1288.9H623 L623 1286.0H622 L622 1286.7H621 L621 1286.7H620 L620 1284.9H619 L619 1286.1H618 L618 1287.0H617 L617 1294.0H616 L616 1286.0H615 L615 1286.0H614 L614 1284.6H613 L613 1286.1H612 L612 1286.4H611 L611 1286.4H610 L610 1285.8H609 L609 1285.8H608 L608 1285.4H607 L607 1285.4H606 L606 1285.5H605 L605 1285.5H604 L604 1286.9H603 L603 1286.9H602 L602 1287.0H601 L601 1287.0H600 L600 1288.0H599 L599 1285.8H598 L598 1286.7H597 L597 1287.9H596 L596 1288.7H595 L595 1285.9H594 L594 1285.7H593 L593 1285.7H592 L592 1286.3H591 L591 1286.3H590 L590 1286.7H589 L589 1286.7H588 L588 1285.7H587 L587 1287.3H586 L586 1285.1H585 L585 1285.1H584 L584 1286.1H583 L583 1286.1H582 L582 1292.0H581 L581 1286.7H580 L580 1286.5H579 L579 1286.5H578 L578 1286.3H577 L577 1286.3H576 L576 1285.3H575 L575 1285.3H574 L574 1292.4H573 L573 1285.9H572 L572 1285.2H571 L571 1288.6H570 L570 1284.8H569 L569 1284.8H568 L568 1289.7H567 L567 1285.7H566 L566 1286.2H565 L565 1286.2H564 L564 1291.7H563 L563 1285.9H562 L562 1286.2H561 L561 1286.2H560 L560 1286.6H559 L559 1286.6H558 L558 1286.8H557 L557 1286.8H556 L556 1287.0H555 L555 1286.0H554 L554 1288.8H553 L553 1285.6H552 L552 1285.1H551 L551 1285.1H550 L550 1290.0H549 L549 1286.9H548 L548 1286.5H547 L547 1286.5H546 L546 1286.5H545 L545 1286.5H544 L544 1287.4H543 L543 1285.9H542 L542 1286.7H541 L541 1288.2H540 L540 1285.7H539 L539 1289.8H538 L538 1285.6H537 L537 1285.6H536 L536 1285.3H535 L535 1285.3H534 L534 1290.2H533 L533 1284.7H532 L532 1284.6H531 L531 1284.6H530 L530 1284.5H529 L529 1284.5H528 L528 1289.1H527 L527 1288.8H526 L526 1290.0H525 L525 1286.5H524 L524 1284.7H523 L523 1284.7H522 L522 1284.6H521 L521 1284.6H520 L520 1286.9H519 L519 1286.9H518 L518 1285.3H517 L517 1294.0H516 L516 1288.5H515 L515 1286.5H514 L514 1286.1H513 L513 1286.1H512 L512 1285.8H511 L511 1285.8H510 L510 1285.2H509 L509 1285.2H508 L508 1284.6H507 L507 1284.6H506 L506 1285.8H505 L505 1290.6H504 L504 1285.1H503 L503 1287.1H502 L502 1285.5H501 L501 1285.5H500 L500 1284.6H499 L499 1286.5H498 L498 1286.1H497 L497 1286.1H496 L496 1286.1H495 L495 1286.1H494 L494 1285.3H493 L493 1285.3H492 L492 1286.5H491 L491 1286.5H490 L490 1286.9H489 L489 1286.9H488 L488 1286.9H487 L487 1287.9H486 L486 1286.9H485 L485 1291.8H484 L484 1286.4H483 L483 1286.4H482 L482 1285.6H481 L481 1285.6H480 L480 1286.0H479 L479 1286.2H478 L478 1286.8H477 L477 1286.8H476 L476 1286.2H475 L475 1286.2H474 L474 1284.9H473 L473 1289.1H472 L472 1286.1H471 L471 1286.1H470 L470 1285.0H469 L469 1285.0H468 L468 1285.8H467 L467 1293.0H466 L466 1287.9H465 L465 1285.2H464 L464 1287.0H463 L463 1285.7H462 L462 1286.7H461 L461 1290.1H460 L460 1285.6H459 L459 1285.6H458 L458 1284.9H457 L457 1284.9H456 L456 1286.9H455 L455 1286.9H454 L454 1288.3H453 L453 1285.6H452 L452 1291.7H451 L451 1286.5H450 L450 1285.7H449 L449 1285.7H448 L448 1286.6H447 L447 1289.5H446 L446 1284.9H445 L445 1284.9H444 L444 1287.3H443 L443 1284.8H442 L442 1284.8H441 L441 1284.8H440 L440 1289.7H439 L439 1286.1H438 L438 1291.9H437 L437 1286.0H436 L436 1285.0H435 L435 1285.0H434 L434 1285.7H433 L433 1285.7H432 L432 1286.8H431 L431 1286.8H430 L430 1285.9H429 L429 1285.9H428 L428 1285.2H427 L427 1285.2H426 L426 1287.4H425 L425 1285.7H424 L424 1286.7H423 L423 1286.7H422 L422 1285.0H421 L421 1287.3H420 L420 1285.6H419 L419 1293.1H418 L418 1285.7H417 L417 1288.6H416 L416 1286.3H415 L415 1286.3H414 L414 1288.4H413 L413 1284.5H412 L412 1286.9H411 L411 1286.9H410 L410 1286.5H409 L409 1291.7H408 L408 1285.2H407 L407 1285.2H406 L406 1286.5H405 L405 1286.5H404 L404 1286.5H403 L403 1286.5H402 L402 1286.5H401 L401 1286.5H400 L400 1285.3H399 L399 1285.3H398 L398 1284.9H397 L397 1284.9H396 L396 1285.5H395 L395 1285.5H394 L394 1287.0H393 L393 1289.3H392 L392 1285.7H391 L391 1285.7H390 L390 1284.8H389 L389 1284.8H388 L388 1285.6H387 L387 1285.6H386 L386 1287.2H385 L385 1285.2H384 L384 1285.4H383 L383 1286.9H382 L382 1288.6H381 L381 1284.9H380 L380 1287.4H379 L379 1286.0H378 L378 1286.8H377 L377 1286.8H376 L376 1284.8H375 L375 1287.7H374 L374 1284.8H373 L373 1284.8H372 L372 1288.7H371 L371 1286.9H370 L370 1285.0H369 L369 1293.7H368 L368 1284.9H367 L367 1284.9H366 L366 1286.9H365 L365 1285.7H364 L364 1284.9H363 L363 1284.9H362 L362 1286.9H361 L361 1286.9H360 L360 1290.9H359 L359 1286.1H358 L358 1289.0H357 L357 1286.5H356 L356 1285.6H355 L355 1285.6H354 L354 1286.3H353 L353 1287.6H352 L352 1285.1H351 L351 1286.4H350 L350 1286.9H349 L349 1285.8H348 L348 1286.9H347 L347 1286.9H346 L346 1285.5H345 L345 1285.5H344 L344 1286.5H343 L343 1286.5H342 L342 1290.0H341 L341 1286.5H340 L340 1285.9H339 L339 1285.9H338 L338 1291.9H337 L337 1285.5H336 L336 1285.6H335 L335 1285.6H334 L334 1288.6H333 L333 1286.2H332 L332 1285.0H331 L331 1285.0H330 L330 1286.0H329 L329 1286.0H328 L328 1286.2H327 L327 1286.2H326 L326 1284.9H325 L325 1284.9H324 L324 1286.9H323 L323 1286.9H322 L322 1285.1H321 L321 1285.1H320 L320 1285.5H319 L319 1285.5H318 L318 1287.5H317 L317 1285.7H316 L316 1285.3H315 L315 1285.3H314 L314 1285.5H313 L313 1285.5H312 L312 1286.3H311 L311 1286.3H310 L310 1286.5H309 L309 1286.5H308 L308 1284.8H307 L307 1284.8H306 L306 1285.1H305 L305 1285.1H304 L304 1285.1H303 L303 1285.1H302 L302 1286.8H301 L301 1286.8H300 L300 1286.1H299 L299 1286.1H298 L298 1285.1H297 L297 1287.0H296 L296 1284.7H295 L295 1284.7H294 L294 1285.6H293 L293 1285.6H292 L292 1284.6H291 L291 1284.6H290 L290 1287.0H289 L289 1287.0H288 L288 1286.8H287 L287 1286.8H286 L286 1284.7H285 L285 1284.7H284 L284 1286.4H283 L283 1286.4H282 L282 1284.6H281 L281 1284.6H280 L280 1284.8H279 L279 1284.8H278 L278 1284.8H277 L277 1284.8H276 L276 1285.1H275 L275 1285.1H274 L274 1288.2H273 L273 1286.5H272 L272 1284.9H271 L271 1284.9H270 L270 1286.4H269 L269 1286.4H268 L268 1286.6H267 L267 1286.6H266 L266 1284.6H265 L265 1284.6H264 L264 1285.6H263 L263 1285.6H262 L262 1286.4H261 L261 1286.4H260 L260 1289.1H259 L259 1285.5H258 L258 1286.7H257 L257 1286.7H256 L256 1286.8H255 L255 1286.8H254 L254 1286.5H253 L253 1286.5H252 L252 1286.5H251 L251 1286.5H250 L250 1285.9H249 L249 1288.5H248 L248 1288.9H247 L247 1284.7H246 L246 1289.6H245 L245 1286.8H244 L244 1284.9H243 L243 1287.5H242 L242 1285.0H241 L241 1294.0H240 L240 1285.0H239 L239 1285.0H238 L238 1286.1H237 L237 1286.1H236 L236 1284.5H235 L235 1284.5H234 L234 1285.2H233 L233 1285.2H232 L232 1291.2H231 L231 1285.3H230 L230 1286.1H229 L229 1286.1H228 L228 1286.7H227 L227 1289.7H226 L226 1285.2H225 L225 1285.2H224 L224 1286.1H223 L223 1286.1H222 L222 1285.0H221 L221 1285.0H220 L220 1285.1H219 L219 1285.1H218 L218 1284.8H217 L217 1286.9H216 L216 1287.7H215 L215 1287.9H214 L214 1285.9H213 L213 1285.9H212 L212 1285.3H211 L211 1288.9H210 L210 1286.0H209 L209 1286.0H208 L208 1285.3H207 L207 1288.7H206 L206 1289.8H205 L205 1286.8H204 L204 1284.7H203 L203 1289.0H202 L202 1285.6H201 L201 1285.6H200 L200 1286.0H199 L199 1286.0H198 L198 1291.2H197 L197 1286.2H196 L196 1286.6H195 L195 1286.6H194 L194 1287.4H193 L193 1286.0H192 L192 1284.8H191 L191 1284.8H190 L190 1287.4H189 L189 1286.1H188 L188 1286.4H187 L187 1286.4H186 L186 1285.6H185 L185 1285.6H184 L184 1289.4H183 L183 1287.0H182 L182 1285.6H181 L181 1285.6H180 L180 1286.3H179 L179 1286.3H178 L178 1287.7H177 L177 1286.7H176 L176 1285.6H175 L175 1285.6H174 L174 1285.4H173 L173 1285.4H172 L172 1284.9H171 L171 1284.9H170 L170 1286.3H169 L169 1287.4H168 L168 1286.9H167 L167 1288.8H166 L166 1284.8H165 L165 1290.4H164 L164 1284.7H163 L163 1284.7H162 L162 1284.7H161 L161 1284.7H160 L160 1289.6H159 L159 1285.3H158 L158 1287.9H157 L157 1286.4H156 L156 1287.2H155 L155 1291.1H154 L154 1285.0H153 L153 1285.0H152 L152 1285.0H151 L151 1285.0H150 L150 1285.7H149 L149 1285.7H148 L148 1286.2H147 L147 1287.1H146 L146 1284.8H145 L145 1289.2H144 L144 1286.9H143 L143 1286.9H142 L142 1285.8H141 L141 1285.8H140 L140 1285.0H139 L139 1285.0H138 L138 1287.8H137 L137 1286.7H136 L136 1286.7H135 L135 1286.7H134 L134 1286.8H133 L133 1286.8H132 L132 1286.2H131 L131 1286.2H130 L130 1285.8H129 L129 1285.8H128 L128 1285.8H127 L127 1287.9H126 L126 1289.1H125 L125 1286.2H124 L124 1286.5H123 L123 1287.8H122 L122 1286.1H121 L121 1286.1H120 L120 1287.0H119 L119 1287.0H118 L118 1286.3H117 L117 1286.3H116 L116 1291.3H115 L115 1285.8H114 L114 1286.1H113 L113 1286.1H112Z" fill="#c80404"/>
<line x1="1883.4" y1="1186" x2="1883.4" y2="1306" stroke="#c80404" stroke-width="1.6" />
<rect x="111.2" y="932" width="1772" height="409" fill="none" stroke="#303030" stroke-width="1.5" />
<line x1="111.2" y1="1341" x2="111.2" y2="1357" stroke="#303030" stroke-width="1.5" />
<line x1="512.44" y1="1341" x2="512.44" y2="1357" stroke="#303030" stroke-width="1.5" />
<line x1="913.68" y1="1341" x2="913.68" y2="1357" stroke="#303030" stroke-width="1.5" />
<line x1="1314.92" y1="1341" x2="1314.92" y2="1357" stroke="#303030" stroke-width="1.5" />
<line x1="1716.16" y1="1341" x2="1716.16" y2="1357" stroke="#303030" stroke-width="1.5" />
<line x1="311.82" y1="1341" x2="311.82" y2="1349" stroke="#303030" stroke-width="1.5" />
<line x1="713.06" y1="1341" x2="713.06" y2="1349" stroke="#303030" stroke-width="1.5" />
<line x1="1114.3" y1="1341" x2="1114.3" y2="1349" stroke="#303030" stroke-width="1.5" />
<line x1="1515.54" y1="1341" x2="1515.54" y2="1349" stroke="#303030" stroke-width="1.5" />
<line x1="95.2" y1="1282.3" x2="111.2" y2="1282.3" stroke="#303030" stroke-width="1.5" />
<line x1="95.2" y1="1165.56" x2="111.2" y2="1165.56" stroke="#303030" stroke-width="1.5" />
<line x1="95.2" y1="1048.82" x2="111.2" y2="1048.82" stroke="#303030" stroke-width="1.5" />
<line x1="95.2" y1="932.08" x2="111.2" y2="932.08" stroke="#303030" stroke-width="1.5" />
<line x1="103.2" y1="1340.67" x2="111.2" y2="1340.67" stroke="#303030" stroke-width="1.5" />
<line x1="103.2" y1="1223.93" x2="111.2" y2="1223.93" stroke="#303030" stroke-width="1.5" />
<line x1="103.2" y1="1107.19" x2="111.2" y2="1107.19" stroke="#303030" stroke-width="1.5" />
<line x1="103.2" y1="990.45" x2="111.2" y2="990.45" stroke="#303030" stroke-width="1.5" />
<text transform="translate(111.2 1384.5) scale(1 1.04)" font-size="28.8" text-anchor="middle" >0</text>
<text transform="translate(512.44 1384.5) scale(1 1.04)" font-size="28.8" text-anchor="middle" >20000</text>
<text transform="translate(913.68 1384.5) scale(1 1.04)" font-size="28.8" text-anchor="middle" >40000</text>
<text transform="translate(1314.92 1384.5) scale(1 1.04)" font-size="28.8" text-anchor="middle" >60000</text>
<text transform="translate(1716.16 1384.5) scale(1 1.04)" font-size="28.8" text-anchor="middle" >80000</text>
<text transform="translate(89 1290.3) scale(1 1.04)" font-size="28.8" text-anchor="end" >0.0</text>
<text transform="translate(89 1173.56) scale(1 1.04)" font-size="28.8" text-anchor="end" >0.2</text>
<text transform="translate(89 1056.82) scale(1 1.04)" font-size="28.8" text-anchor="end" >0.4</text>
<text transform="translate(89 940.08) scale(1 1.04)" font-size="28.8" text-anchor="end" >0.6</text>
<text transform="translate(1023.5 1415) scale(1 1.04)" font-size="32.5" text-anchor="middle" >Time (s)</text>
<text transform="translate(33 1126) rotate(-90) scale(1 1.04)" font-size="31.5" text-anchor="middle" >Potential (V)</text>
<text transform="translate(9 945.7) scale(1 1.04)" font-size="40" >f</text>
<rect x="146.2" y="1189.2" width="36.3" height="110.3" fill="none" stroke="#000" stroke-width="2.1" stroke-dasharray="6.5 3.5"/>
<line x1="166.2" y1="1187.5" x2="205.5" y2="1148.7" stroke="#000" stroke-width="2.1" />
<rect x="937" y="1190.5" width="36.2" height="110" fill="none" stroke="#000" stroke-width="2.1" stroke-dasharray="6.5 3.5"/>
<line x1="953" y1="1187.5" x2="993" y2="1149" stroke="#000" stroke-width="2.1" />
<rect x="1725" y="1190.7" width="36.7" height="109.8" fill="none" stroke="#000" stroke-width="2.1" stroke-dasharray="6.5 3.5"/>
<line x1="1744.5" y1="1193.7" x2="1792.5" y2="1146.2" stroke="#000" stroke-width="2.1" />
<rect x="188.7" y="966.2" width="262.5" height="181.8" fill="#fff" stroke="#444" stroke-width="1.3" />
<line x1="185.7" y1="1121.4" x2="188.7" y2="1121.4" stroke="#444" stroke-width="1.3" />
<text transform="translate(181.5 1129.98) scale(1 1.04)" font-size="24.5" text-anchor="end" >0.00</text>
<line x1="185.7" y1="1069.6" x2="188.7" y2="1069.6" stroke="#444" stroke-width="1.3" />
<text transform="translate(181.5 1078.18) scale(1 1.04)" font-size="24.5" text-anchor="end" >0.04</text>
<line x1="185.7" y1="1017.8" x2="188.7" y2="1017.8" stroke="#444" stroke-width="1.3" />
<text transform="translate(181.5 1026.38) scale(1 1.04)" font-size="24.5" text-anchor="end" >0.08</text>
<line x1="185.7" y1="966" x2="188.7" y2="966" stroke="#444" stroke-width="1.3" />
<text transform="translate(181.5 974.58) scale(1 1.04)" font-size="24.5" text-anchor="end" >0.12</text>
<line x1="186.9" y1="1147.3" x2="188.7" y2="1147.3" stroke="#444" stroke-width="1.3" />
<line x1="186.9" y1="1095.5" x2="188.7" y2="1095.5" stroke="#444" stroke-width="1.3" />
<line x1="186.9" y1="1043.7" x2="188.7" y2="1043.7" stroke="#444" stroke-width="1.3" />
<line x1="186.9" y1="991.9" x2="188.7" y2="991.9" stroke="#444" stroke-width="1.3" />
<line x1="188.7" y1="1148" x2="188.7" y2="1151" stroke="#444" stroke-width="1.3" />
<line x1="221.5" y1="1148" x2="221.5" y2="1150" stroke="#444" stroke-width="1.3" />
<line x1="254.3" y1="1148" x2="254.3" y2="1151" stroke="#444" stroke-width="1.3" />
<line x1="287.1" y1="1148" x2="287.1" y2="1150" stroke="#444" stroke-width="1.3" />
<line x1="319.9" y1="1148" x2="319.9" y2="1151" stroke="#444" stroke-width="1.3" />
<line x1="352.7" y1="1148" x2="352.7" y2="1150" stroke="#444" stroke-width="1.3" />
<line x1="385.5" y1="1148" x2="385.5" y2="1151" stroke="#444" stroke-width="1.3" />
<line x1="418.3" y1="1148" x2="418.3" y2="1150" stroke="#444" stroke-width="1.3" />
<line x1="451.1" y1="1148" x2="451.1" y2="1151" stroke="#444" stroke-width="1.3" />
<path d="M189.7 1121.4 L192.7 1118.81 L194.56 1116.22 L196.25 1092.91 L198.23 1056.65 L199.5 1011.33 L200.48 1006.36 L201.05 1001.18 L202.46 1016.72 L205 1037.44 L207.54 1052.98 L209.52 1069.6 L211.77 1105.86 L213.47 1111.04 L216.57 1116.82 L220.24 1120.65 L222.78 1116.22 L224.47 1092.91 L226.45 1056.65 L227.72 1011.33 L228.71 1001.36 L229.27 996.18 L230.68 1011.72 L233.22 1032.44 L235.76 1047.98 L237.74 1069.6 L240 1105.86 L241.69 1111.04 L244.79 1116.63 L248.46 1121.93 L252.5 1116.22 L254.19 1092.91 L256.17 1056.65 L257.44 1011.33 L258.43 997.62 L258.99 992.44 L260.4 1007.98 L262.94 1028.7 L265.48 1044.24 L267.46 1069.6 L269.72 1105.86 L271.41 1111.04 L274.51 1115.67 L278.18 1121.86 L281.97 1116.22 L283.66 1092.91 L285.64 1056.65 L286.91 1011.33 L287.9 993.87 L288.46 988.69 L289.87 1004.23 L292.41 1024.95 L294.95 1040.49 L296.93 1069.6 L299.19 1105.86 L300.88 1111.04 L303.98 1117.76 L307.65 1121.77 L310.69 1116.22 L312.39 1092.91 L314.36 1056.65 L315.63 1011.33 L316.62 1005.11 L317.18 999.93 L318.59 1015.47 L321.13 1036.19 L323.67 1051.73 L325.65 1069.6 L327.91 1105.86 L329.6 1111.04 L332.7 1118.54 L336.37 1120.25 L340.16 1116.22 L341.86 1092.91 L343.83 1056.65 L345.1 1011.33 L346.09 1005.86 L346.65 1000.68 L348.06 1016.22 L350.6 1036.94 L353.14 1052.48 L355.12 1069.6 L357.38 1105.86 L359.07 1111.04 L362.18 1115.88 L365.84 1120.23 L368.13 1116.22 L369.83 1092.91 L371.8 1056.65 L373.07 1011.33 L374.06 995.12 L374.63 989.94 L376.04 1005.48 L378.58 1026.2 L381.12 1041.74 L383.09 1069.6 L385.35 1105.86 L387.04 1111.04 L390.15 1116.29 L393.82 1120.83 L396.86 1116.22 L398.55 1092.91 L400.52 1056.65 L401.79 1011.33 L402.78 993.87 L403.35 988.69 L404.76 1004.23 L407.3 1024.95 L409.84 1040.49 L411.81 1069.6 L414.07 1105.86 L415.76 1111.04 L418.87 1117.71 L422.54 1120.35 L425.08 1116.22 L426.77 1092.91 L428.75 1056.65 L430.02 1011.33 L431 1000.61 L431.57 995.43 L432.98 1010.97 L435.52 1031.69 L438.06 1047.23 L440.03 1069.6 L442.29 1105.86 L443.99 1111.04 L447.09 1116.23 L450.76 1121.72" fill="none" stroke="#f24646" stroke-width="1.3" stroke-linejoin="round" />
<rect x="188.7" y="966.2" width="262.5" height="181.8" fill="none" stroke="#444" stroke-width="1.3" />
<rect x="884.5" y="966.5" width="277.5" height="181.7" fill="#fff" stroke="#000" stroke-width="1.5" />
<line x1="881.5" y1="1122" x2="884.5" y2="1122" stroke="#000" stroke-width="1.5" />
<text transform="translate(878.5 1130.33) scale(1 1.04)" font-size="23.8" text-anchor="end" >0.00</text>
<line x1="881.5" y1="1070.12" x2="884.5" y2="1070.12" stroke="#000" stroke-width="1.5" />
<text transform="translate(878.5 1078.45) scale(1 1.04)" font-size="23.8" text-anchor="end" >0.04</text>
<line x1="881.5" y1="1018.24" x2="884.5" y2="1018.24" stroke="#000" stroke-width="1.5" />
<text transform="translate(878.5 1026.57) scale(1 1.04)" font-size="23.8" text-anchor="end" >0.08</text>
<line x1="881.5" y1="966.36" x2="884.5" y2="966.36" stroke="#000" stroke-width="1.5" />
<text transform="translate(878.5 974.69) scale(1 1.04)" font-size="23.8" text-anchor="end" >0.12</text>
<line x1="882.7" y1="1147.94" x2="884.5" y2="1147.94" stroke="#000" stroke-width="1.5" />
<line x1="882.7" y1="1096.06" x2="884.5" y2="1096.06" stroke="#000" stroke-width="1.5" />
<line x1="882.7" y1="1044.18" x2="884.5" y2="1044.18" stroke="#000" stroke-width="1.5" />
<line x1="882.7" y1="992.3" x2="884.5" y2="992.3" stroke="#000" stroke-width="1.5" />
<line x1="887" y1="1148.2" x2="887" y2="1151.2" stroke="#000" stroke-width="1.5" />
<line x1="917.8" y1="1148.2" x2="917.8" y2="1150.2" stroke="#000" stroke-width="1.5" />
<line x1="948.6" y1="1148.2" x2="948.6" y2="1151.2" stroke="#000" stroke-width="1.5" />
<line x1="979.4" y1="1148.2" x2="979.4" y2="1150.2" stroke="#000" stroke-width="1.5" />
<line x1="1010.2" y1="1148.2" x2="1010.2" y2="1151.2" stroke="#000" stroke-width="1.5" />
<line x1="1041" y1="1148.2" x2="1041" y2="1150.2" stroke="#000" stroke-width="1.5" />
<line x1="1071.8" y1="1148.2" x2="1071.8" y2="1151.2" stroke="#000" stroke-width="1.5" />
<line x1="1102.6" y1="1148.2" x2="1102.6" y2="1150.2" stroke="#000" stroke-width="1.5" />
<line x1="1133.4" y1="1148.2" x2="1133.4" y2="1151.2" stroke="#000" stroke-width="1.5" />
<path d="M885.5 1114.22 L888.5 1122 L890.97 1116.81 L892.65 1093.47 L894.61 1057.15 L895.86 1011.75 L896.84 991.38 L897.4 986.19 L898.8 1001.76 L901.32 1022.51 L903.84 1038.07 L905.79 1070.12 L908.03 1106.44 L909.15 1125.46 L911.39 1110.63 L914.19 1118.11 L916.42 1123.3 L918.94 1116.81 L920.62 1093.47 L922.58 1057.15 L923.84 1011.75 L924.82 995.13 L925.37 989.94 L926.77 1005.5 L929.29 1026.26 L931.81 1041.82 L933.77 1070.12 L936 1106.44 L937.12 1123.36 L939.36 1111.01 L942.16 1118.11 L944.4 1123.3 L946.41 1116.81 L948.09 1093.47 L950.05 1057.15 L951.31 1011.75 L952.29 997.63 L952.85 992.44 L954.25 1008 L956.76 1028.75 L959.28 1044.32 L961.24 1070.12 L963.48 1106.44 L964.6 1126.37 L966.83 1112 L969.63 1118.11 L971.87 1123.3 L974.39 1116.81 L976.06 1093.47 L978.02 1057.15 L979.28 1011.75 L980.26 1000.87 L980.82 995.68 L982.22 1011.25 L984.74 1032 L987.25 1047.56 L989.21 1070.12 L991.45 1106.44 L992.57 1128.01 L994.81 1109.52 L997.6 1118.11 L999.84 1123.3 L1001.36 1116.81 L1003.04 1093.47 L1005 1057.15 L1006.25 1011.75 L1007.23 997.63 L1007.79 992.44 L1009.19 1008 L1011.71 1028.75 L1014.23 1044.32 L1016.18 1070.12 L1018.42 1106.44 L1019.54 1126.97 L1021.78 1110.71 L1024.58 1118.11 L1026.81 1123.3 L1028.33 1116.81 L1030.01 1093.47 L1031.97 1057.15 L1033.23 1011.75 L1034.21 1001.37 L1034.77 996.18 L1036.16 1011.75 L1038.68 1032.5 L1041.2 1048.06 L1043.16 1070.12 L1045.39 1106.44 L1046.51 1125.39 L1048.75 1111.4 L1051.55 1118.11 L1053.79 1123.3 L1055.8 1116.81 L1057.48 1093.47 L1059.44 1057.15 L1060.7 1011.75 L1061.68 999.62 L1062.24 994.44 L1063.64 1010 L1066.15 1030.75 L1068.67 1046.32 L1070.63 1070.12 L1072.87 1106.44 L1073.99 1126.34 L1076.22 1112.43 L1079.02 1118.11 L1081.26 1123.3 L1083.28 1116.81 L1084.96 1093.47 L1086.91 1057.15 L1088.17 1011.75 L1089.15 991.38 L1089.71 986.19 L1091.11 1001.76 L1093.63 1022.51 L1096.14 1038.07 L1098.1 1070.12 L1100.34 1106.44 L1101.46 1123.5 L1103.7 1111.52 L1106.49 1118.11 L1108.73 1123.3 L1110.25 1116.81 L1111.93 1093.47 L1113.89 1057.15 L1115.14 1011.75 L1116.12 996.38 L1116.68 991.19 L1118.08 1006.75 L1120.6 1027.5 L1123.12 1043.07 L1125.07 1070.12 L1127.31 1106.44 L1128.43 1127.6 L1130.67 1112.28 L1133.47 1118.11 L1135.7 1123.3 L1137.72 1116.81 L1139.4 1093.47 L1141.36 1057.15 L1142.62 1011.75 L1143.6 985.14 L1144.16 979.95 L1145.55 995.51 L1148.07 1016.27 L1150.59 1031.83 L1152.55 1070.12 L1154.79 1106.44 L1155.9 1124.83 L1158.14 1112.85 L1160.94 1118.11 L1163 1123.3" fill="none" stroke="#f24646" stroke-width="1.3" stroke-linejoin="round" />
<rect x="884.5" y="966.5" width="277.5" height="181.7" fill="none" stroke="#000" stroke-width="1.5" />
<rect x="1581.2" y="964.5" width="276.8" height="181" fill="#fff" stroke="#000" stroke-width="1.5" />
<line x1="1578.2" y1="1120" x2="1581.2" y2="1120" stroke="#000" stroke-width="1.5" />
<text transform="translate(1575 1128.12) scale(1 1.04)" font-size="23.2" text-anchor="end" >0.00</text>
<line x1="1578.2" y1="1068.12" x2="1581.2" y2="1068.12" stroke="#000" stroke-width="1.5" />
<text transform="translate(1575 1076.24) scale(1 1.04)" font-size="23.2" text-anchor="end" >0.04</text>
<line x1="1578.2" y1="1016.24" x2="1581.2" y2="1016.24" stroke="#000" stroke-width="1.5" />
<text transform="translate(1575 1024.36) scale(1 1.04)" font-size="23.2" text-anchor="end" >0.08</text>
<line x1="1578.2" y1="964.36" x2="1581.2" y2="964.36" stroke="#000" stroke-width="1.5" />
<text transform="translate(1575 972.48) scale(1 1.04)" font-size="23.2" text-anchor="end" >0.12</text>
<line x1="1579.4" y1="1145.94" x2="1581.2" y2="1145.94" stroke="#000" stroke-width="1.5" />
<line x1="1579.4" y1="1094.06" x2="1581.2" y2="1094.06" stroke="#000" stroke-width="1.5" />
<line x1="1579.4" y1="1042.18" x2="1581.2" y2="1042.18" stroke="#000" stroke-width="1.5" />
<line x1="1579.4" y1="990.3" x2="1581.2" y2="990.3" stroke="#000" stroke-width="1.5" />
<line x1="1609" y1="1145.5" x2="1609" y2="1148.5" stroke="#000" stroke-width="1.5" />
<line x1="1648.5" y1="1145.5" x2="1648.5" y2="1147.5" stroke="#000" stroke-width="1.5" />
<line x1="1688" y1="1145.5" x2="1688" y2="1148.5" stroke="#000" stroke-width="1.5" />
<line x1="1727.5" y1="1145.5" x2="1727.5" y2="1147.5" stroke="#000" stroke-width="1.5" />
<line x1="1767" y1="1145.5" x2="1767" y2="1148.5" stroke="#000" stroke-width="1.5" />
<line x1="1806.5" y1="1145.5" x2="1806.5" y2="1147.5" stroke="#000" stroke-width="1.5" />
<line x1="1846" y1="1145.5" x2="1846" y2="1148.5" stroke="#000" stroke-width="1.5" />
<path d="M1582.2 1112.22 L1585.2 1120 L1585.54 1114.81 L1587.64 1091.47 L1590.09 1055.15 L1591.66 1009.75 L1592.89 993.88 L1593.59 988.69 L1595.33 1004.26 L1598.48 1025.01 L1601.63 1040.57 L1604.08 1068.12 L1606.87 1104.44 L1608.27 1125.86 L1611.07 1109.03 L1614.57 1116.11 L1617.36 1121.3 L1620.51 1114.81 L1622.61 1091.47 L1625.05 1055.15 L1626.63 1009.75 L1627.85 998.87 L1628.55 993.69 L1630.3 1009.25 L1633.45 1030 L1636.59 1045.57 L1639.04 1068.12 L1641.84 1104.44 L1643.24 1122.72 L1646.03 1108.75 L1649.53 1116.11 L1652.33 1121.3 L1654.23 1114.81 L1656.32 1091.47 L1658.77 1055.15 L1660.34 1009.75 L1661.57 993.88 L1662.27 988.69 L1664.02 1004.26 L1667.16 1025.01 L1670.31 1040.57 L1672.76 1068.12 L1675.55 1104.44 L1676.95 1121.86 L1679.75 1108.81 L1683.25 1116.11 L1686.04 1121.3 L1689.19 1114.81 L1691.29 1091.47 L1693.74 1055.15 L1695.31 1009.75 L1696.53 990.13 L1697.23 984.95 L1698.98 1000.51 L1702.13 1021.26 L1705.27 1036.83 L1707.72 1068.12 L1710.52 1104.44 L1711.92 1125.79 L1714.72 1110.02 L1718.21 1116.11 L1721.01 1121.3 L1724.91 1114.81 L1727 1091.47 L1729.45 1055.15 L1731.02 1009.75 L1732.25 988.14 L1732.95 982.95 L1734.7 998.51 L1737.84 1019.26 L1740.99 1034.83 L1743.44 1068.12 L1746.23 1104.44 L1747.63 1121.6 L1750.43 1110.28 L1753.93 1116.11 L1756.72 1121.3 L1760.37 1114.81 L1762.47 1091.47 L1764.92 1055.15 L1766.49 1009.75 L1767.71 991.38 L1768.41 986.19 L1770.16 1001.76 L1773.31 1022.51 L1776.45 1038.07 L1778.9 1068.12 L1781.7 1104.44 L1783.1 1125.3 L1785.89 1107.47 L1789.39 1116.11 L1792.19 1121.3 L1794.09 1114.81 L1796.18 1091.47 L1798.63 1055.15 L1800.2 1009.75 L1801.43 990.13 L1802.13 984.95 L1803.88 1000.51 L1807.02 1021.26 L1810.17 1036.83 L1812.62 1068.12 L1815.41 1104.44 L1816.81 1122.14 L1819.61 1108.6 L1823.11 1116.11 L1825.9 1121.3 L1829.55 1114.81 L1831.65 1091.47 L1834.1 1055.15 L1835.67 1009.75 L1836.89 992.13 L1837.59 986.94 L1839.34 1002.51 L1842.49 1023.26 L1845.63 1038.82 L1848.08 1068.12 L1850.88 1104.44 L1852.28 1124.47 L1855.07 1108.04 L1858.57 1116.11 L1859 1121.3" fill="none" stroke="#f24646" stroke-width="1.3" stroke-linejoin="round" />
<rect x="1581.2" y="964.5" width="276.8" height="181" fill="none" stroke="#000" stroke-width="1.5" />
<rect x="1624.7" y="110.6" width="40.3" height="28.2" fill="#97c1ff" stroke="none" stroke-width="1" />
<rect x="1624.7" y="138.7" width="40.3" height="35" fill="#80b4ff" stroke="none" stroke-width="1" />
<rect x="1624.7" y="153" width="40.3" height="5" fill="#4175da" stroke="none" stroke-width="1" />
<ellipse cx="1634.7" cy="113.6" rx="3.6" ry="2.1" fill="#b9f0c9"/>
<ellipse cx="1655.7" cy="113.6" rx="3.6" ry="2.1" fill="#b9f0c9"/>
<ellipse cx="1635.5" cy="134" rx="3.6" ry="2.1" fill="#b9f0c9"/>
<ellipse cx="1656" cy="134" rx="3.6" ry="2.1" fill="#b9f0c9"/>
<rect x="1755.4" y="110.6" width="39.6" height="28.2" fill="#97c1ff" stroke="none" stroke-width="1" />
<rect x="1755.4" y="138.7" width="39.6" height="35" fill="#80b4ff" stroke="none" stroke-width="1" />
<rect x="1755.4" y="153" width="39.6" height="5" fill="#4175da" stroke="none" stroke-width="1" />
<ellipse cx="1765.4" cy="113.6" rx="3.6" ry="2.1" fill="#b9f0c9"/>
<ellipse cx="1786.4" cy="113.6" rx="3.6" ry="2.1" fill="#b9f0c9"/>
<ellipse cx="1766.2" cy="134" rx="3.6" ry="2.1" fill="#b9f0c9"/>
<ellipse cx="1786.7" cy="134" rx="3.6" ry="2.1" fill="#b9f0c9"/>
<path d="M1665 147.5 C1680 152 1692 161.5 1712 162 C1732 162 1743 155 1755.5 149" fill="none" stroke="#d6d2ad" stroke-width="2.5"/>
<path d="M1665 143 C1682 147 1694 156.5 1712 157 C1730 157 1742 148.5 1755.5 143.5" fill="none" stroke="#8e8e8e" stroke-width="7.5"/>
<path d="M1682 147.5 C1692 154 1702 158.5 1713 158.5 C1726 158.5 1738 154 1748 148" fill="none" stroke="#4c4c4c" stroke-width="5.5" stroke-linecap="round"/>
<path d="M1682 147.5 C1692 154 1702 158.5 1713 158.5 C1726 158.5 1738 154 1748 148" fill="none" stroke="#92bbf7" stroke-width="3.6" stroke-linecap="round"/>
<path d="M1682 141.5 C1694 147.5 1704 150 1714 150 C1728 150 1742 143.5 1755.5 141" fill="none" stroke="#8a8a8a" stroke-width="6"/>
<path d="M1392 301 C1408 291 1420 287.5 1433 287.5 C1448 287.5 1460 292 1472 301" fill="none" stroke="#e6e2bd" stroke-width="3"/>
<path d="M1392 299.5 C1408 289 1420 285.8 1433 285.8 C1448 285.8 1460 290 1472 299.5" fill="none" stroke="#3c3c3c" stroke-width="2.6"/>
<path d="M1395 296 C1410 286.5 1421 283 1433 283 C1447 283 1459 287 1470 296" fill="none" stroke="#92bbf7" stroke-width="4.2"/>
<path d="M1395 293.2 C1410 283.5 1421 280.3 1433 280.3 C1447 280.3 1459 284.3 1470 293" fill="none" stroke="#6a6a6a" stroke-width="1.4"/>
<path d="M1394 292 C1409 280.5 1421 276.8 1433 276.8 C1447 276.8 1459 281 1471 291" fill="none" stroke="#969696" stroke-width="7"/>
<polygon points="1387.5,290 1398,264 1399.2,282 1395.5,302 1388.7,328.5" fill="#79a9f2" />
<polygon points="1367.5,264 1398,264 1387.5,290 1345.2,290" fill="#97c1ff" />
<polygon points="1345.2,290 1387.5,290 1388.7,328.5 1350,328.5" fill="#80b4ff" />
<polygon points="1347.8,307.3 1388,307.3 1388.2,312.2 1348.4,312.2" fill="#4175da" />
<ellipse cx="1373" cy="266" rx="3.8" ry="2.3" fill="#b9f0c9"/>
<ellipse cx="1389.7" cy="266" rx="3.8" ry="2.3" fill="#b9f0c9"/>
<ellipse cx="1359" cy="284.7" rx="3.8" ry="2.3" fill="#b9f0c9"/>
<ellipse cx="1379" cy="284.7" rx="3.8" ry="2.3" fill="#b9f0c9"/>
<polygon points="1468.7,265 1477.5,291.2 1476.2,330.6 1470,308 1467.2,287.5" fill="#79a9f2" />
<polygon points="1468.7,265 1500,265 1521.9,291.2 1477.5,291.2" fill="#97c1ff" />
<polygon points="1477.5,291.2 1521.9,291.2 1516.9,330.6 1476.2,330.6" fill="#80b4ff" />
<polygon points="1477,308.5 1519.6,308.5 1519,313.7 1476.8,313.7" fill="#4175da" />
<ellipse cx="1477.9" cy="266.6" rx="3.8" ry="2.3" fill="#b9f0c9"/>
<ellipse cx="1494.7" cy="266.6" rx="3.8" ry="2.3" fill="#b9f0c9"/>
<ellipse cx="1488" cy="286.2" rx="3.8" ry="2.3" fill="#b9f0c9"/>
<ellipse cx="1509" cy="286.5" rx="3.8" ry="2.3" fill="#b9f0c9"/>
</svg>
</body></html>
